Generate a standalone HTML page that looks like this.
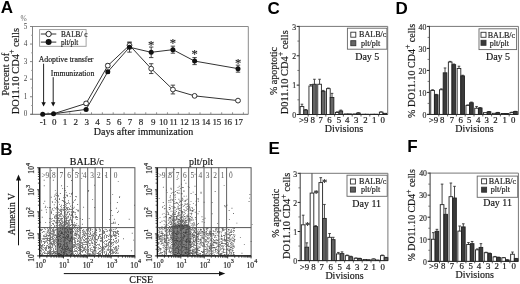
<!DOCTYPE html>
<html><head><meta charset="utf-8"><style>
html,body{margin:0;padding:0;background:#fff;width:520px;height:284px;overflow:hidden}
svg{display:block;filter:blur(0.3px)}
text{font-family:"Liberation Serif",serif;stroke:#222;stroke-width:0.22px;stroke-opacity:0.8} .L{font-family:"Liberation Sans",sans-serif;font-weight:bold;stroke:none}
</style></head><body>
<svg width="520" height="284" viewBox="0 0 520 284" font-family="Liberation Serif"><text class="L" x="0.8" y="13.2" font-family="Liberation Sans" font-weight="bold" font-size="17" fill="#000">A</text>
<line x1="32.5" y1="26.5" x2="248.3" y2="26.5" stroke="#8a8a8a" stroke-width="1" />
<line x1="248.3" y1="26.5" x2="248.3" y2="114.3" stroke="#8a8a8a" stroke-width="1" />
<line x1="32.5" y1="26" x2="32.5" y2="114.8" stroke="#808080" stroke-width="1" />
<line x1="30.5" y1="114.3" x2="248.3" y2="114.3" stroke="#6a6a6a" stroke-width="1" />
<line x1="30" y1="114.3" x2="32.5" y2="114.3" stroke="#777" stroke-width="0.9" />
<text x="27.3" y="116.4" font-size="7.2" text-anchor="end" fill="#444" font-family="Liberation Serif" style="stroke:none">0</text>
<line x1="31" y1="105.52" x2="32.5" y2="105.52" stroke="#999" stroke-width="0.8" />
<line x1="30" y1="96.74" x2="32.5" y2="96.74" stroke="#777" stroke-width="0.9" />
<text x="27.3" y="98.84" font-size="7.2" text-anchor="end" fill="#444" font-family="Liberation Serif" style="stroke:none">1</text>
<line x1="31" y1="87.96" x2="32.5" y2="87.96" stroke="#999" stroke-width="0.8" />
<line x1="30" y1="79.18" x2="32.5" y2="79.18" stroke="#777" stroke-width="0.9" />
<text x="27.3" y="81.28" font-size="7.2" text-anchor="end" fill="#444" font-family="Liberation Serif" style="stroke:none">2</text>
<line x1="31" y1="70.4" x2="32.5" y2="70.4" stroke="#999" stroke-width="0.8" />
<line x1="30" y1="61.62" x2="32.5" y2="61.62" stroke="#777" stroke-width="0.9" />
<text x="27.3" y="63.72" font-size="7.2" text-anchor="end" fill="#444" font-family="Liberation Serif" style="stroke:none">3</text>
<line x1="31" y1="52.84" x2="32.5" y2="52.84" stroke="#999" stroke-width="0.8" />
<line x1="30" y1="44.06" x2="32.5" y2="44.06" stroke="#777" stroke-width="0.9" />
<text x="27.3" y="46.16" font-size="7.2" text-anchor="end" fill="#444" font-family="Liberation Serif" style="stroke:none">4</text>
<line x1="31" y1="35.28" x2="32.5" y2="35.28" stroke="#999" stroke-width="0.8" />
<line x1="30" y1="26.5" x2="32.5" y2="26.5" stroke="#777" stroke-width="0.9" />
<text x="27.3" y="28.6" font-size="7.2" text-anchor="end" fill="#444" font-family="Liberation Serif" style="stroke:none">5</text>
<text x="23.6" y="21" font-size="7.5" text-anchor="middle" fill="#666" font-family="Liberation Serif" style="stroke:none">%</text>
<line x1="48.1" y1="114.3" x2="48.1" y2="112.3" stroke="#777" stroke-width="0.8" />
<text x="43.1" y="125" font-size="9" text-anchor="middle" fill="#222" font-family="Liberation Serif" letter-spacing="-0.4">-1</text>
<line x1="58.95" y1="114.3" x2="58.95" y2="112.3" stroke="#777" stroke-width="0.8" />
<text x="53.95" y="125" font-size="9" text-anchor="middle" fill="#222" font-family="Liberation Serif" letter-spacing="-0.4">0</text>
<line x1="69.8" y1="114.3" x2="69.8" y2="112.3" stroke="#777" stroke-width="0.8" />
<text x="64.8" y="125" font-size="9" text-anchor="middle" fill="#222" font-family="Liberation Serif" letter-spacing="-0.4">1</text>
<line x1="80.65" y1="114.3" x2="80.65" y2="112.3" stroke="#777" stroke-width="0.8" />
<text x="75.65" y="125" font-size="9" text-anchor="middle" fill="#222" font-family="Liberation Serif" letter-spacing="-0.4">2</text>
<line x1="91.5" y1="114.3" x2="91.5" y2="112.3" stroke="#777" stroke-width="0.8" />
<text x="86.5" y="125" font-size="9" text-anchor="middle" fill="#222" font-family="Liberation Serif" letter-spacing="-0.4">3</text>
<line x1="102.35" y1="114.3" x2="102.35" y2="112.3" stroke="#777" stroke-width="0.8" />
<text x="97.35" y="125" font-size="9" text-anchor="middle" fill="#222" font-family="Liberation Serif" letter-spacing="-0.4">4</text>
<line x1="113.2" y1="114.3" x2="113.2" y2="112.3" stroke="#777" stroke-width="0.8" />
<text x="108.2" y="125" font-size="9" text-anchor="middle" fill="#222" font-family="Liberation Serif" letter-spacing="-0.4">5</text>
<line x1="124.05" y1="114.3" x2="124.05" y2="112.3" stroke="#777" stroke-width="0.8" />
<text x="119.05" y="125" font-size="9" text-anchor="middle" fill="#222" font-family="Liberation Serif" letter-spacing="-0.4">6</text>
<line x1="134.9" y1="114.3" x2="134.9" y2="112.3" stroke="#777" stroke-width="0.8" />
<text x="129.9" y="125" font-size="9" text-anchor="middle" fill="#222" font-family="Liberation Serif" letter-spacing="-0.4">7</text>
<line x1="145.75" y1="114.3" x2="145.75" y2="112.3" stroke="#777" stroke-width="0.8" />
<text x="140.75" y="125" font-size="9" text-anchor="middle" fill="#222" font-family="Liberation Serif" letter-spacing="-0.4">8</text>
<line x1="156.6" y1="114.3" x2="156.6" y2="112.3" stroke="#777" stroke-width="0.8" />
<text x="153" y="125" font-size="9" text-anchor="middle" fill="#222" font-family="Liberation Serif" letter-spacing="-0.4">9</text>
<line x1="167.45" y1="114.3" x2="167.45" y2="112.3" stroke="#777" stroke-width="0.8" />
<text x="163.2" y="125" font-size="9" text-anchor="middle" fill="#222" font-family="Liberation Serif" letter-spacing="-0.4">10</text>
<line x1="178.3" y1="114.3" x2="178.3" y2="112.3" stroke="#777" stroke-width="0.8" />
<text x="173.4" y="125" font-size="9" text-anchor="middle" fill="#222" font-family="Liberation Serif" letter-spacing="-0.4">11</text>
<line x1="189.15" y1="114.3" x2="189.15" y2="112.3" stroke="#777" stroke-width="0.8" />
<text x="184.15" y="125" font-size="9" text-anchor="middle" fill="#222" font-family="Liberation Serif" letter-spacing="-0.4">12</text>
<line x1="200" y1="114.3" x2="200" y2="112.3" stroke="#777" stroke-width="0.8" />
<text x="195" y="125" font-size="9" text-anchor="middle" fill="#222" font-family="Liberation Serif" letter-spacing="-0.4">13</text>
<line x1="210.85" y1="114.3" x2="210.85" y2="112.3" stroke="#777" stroke-width="0.8" />
<text x="205.85" y="125" font-size="9" text-anchor="middle" fill="#222" font-family="Liberation Serif" letter-spacing="-0.4">14</text>
<line x1="221.7" y1="114.3" x2="221.7" y2="112.3" stroke="#777" stroke-width="0.8" />
<text x="216.7" y="125" font-size="9" text-anchor="middle" fill="#222" font-family="Liberation Serif" letter-spacing="-0.4">15</text>
<line x1="232.55" y1="114.3" x2="232.55" y2="112.3" stroke="#777" stroke-width="0.8" />
<text x="227.55" y="125" font-size="9" text-anchor="middle" fill="#222" font-family="Liberation Serif" letter-spacing="-0.4">16</text>
<line x1="243.4" y1="114.3" x2="243.4" y2="112.3" stroke="#777" stroke-width="0.8" />
<text x="238.4" y="125" font-size="9" text-anchor="middle" fill="#222" font-family="Liberation Serif" letter-spacing="-0.4">17</text>
<text x="143.5" y="135" font-size="10" text-anchor="middle" fill="#111" font-family="Liberation Serif">Days after immunization</text>
<text transform="translate(8.8,74.3) rotate(-90)" font-size="10.5" text-anchor="middle" font-family="Liberation Serif" fill="#111">Percent of</text>
<text transform="translate(18.7,71.2) rotate(-90)" font-size="10.4" text-anchor="middle" font-family="Liberation Serif" fill="#111">DO11.10 CD4<tspan font-size="7.8" dy="-4.3">+</tspan><tspan dy="4.3"> cells</tspan></text>
<text x="38.7" y="62.1" font-size="7.8" text-anchor="start" fill="#111" font-family="Liberation Serif">Adoptive transfer</text>
<text x="50.8" y="75.6" font-size="7.75" text-anchor="start" fill="#111" font-family="Liberation Serif">Immunization</text>
<line x1="43.6" y1="63.7" x2="43.6" y2="103" stroke="#222" stroke-width="1" />
<path d="M41.4 102.2 L45.8 102.2 L43.6 106.6 Z" fill="#111"/>
<line x1="53.2" y1="77.2" x2="53.2" y2="103" stroke="#222" stroke-width="1" />
<path d="M51 102.2 L55.4 102.2 L53.2 106.6 Z" fill="#111"/>
<polyline points="42.7,114.3 53.55,113.77 86.1,103.41 107.8,65.66 129.5,45.29 151.2,68.64 172.9,89.54 194.6,95.86 238,100.6" fill="none" stroke="#333" stroke-width="1"/>
<polyline points="42.7,114.3 53.55,113.77 86.1,109.38 107.8,71.8 129.5,47.22 151.2,52.31 172.9,49.68 194.6,61.09 238,68.64" fill="none" stroke="#333" stroke-width="1"/>
<line x1="86.1" y1="101.66" x2="86.1" y2="105.17" stroke="#333" stroke-width="0.9" />
<line x1="83.9" y1="101.66" x2="88.3" y2="101.66" stroke="#333" stroke-width="0.9" />
<line x1="83.9" y1="105.17" x2="88.3" y2="105.17" stroke="#333" stroke-width="0.9" />
<line x1="107.8" y1="63.9" x2="107.8" y2="67.41" stroke="#333" stroke-width="0.9" />
<line x1="105.6" y1="63.9" x2="110" y2="63.9" stroke="#333" stroke-width="0.9" />
<line x1="105.6" y1="67.41" x2="110" y2="67.41" stroke="#333" stroke-width="0.9" />
<line x1="129.5" y1="42.13" x2="129.5" y2="48.45" stroke="#333" stroke-width="0.9" />
<line x1="127.3" y1="42.13" x2="131.7" y2="42.13" stroke="#333" stroke-width="0.9" />
<line x1="127.3" y1="48.45" x2="131.7" y2="48.45" stroke="#333" stroke-width="0.9" />
<line x1="151.2" y1="63.73" x2="151.2" y2="73.56" stroke="#333" stroke-width="0.9" />
<line x1="149" y1="63.73" x2="153.4" y2="63.73" stroke="#333" stroke-width="0.9" />
<line x1="149" y1="73.56" x2="153.4" y2="73.56" stroke="#333" stroke-width="0.9" />
<line x1="172.9" y1="85.15" x2="172.9" y2="93.93" stroke="#333" stroke-width="0.9" />
<line x1="170.7" y1="85.15" x2="175.1" y2="85.15" stroke="#333" stroke-width="0.9" />
<line x1="170.7" y1="93.93" x2="175.1" y2="93.93" stroke="#333" stroke-width="0.9" />
<line x1="194.6" y1="94.98" x2="194.6" y2="96.74" stroke="#333" stroke-width="0.9" />
<line x1="192.4" y1="94.98" x2="196.8" y2="94.98" stroke="#333" stroke-width="0.9" />
<line x1="192.4" y1="96.74" x2="196.8" y2="96.74" stroke="#333" stroke-width="0.9" />
<line x1="238" y1="99.73" x2="238" y2="101.48" stroke="#333" stroke-width="0.9" />
<line x1="235.8" y1="99.73" x2="240.2" y2="99.73" stroke="#333" stroke-width="0.9" />
<line x1="235.8" y1="101.48" x2="240.2" y2="101.48" stroke="#333" stroke-width="0.9" />
<line x1="86.1" y1="108.51" x2="86.1" y2="110.26" stroke="#333" stroke-width="0.9" />
<line x1="83.9" y1="108.51" x2="88.3" y2="108.51" stroke="#333" stroke-width="0.9" />
<line x1="83.9" y1="110.26" x2="88.3" y2="110.26" stroke="#333" stroke-width="0.9" />
<line x1="107.8" y1="70.4" x2="107.8" y2="73.21" stroke="#333" stroke-width="0.9" />
<line x1="105.6" y1="70.4" x2="110" y2="70.4" stroke="#333" stroke-width="0.9" />
<line x1="105.6" y1="73.21" x2="110" y2="73.21" stroke="#333" stroke-width="0.9" />
<line x1="129.5" y1="42.3" x2="129.5" y2="52.14" stroke="#333" stroke-width="0.9" />
<line x1="127.3" y1="42.3" x2="131.7" y2="42.3" stroke="#333" stroke-width="0.9" />
<line x1="127.3" y1="52.14" x2="131.7" y2="52.14" stroke="#333" stroke-width="0.9" />
<line x1="151.2" y1="47.05" x2="151.2" y2="57.58" stroke="#333" stroke-width="0.9" />
<line x1="149" y1="47.05" x2="153.4" y2="47.05" stroke="#333" stroke-width="0.9" />
<line x1="149" y1="57.58" x2="153.4" y2="57.58" stroke="#333" stroke-width="0.9" />
<line x1="172.9" y1="46.17" x2="172.9" y2="53.19" stroke="#333" stroke-width="0.9" />
<line x1="170.7" y1="46.17" x2="175.1" y2="46.17" stroke="#333" stroke-width="0.9" />
<line x1="170.7" y1="53.19" x2="175.1" y2="53.19" stroke="#333" stroke-width="0.9" />
<line x1="194.6" y1="57.58" x2="194.6" y2="64.61" stroke="#333" stroke-width="0.9" />
<line x1="192.4" y1="57.58" x2="196.8" y2="57.58" stroke="#333" stroke-width="0.9" />
<line x1="192.4" y1="64.61" x2="196.8" y2="64.61" stroke="#333" stroke-width="0.9" />
<line x1="238" y1="65.13" x2="238" y2="72.16" stroke="#333" stroke-width="0.9" />
<line x1="235.8" y1="65.13" x2="240.2" y2="65.13" stroke="#333" stroke-width="0.9" />
<line x1="235.8" y1="72.16" x2="240.2" y2="72.16" stroke="#333" stroke-width="0.9" />
<circle cx="86.1" cy="103.41" r="2.4" fill="#fff" stroke="#222" stroke-width="0.9"/>
<circle cx="107.8" cy="65.66" r="2.4" fill="#fff" stroke="#222" stroke-width="0.9"/>
<circle cx="129.5" cy="45.29" r="2.4" fill="#fff" stroke="#222" stroke-width="0.9"/>
<circle cx="151.2" cy="68.64" r="2.4" fill="#fff" stroke="#222" stroke-width="0.9"/>
<circle cx="172.9" cy="89.54" r="2.4" fill="#fff" stroke="#222" stroke-width="0.9"/>
<circle cx="194.6" cy="95.86" r="2.4" fill="#fff" stroke="#222" stroke-width="0.9"/>
<circle cx="238" cy="100.6" r="2.4" fill="#fff" stroke="#222" stroke-width="0.9"/>
<circle cx="42.7" cy="114.3" r="2.5" fill="#111"/>
<circle cx="53.55" cy="113.77" r="2.5" fill="#111"/>
<circle cx="86.1" cy="109.38" r="2.5" fill="#111"/>
<circle cx="107.8" cy="71.8" r="2.5" fill="#111"/>
<circle cx="129.5" cy="47.22" r="2.5" fill="#111"/>
<circle cx="151.2" cy="52.31" r="2.5" fill="#111"/>
<circle cx="172.9" cy="49.68" r="2.5" fill="#111"/>
<circle cx="194.6" cy="61.09" r="2.5" fill="#111"/>
<circle cx="238" cy="68.64" r="2.5" fill="#111"/>
<text x="151.2" y="48.6" font-size="12.5" text-anchor="middle" fill="#222" font-family="Liberation Serif">*</text>
<text x="172.9" y="46.7" font-size="12.5" text-anchor="middle" fill="#222" font-family="Liberation Serif">*</text>
<text x="194.6" y="58" font-size="12.5" text-anchor="middle" fill="#222" font-family="Liberation Serif">*</text>
<text x="238" y="66.7" font-size="12.5" text-anchor="middle" fill="#222" font-family="Liberation Serif">*</text>
<rect x="39.6" y="29.6" width="46.5" height="16.7" fill="none" stroke="#999" stroke-width="0.9"/>
<line x1="40.8" y1="34" x2="56.3" y2="34" stroke="#333" stroke-width="1" />
<circle cx="48.6" cy="34" r="2.7" fill="#fff" stroke="#222" stroke-width="1"/>
<line x1="40.8" y1="42.1" x2="56.3" y2="42.1" stroke="#333" stroke-width="1" />
<circle cx="48.6" cy="42.1" r="3" fill="#111"/>
<text x="61" y="36.8" font-size="7.3" text-anchor="start" fill="#222" font-family="Liberation Serif">BALB/ c</text>
<text x="61" y="44.8" font-size="7.2" text-anchor="start" fill="#222" font-family="Liberation Serif">plt/plt</text>
<text class="L" x="0.3" y="155.2" font-family="Liberation Sans" font-weight="bold" font-size="17" fill="#000">B</text>
<rect x="56.5" y="227" width="16" height="28.5" fill="#808080"/>
<path d="M50.95 169.92h.9v.9h-.9zM72.79 169.76h.9v.9h-.9zM77.93 172.98h.9v.9h-.9zM81.86 172.75h.9v.9h-.9zM97 173.97h.9v.9h-.9zM104.93 175.26h.9v.9h-.9zM50.15 177.25h.9v.9h-.9zM81.24 177.95h.9v.9h-.9zM43.72 179.79h.9v.9h-.9zM52.91 179.76h.9v.9h-.9zM71.09 180.04h.9v.9h-.9zM117.82 181.16h.9v.9h-.9zM43.81 185.25h.9v.9h-.9zM61.16 185.25h.9v.9h-.9zM94.11 184.77h.9v.9h-.9zM66.86 185.95h.9v.9h-.9zM62.18 187.9h.9v.9h-.9zM64.2 188.02h.9v.9h-.9zM54.91 190.22h.9v.9h-.9zM64.22 189.96h.9v.9h-.9zM64.93 189.96h.9v.9h-.9zM88.16 190.05h.9v.9h-.9zM87.88 191.21h.9v.9h-.9zM65.77 192.2h.9v.9h-.9zM72.1 191.9h.9v.9h-.9zM55.72 192.8h.9v.9h-.9zM59.89 193.08h.9v.9h-.9zM69.2 193.17h.9v.9h-.9zM71.21 193.06h.9v.9h-.9zM71.85 192.77h.9v.9h-.9zM54.71 194.3h.9v.9h-.9zM57.13 194.29h.9v.9h-.9zM64.25 194.09h.9v.9h-.9zM71.16 194.2h.9v.9h-.9zM112.2 194.21h.9v.9h-.9zM55.81 195.11h.9v.9h-.9zM58.1 194.92h.9v.9h-.9zM63.81 195.23h.9v.9h-.9zM66.22 194.85h.9v.9h-.9zM67.02 194.85h.9v.9h-.9zM53.91 195.79h.9v.9h-.9zM57.81 196.19h.9v.9h-.9zM66.9 195.83h.9v.9h-.9zM69.8 195.92h.9v.9h-.9zM75.05 195.9h.9v.9h-.9zM75.98 196.29h.9v.9h-.9zM119.22 195.97h.9v.9h-.9zM50.8 196.86h.9v.9h-.9zM63.19 197.23h.9v.9h-.9zM64.81 197.02h.9v.9h-.9zM118.99 197.09h.9v.9h-.9zM55.14 197.74h.9v.9h-.9zM59.04 197.95h.9v.9h-.9zM54.73 199.01h.9v.9h-.9zM59.11 199.09h.9v.9h-.9zM75.06 199.26h.9v.9h-.9zM92.15 199.21h.9v.9h-.9zM56.11 199.92h.9v.9h-.9zM61.82 200.04h.9v.9h-.9zM62.81 200.13h.9v.9h-.9zM68.08 200.22h.9v.9h-.9zM73.97 199.92h.9v.9h-.9zM44.29 200.86h.9v.9h-.9zM51.88 201.22h.9v.9h-.9zM57.02 200.92h.9v.9h-.9zM63.25 201.03h.9v.9h-.9zM63.89 201.02h.9v.9h-.9zM51.99 202.22h.9v.9h-.9zM54.78 201.86h.9v.9h-.9zM58.25 201.72h.9v.9h-.9zM63.9 201.97h.9v.9h-.9zM65.15 201.81h.9v.9h-.9zM68.04 201.76h.9v.9h-.9zM73.01 201.76h.9v.9h-.9zM116.94 202.01h.9v.9h-.9zM43.26 202.95h.9v.9h-.9zM64.08 203.21h.9v.9h-.9zM66.13 202.91h.9v.9h-.9zM67.28 203.1h.9v.9h-.9zM69.2 203.26h.9v.9h-.9zM109.99 202.71h.9v.9h-.9zM53.81 204.27h.9v.9h-.9zM59.03 204.22h.9v.9h-.9zM65.07 203.97h.9v.9h-.9zM77.2 204.11h.9v.9h-.9zM61.08 204.86h.9v.9h-.9zM63.2 205.04h.9v.9h-.9zM65.85 204.74h.9v.9h-.9zM71.88 205.09h.9v.9h-.9zM134.08 204.78h.9v.9h-.9zM45.2 205.77h.9v.9h-.9zM57.17 205.72h.9v.9h-.9zM60.08 206.13h.9v.9h-.9zM65.22 206.3h.9v.9h-.9zM69.99 205.78h.9v.9h-.9zM44.83 207.05h.9v.9h-.9zM47.2 207.17h.9v.9h-.9zM49.23 207.02h.9v.9h-.9zM49.89 207.07h.9v.9h-.9zM53.85 207.24h.9v.9h-.9zM56.05 206.78h.9v.9h-.9zM56.97 207.05h.9v.9h-.9zM61.13 206.73h.9v.9h-.9zM63.1 207.13h.9v.9h-.9zM64.09 207.12h.9v.9h-.9zM66.25 207.06h.9v.9h-.9zM66.84 207.29h.9v.9h-.9zM67.94 207.17h.9v.9h-.9zM71.76 207.29h.9v.9h-.9zM73.73 206.84h.9v.9h-.9zM83.15 206.76h.9v.9h-.9zM94.21 207.03h.9v.9h-.9zM52.11 208.21h.9v.9h-.9zM55.27 207.97h.9v.9h-.9zM56.88 207.91h.9v.9h-.9zM57.76 207.97h.9v.9h-.9zM65.85 207.95h.9v.9h-.9zM66.84 208.23h.9v.9h-.9zM69.16 208.16h.9v.9h-.9zM73.2 207.89h.9v.9h-.9zM115.92 207.79h.9v.9h-.9zM45.81 209.24h.9v.9h-.9zM51.76 209.29h.9v.9h-.9zM55.74 208.71h.9v.9h-.9zM58.28 208.92h.9v.9h-.9zM60.17 208.85h.9v.9h-.9zM61.01 208.77h.9v.9h-.9zM62.18 208.87h.9v.9h-.9zM63.16 208.83h.9v.9h-.9zM63.83 208.93h.9v.9h-.9zM65.08 208.98h.9v.9h-.9zM67.1 209.2h.9v.9h-.9zM67.72 208.96h.9v.9h-.9zM68.98 209.13h.9v.9h-.9zM69.77 208.99h.9v.9h-.9zM70.84 208.96h.9v.9h-.9zM71.74 208.92h.9v.9h-.9zM75.83 209.15h.9v.9h-.9zM41.27 209.84h.9v.9h-.9zM53.28 209.89h.9v.9h-.9zM56.92 209.8h.9v.9h-.9zM59.06 209.85h.9v.9h-.9zM60.04 210.13h.9v.9h-.9zM60.84 209.77h.9v.9h-.9zM62.78 210.01h.9v.9h-.9zM65.84 209.8h.9v.9h-.9zM77.25 209.76h.9v.9h-.9zM77.87 209.87h.9v.9h-.9zM110.99 210.11h.9v.9h-.9zM51.11 210.8h.9v.9h-.9zM60.16 210.88h.9v.9h-.9zM61.19 211.06h.9v.9h-.9zM64.71 211.02h.9v.9h-.9zM66.74 210.7h.9v.9h-.9zM68.12 210.7h.9v.9h-.9zM68.86 211.13h.9v.9h-.9zM70.77 211.26h.9v.9h-.9zM72.9 211.01h.9v.9h-.9zM77.75 210.8h.9v.9h-.9zM118.13 210.83h.9v.9h-.9zM46.01 211.79h.9v.9h-.9zM51 212.01h.9v.9h-.9zM55.74 211.93h.9v.9h-.9zM58.1 211.83h.9v.9h-.9zM58.99 212.13h.9v.9h-.9zM60.97 212.26h.9v.9h-.9zM63.97 212.08h.9v.9h-.9zM64.72 212.29h.9v.9h-.9zM66.98 212.07h.9v.9h-.9zM67.74 212.15h.9v.9h-.9zM70.94 211.76h.9v.9h-.9zM72.87 212.16h.9v.9h-.9zM73.76 211.74h.9v.9h-.9zM75.02 212.2h.9v.9h-.9zM117.16 212.06h.9v.9h-.9zM51.02 212.9h.9v.9h-.9zM57.26 213.15h.9v.9h-.9zM60.22 213.03h.9v.9h-.9zM60.9 213.17h.9v.9h-.9zM63.9 212.85h.9v.9h-.9zM64.9 212.72h.9v.9h-.9zM66.74 212.74h.9v.9h-.9zM68.98 212.94h.9v.9h-.9zM72.08 213.24h.9v.9h-.9zM52.87 213.95h.9v.9h-.9zM55.7 213.9h.9v.9h-.9zM58.85 214.01h.9v.9h-.9zM60.06 214.24h.9v.9h-.9zM61.05 214.13h.9v.9h-.9zM65.2 214.26h.9v.9h-.9zM66.27 213.97h.9v.9h-.9zM66.74 214.18h.9v.9h-.9zM68.98 214.08h.9v.9h-.9zM71.16 213.85h.9v.9h-.9zM71.8 213.95h.9v.9h-.9zM74.83 213.75h.9v.9h-.9zM54.9 215.19h.9v.9h-.9zM56.11 214.71h.9v.9h-.9zM56.74 215.18h.9v.9h-.9zM57.84 214.73h.9v.9h-.9zM59.14 215.13h.9v.9h-.9zM62.25 214.75h.9v.9h-.9zM63.82 215.15h.9v.9h-.9zM65.76 215.22h.9v.9h-.9zM69.73 214.77h.9v.9h-.9zM71.12 215.08h.9v.9h-.9zM71.8 214.81h.9v.9h-.9zM110.18 215.17h.9v.9h-.9zM112.18 214.95h.9v.9h-.9zM54.17 215.76h.9v.9h-.9zM54.77 216.22h.9v.9h-.9zM56.14 215.85h.9v.9h-.9zM59 216.13h.9v.9h-.9zM60.09 215.87h.9v.9h-.9zM61.25 216.27h.9v.9h-.9zM63.04 216.19h.9v.9h-.9zM65.22 215.94h.9v.9h-.9zM66.77 216.15h.9v.9h-.9zM68.11 215.73h.9v.9h-.9zM72.08 215.93h.9v.9h-.9zM73.19 215.72h.9v.9h-.9zM75.21 216.24h.9v.9h-.9zM75.98 215.98h.9v.9h-.9zM41.82 216.77h.9v.9h-.9zM54.06 216.88h.9v.9h-.9zM56.28 216.74h.9v.9h-.9zM57.03 216.82h.9v.9h-.9zM57.77 217.2h.9v.9h-.9zM63.13 216.7h.9v.9h-.9zM63.96 217.28h.9v.9h-.9zM65.04 216.71h.9v.9h-.9zM66.24 217.05h.9v.9h-.9zM67.82 216.81h.9v.9h-.9zM70.26 216.86h.9v.9h-.9zM73.28 216.94h.9v.9h-.9zM75.2 217.29h.9v.9h-.9zM76.15 216.86h.9v.9h-.9zM76.92 217.1h.9v.9h-.9zM49 217.9h.9v.9h-.9zM50.15 218.13h.9v.9h-.9zM52.1 217.96h.9v.9h-.9zM54.24 217.7h.9v.9h-.9zM54.94 217.82h.9v.9h-.9zM56.11 218.3h.9v.9h-.9zM56.86 218.1h.9v.9h-.9zM57.94 218.11h.9v.9h-.9zM58.79 217.74h.9v.9h-.9zM60.29 218.25h.9v.9h-.9zM61 217.99h.9v.9h-.9zM62.1 218h.9v.9h-.9zM64.26 218.19h.9v.9h-.9zM64.78 217.99h.9v.9h-.9zM66.11 218.12h.9v.9h-.9zM67.29 217.73h.9v.9h-.9zM69.89 217.73h.9v.9h-.9zM79.75 218.14h.9v.9h-.9zM88.73 217.91h.9v.9h-.9zM50.92 218.72h.9v.9h-.9zM56.9 218.77h.9v.9h-.9zM59.92 218.86h.9v.9h-.9zM61.13 219.24h.9v.9h-.9zM63.95 218.89h.9v.9h-.9zM65.79 218.87h.9v.9h-.9zM69.21 219.23h.9v.9h-.9zM69.82 219.16h.9v.9h-.9zM70.77 219.24h.9v.9h-.9zM75.93 218.93h.9v.9h-.9zM76.92 219.16h.9v.9h-.9zM82.1 219.07h.9v.9h-.9zM109.18 219.19h.9v.9h-.9zM113.93 218.84h.9v.9h-.9zM128.76 218.75h.9v.9h-.9zM52.75 220.27h.9v.9h-.9zM53.77 220.09h.9v.9h-.9zM55.9 220.21h.9v.9h-.9zM56.95 220.27h.9v.9h-.9zM57.94 219.8h.9v.9h-.9zM59.1 219.97h.9v.9h-.9zM59.84 220.17h.9v.9h-.9zM61.2 219.92h.9v.9h-.9zM61.72 219.83h.9v.9h-.9zM64.11 220h.9v.9h-.9zM64.82 219.8h.9v.9h-.9zM66.12 219.86h.9v.9h-.9zM66.78 220.07h.9v.9h-.9zM68.01 219.89h.9v.9h-.9zM68.78 219.99h.9v.9h-.9zM70.89 220.11h.9v.9h-.9zM51.27 220.92h.9v.9h-.9zM54.15 221.15h.9v.9h-.9zM55.83 220.91h.9v.9h-.9zM59.01 220.79h.9v.9h-.9zM61 221.17h.9v.9h-.9zM62.13 220.91h.9v.9h-.9zM63.87 221.08h.9v.9h-.9zM64.93 221.05h.9v.9h-.9zM65.96 220.7h.9v.9h-.9zM68.2 221.03h.9v.9h-.9zM71.17 220.88h.9v.9h-.9zM39.9 221.76h.9v.9h-.9zM45.15 221.95h.9v.9h-.9zM49.27 222.01h.9v.9h-.9zM54.94 222.23h.9v.9h-.9zM56.1 222.04h.9v.9h-.9zM57.04 221.85h.9v.9h-.9zM58.22 221.75h.9v.9h-.9zM59.23 222.29h.9v.9h-.9zM60.08 222.08h.9v.9h-.9zM61.78 221.88h.9v.9h-.9zM63.14 221.82h.9v.9h-.9zM64.09 222.09h.9v.9h-.9zM64.96 221.89h.9v.9h-.9zM65.9 221.78h.9v.9h-.9zM66.87 222.17h.9v.9h-.9zM68.03 222.18h.9v.9h-.9zM69.14 221.74h.9v.9h-.9zM71.13 221.92h.9v.9h-.9zM71.94 222h.9v.9h-.9zM74.01 221.88h.9v.9h-.9zM112.93 221.78h.9v.9h-.9zM114.79 221.83h.9v.9h-.9zM52.18 223h.9v.9h-.9zM52.77 223.01h.9v.9h-.9zM55.95 223.24h.9v.9h-.9zM57.29 223.24h.9v.9h-.9zM60.19 223.07h.9v.9h-.9zM61.3 223.09h.9v.9h-.9zM62.03 222.75h.9v.9h-.9zM63.86 223.07h.9v.9h-.9zM64.98 223.13h.9v.9h-.9zM66.1 222.76h.9v.9h-.9zM67.09 223.11h.9v.9h-.9zM67.81 223.28h.9v.9h-.9zM68.95 222.92h.9v.9h-.9zM76.27 223.28h.9v.9h-.9zM110.96 222.93h.9v.9h-.9zM112.22 222.93h.9v.9h-.9zM113.28 222.84h.9v.9h-.9zM114.76 223.13h.9v.9h-.9zM52.9 224.12h.9v.9h-.9zM58.98 224.16h.9v.9h-.9zM59.77 224.07h.9v.9h-.9zM60.85 224.11h.9v.9h-.9zM62.78 224h.9v.9h-.9zM64.27 224.3h.9v.9h-.9zM65.18 224.08h.9v.9h-.9zM66.28 223.8h.9v.9h-.9zM66.97 223.71h.9v.9h-.9zM67.95 224.27h.9v.9h-.9zM69.21 224.17h.9v.9h-.9zM70.88 223.99h.9v.9h-.9zM72.09 224h.9v.9h-.9zM73.06 224.3h.9v.9h-.9zM73.9 223.71h.9v.9h-.9zM74.73 223.95h.9v.9h-.9zM81.93 223.86h.9v.9h-.9zM117.98 224.03h.9v.9h-.9zM51.01 224.93h.9v.9h-.9zM54.04 225.16h.9v.9h-.9zM55.86 225h.9v.9h-.9zM58.2 224.94h.9v.9h-.9zM59.26 224.74h.9v.9h-.9zM59.79 224.78h.9v.9h-.9zM61.12 225.05h.9v.9h-.9zM62.18 225h.9v.9h-.9zM63.19 225.19h.9v.9h-.9zM64.26 225.19h.9v.9h-.9zM64.7 225.22h.9v.9h-.9zM67.16 225.16h.9v.9h-.9zM68.2 225.29h.9v.9h-.9zM69.2 225.25h.9v.9h-.9zM70.11 225.11h.9v.9h-.9zM72.85 225.03h.9v.9h-.9zM74.22 225.23h.9v.9h-.9zM75.12 225.1h.9v.9h-.9zM76.17 225.16h.9v.9h-.9zM77.87 225.16h.9v.9h-.9zM54.25 226.08h.9v.9h-.9zM56.29 225.72h.9v.9h-.9zM59.2 225.83h.9v.9h-.9zM59.98 225.95h.9v.9h-.9zM61.18 226.14h.9v.9h-.9zM62.29 225.83h.9v.9h-.9zM62.95 226.05h.9v.9h-.9zM65.92 225.76h.9v.9h-.9zM67.01 226.05h.9v.9h-.9zM68.29 225.95h.9v.9h-.9zM68.95 225.8h.9v.9h-.9zM73.89 226h.9v.9h-.9zM78.8 225.91h.9v.9h-.9zM49.23 226.72h.9v.9h-.9zM52.82 227.17h.9v.9h-.9zM55.72 227.16h.9v.9h-.9zM56.98 226.7h.9v.9h-.9zM58.1 227.16h.9v.9h-.9zM58.97 227.14h.9v.9h-.9zM59.82 227.02h.9v.9h-.9zM61.14 226.82h.9v.9h-.9zM61.91 226.76h.9v.9h-.9zM63.14 227.05h.9v.9h-.9zM64.14 226.77h.9v.9h-.9zM64.79 226.76h.9v.9h-.9zM66.01 226.86h.9v.9h-.9zM69.15 227.12h.9v.9h-.9zM69.85 227.27h.9v.9h-.9zM71.9 226.89h.9v.9h-.9zM72.96 227.24h.9v.9h-.9zM74.2 226.89h.9v.9h-.9zM75.24 226.86h.9v.9h-.9zM75.77 226.92h.9v.9h-.9zM76.81 226.85h.9v.9h-.9zM44.28 227.76h.9v.9h-.9zM47.11 227.95h.9v.9h-.9zM49.26 227.93h.9v.9h-.9zM51.19 227.88h.9v.9h-.9zM52.99 227.75h.9v.9h-.9zM60.12 228.14h.9v.9h-.9zM62.25 227.96h.9v.9h-.9zM64.72 228.25h.9v.9h-.9zM65.72 227.78h.9v.9h-.9zM68.79 228.24h.9v.9h-.9zM71.95 228.27h.9v.9h-.9zM72.95 227.73h.9v.9h-.9zM75.27 228.2h.9v.9h-.9zM77.12 228h.9v.9h-.9zM79.01 228.18h.9v.9h-.9zM80.23 227.95h.9v.9h-.9zM80.84 227.98h.9v.9h-.9zM87.71 227.9h.9v.9h-.9zM88.77 227.95h.9v.9h-.9zM90.25 227.99h.9v.9h-.9zM95.14 227.82h.9v.9h-.9zM98.91 228.19h.9v.9h-.9zM101.83 227.76h.9v.9h-.9zM115.96 227.95h.9v.9h-.9zM39.98 228.89h.9v.9h-.9zM41.24 229.2h.9v.9h-.9zM41.85 229.12h.9v.9h-.9zM44.84 229.18h.9v.9h-.9zM48.06 229.29h.9v.9h-.9zM49.79 228.74h.9v.9h-.9zM52.19 229.1h.9v.9h-.9zM53.23 229.26h.9v.9h-.9zM55.05 228.95h.9v.9h-.9zM56.26 229.14h.9v.9h-.9zM56.84 228.91h.9v.9h-.9zM62.13 228.9h.9v.9h-.9zM66.95 229.07h.9v.9h-.9zM69.77 229.04h.9v.9h-.9zM70.88 229.07h.9v.9h-.9zM74.05 228.87h.9v.9h-.9zM75.86 228.96h.9v.9h-.9zM77.82 228.78h.9v.9h-.9zM78.9 228.94h.9v.9h-.9zM83.16 229.24h.9v.9h-.9zM86.29 229.02h.9v.9h-.9zM87.86 228.78h.9v.9h-.9zM90.12 228.98h.9v.9h-.9zM91.81 228.9h.9v.9h-.9zM95.13 228.96h.9v.9h-.9zM95.86 228.83h.9v.9h-.9zM98.85 228.87h.9v.9h-.9zM99.91 229.17h.9v.9h-.9zM104.73 228.8h.9v.9h-.9zM106.02 229.19h.9v.9h-.9zM109.29 229.15h.9v.9h-.9zM111.29 228.85h.9v.9h-.9zM113.09 228.91h.9v.9h-.9zM114.76 228.82h.9v.9h-.9zM40.22 229.77h.9v.9h-.9zM40.85 230.01h.9v.9h-.9zM47.2 229.71h.9v.9h-.9zM47.79 230.06h.9v.9h-.9zM49.88 230.21h.9v.9h-.9zM52.11 230.18h.9v.9h-.9zM52.79 230.1h.9v.9h-.9zM53.78 229.8h.9v.9h-.9zM54.78 229.93h.9v.9h-.9zM59.9 230.26h.9v.9h-.9zM66.85 229.76h.9v.9h-.9zM72.12 230.18h.9v.9h-.9zM74.79 230.16h.9v.9h-.9zM76.91 229.79h.9v.9h-.9zM79.19 229.9h.9v.9h-.9zM80.01 230.15h.9v.9h-.9zM82.12 229.94h.9v.9h-.9zM85.86 230.23h.9v.9h-.9zM87.75 229.82h.9v.9h-.9zM90.19 230.02h.9v.9h-.9zM95.25 229.76h.9v.9h-.9zM96.1 230.08h.9v.9h-.9zM99.71 229.84h.9v.9h-.9zM102.02 230.16h.9v.9h-.9zM103.02 230.24h.9v.9h-.9zM107.28 230.17h.9v.9h-.9zM109.14 229.99h.9v.9h-.9zM111.23 230.11h.9v.9h-.9zM117.24 230.13h.9v.9h-.9zM42.89 231.06h.9v.9h-.9zM44.29 231.27h.9v.9h-.9zM46.77 230.91h.9v.9h-.9zM47.95 231.29h.9v.9h-.9zM50.83 230.71h.9v.9h-.9zM51.73 231.02h.9v.9h-.9zM53.1 231.04h.9v.9h-.9zM53.88 231.14h.9v.9h-.9zM58.72 230.98h.9v.9h-.9zM61.22 231.23h.9v.9h-.9zM64.86 231.14h.9v.9h-.9zM66.7 230.91h.9v.9h-.9zM68.06 230.77h.9v.9h-.9zM70.25 230.9h.9v.9h-.9zM70.81 231.28h.9v.9h-.9zM72.2 230.74h.9v.9h-.9zM73.14 231.29h.9v.9h-.9zM74.92 231.3h.9v.9h-.9zM76.27 230.85h.9v.9h-.9zM77.27 230.86h.9v.9h-.9zM77.92 231.05h.9v.9h-.9zM82.19 230.71h.9v.9h-.9zM83.27 230.85h.9v.9h-.9zM84.05 230.84h.9v.9h-.9zM87.25 230.74h.9v.9h-.9zM88.79 230.75h.9v.9h-.9zM92.18 231.28h.9v.9h-.9zM95.01 231.29h.9v.9h-.9zM99.04 231.21h.9v.9h-.9zM100.22 230.71h.9v.9h-.9zM103.25 230.96h.9v.9h-.9zM103.95 231.05h.9v.9h-.9zM105.76 231.13h.9v.9h-.9zM106.85 231.18h.9v.9h-.9zM109.7 231.15h.9v.9h-.9zM111.71 230.96h.9v.9h-.9zM113.05 231.29h.9v.9h-.9zM113.75 231.12h.9v.9h-.9zM114.83 230.96h.9v.9h-.9zM116.89 230.99h.9v.9h-.9zM117.94 231.12h.9v.9h-.9zM41.81 231.98h.9v.9h-.9zM46.83 232.08h.9v.9h-.9zM49.11 232.3h.9v.9h-.9zM50.26 231.96h.9v.9h-.9zM52.91 232.29h.9v.9h-.9zM53.88 231.99h.9v.9h-.9zM58.74 231.72h.9v.9h-.9zM61.02 232.08h.9v.9h-.9zM62.21 231.95h.9v.9h-.9zM64.07 232.03h.9v.9h-.9zM65.17 231.7h.9v.9h-.9zM65.89 232.23h.9v.9h-.9zM67.88 232.07h.9v.9h-.9zM70.17 231.93h.9v.9h-.9zM71.96 232.29h.9v.9h-.9zM76.72 232.2h.9v.9h-.9zM79.86 232.25h.9v.9h-.9zM81.9 231.91h.9v.9h-.9zM83.29 232.24h.9v.9h-.9zM84.95 231.77h.9v.9h-.9zM89.71 231.76h.9v.9h-.9zM94.21 231.77h.9v.9h-.9zM94.7 232.29h.9v.9h-.9zM96.16 232.18h.9v.9h-.9zM102.15 231.84h.9v.9h-.9zM102.9 232.29h.9v.9h-.9zM103.96 231.78h.9v.9h-.9zM109.95 232.15h.9v.9h-.9zM113.21 232.14h.9v.9h-.9zM115.04 231.75h.9v.9h-.9zM115.89 231.77h.9v.9h-.9zM117.13 232.14h.9v.9h-.9zM40.02 232.99h.9v.9h-.9zM45.7 233.29h.9v.9h-.9zM47.77 232.83h.9v.9h-.9zM49.71 233h.9v.9h-.9zM50.86 232.93h.9v.9h-.9zM51.7 232.86h.9v.9h-.9zM52.89 232.95h.9v.9h-.9zM53.89 232.71h.9v.9h-.9zM57.84 233.24h.9v.9h-.9zM60.19 233.23h.9v.9h-.9zM61 233.04h.9v.9h-.9zM61.89 233.07h.9v.9h-.9zM65.74 232.71h.9v.9h-.9zM70.16 232.8h.9v.9h-.9zM70.82 233.22h.9v.9h-.9zM74.26 232.86h.9v.9h-.9zM75.1 232.84h.9v.9h-.9zM75.76 233.18h.9v.9h-.9zM76.78 232.87h.9v.9h-.9zM83.02 232.8h.9v.9h-.9zM83.79 232.75h.9v.9h-.9zM85.23 233.09h.9v.9h-.9zM85.83 233.05h.9v.9h-.9zM87.76 233.04h.9v.9h-.9zM90.16 232.84h.9v.9h-.9zM93.27 232.94h.9v.9h-.9zM94.02 233.2h.9v.9h-.9zM103.04 232.96h.9v.9h-.9zM104.17 232.83h.9v.9h-.9zM113.1 233h.9v.9h-.9zM114.91 232.72h.9v.9h-.9zM116.02 232.88h.9v.9h-.9zM116.99 232.74h.9v.9h-.9zM117.97 232.91h.9v.9h-.9zM131.78 232.82h.9v.9h-.9zM40.28 233.96h.9v.9h-.9zM45.72 234.27h.9v.9h-.9zM49.15 233.92h.9v.9h-.9zM51.25 233.92h.9v.9h-.9zM52.24 233.83h.9v.9h-.9zM52.99 234.29h.9v.9h-.9zM53.83 234.18h.9v.9h-.9zM54.95 234.17h.9v.9h-.9zM58.23 233.91h.9v.9h-.9zM62.79 234h.9v.9h-.9zM63.8 234.22h.9v.9h-.9zM66.99 233.98h.9v.9h-.9zM67.86 234.25h.9v.9h-.9zM73.73 234.22h.9v.9h-.9zM74.84 233.78h.9v.9h-.9zM76.05 233.98h.9v.9h-.9zM76.78 234.13h.9v.9h-.9zM77.89 234.2h.9v.9h-.9zM81.93 233.97h.9v.9h-.9zM83.15 234.24h.9v.9h-.9zM84 234.28h.9v.9h-.9zM85.76 233.97h.9v.9h-.9zM88.87 234.29h.9v.9h-.9zM90.07 233.76h.9v.9h-.9zM92.26 233.83h.9v.9h-.9zM93.73 233.75h.9v.9h-.9zM94.93 234.28h.9v.9h-.9zM96.13 233.72h.9v.9h-.9zM99.05 233.97h.9v.9h-.9zM100.2 234.11h.9v.9h-.9zM100.76 233.73h.9v.9h-.9zM102.08 234.28h.9v.9h-.9zM105.18 234.16h.9v.9h-.9zM108.83 233.78h.9v.9h-.9zM112.71 234.28h.9v.9h-.9zM113.86 234.22h.9v.9h-.9zM115.18 234.24h.9v.9h-.9zM118.06 234.07h.9v.9h-.9zM39.96 235.05h.9v.9h-.9zM43.05 234.89h.9v.9h-.9zM44.13 234.71h.9v.9h-.9zM46.06 235.19h.9v.9h-.9zM47.08 234.87h.9v.9h-.9zM48.01 235.02h.9v.9h-.9zM49.16 235h.9v.9h-.9zM49.85 235.2h.9v.9h-.9zM52.74 235.08h.9v.9h-.9zM54.21 235.11h.9v.9h-.9zM54.96 235.11h.9v.9h-.9zM55.92 235.17h.9v.9h-.9zM58.83 234.85h.9v.9h-.9zM60.08 235.04h.9v.9h-.9zM65.98 235.26h.9v.9h-.9zM67.91 234.82h.9v.9h-.9zM73.72 235.12h.9v.9h-.9zM75.09 235h.9v.9h-.9zM75.97 235.2h.9v.9h-.9zM77.77 235.24h.9v.9h-.9zM78.8 235.12h.9v.9h-.9zM83.98 235.19h.9v.9h-.9zM84.79 235.22h.9v.9h-.9zM86.74 235.03h.9v.9h-.9zM91.05 234.81h.9v.9h-.9zM91.79 234.98h.9v.9h-.9zM93.09 235.09h.9v.9h-.9zM96.22 235.03h.9v.9h-.9zM99.12 234.8h.9v.9h-.9zM104.1 235.13h.9v.9h-.9zM105.95 235.13h.9v.9h-.9zM106.79 234.99h.9v.9h-.9zM108.86 235.28h.9v.9h-.9zM110.16 234.88h.9v.9h-.9zM110.99 235.22h.9v.9h-.9zM113.12 235.07h.9v.9h-.9zM114.1 235.01h.9v.9h-.9zM115.12 234.78h.9v.9h-.9zM116.21 235.04h.9v.9h-.9zM40.2 236.03h.9v.9h-.9zM42.95 235.92h.9v.9h-.9zM44.23 236.11h.9v.9h-.9zM45.03 236.23h.9v.9h-.9zM45.91 236.11h.9v.9h-.9zM47.86 235.83h.9v.9h-.9zM50.26 236.24h.9v.9h-.9zM52.01 235.76h.9v.9h-.9zM52.74 236h.9v.9h-.9zM55.87 236.26h.9v.9h-.9zM57.21 236.21h.9v.9h-.9zM58.27 236.09h.9v.9h-.9zM58.96 236.07h.9v.9h-.9zM62.71 236.17h.9v.9h-.9zM65.75 236.24h.9v.9h-.9zM66.98 236.28h.9v.9h-.9zM68.08 235.74h.9v.9h-.9zM71.16 236.28h.9v.9h-.9zM76.19 236.18h.9v.9h-.9zM78.9 235.9h.9v.9h-.9zM82.3 235.74h.9v.9h-.9zM82.9 235.75h.9v.9h-.9zM84.93 236.21h.9v.9h-.9zM87.98 236.27h.9v.9h-.9zM89.02 235.99h.9v.9h-.9zM89.79 236h.9v.9h-.9zM91.74 236.26h.9v.9h-.9zM93.23 235.73h.9v.9h-.9zM94.86 235.95h.9v.9h-.9zM97.94 236.01h.9v.9h-.9zM99.27 235.81h.9v.9h-.9zM100.03 235.91h.9v.9h-.9zM102.11 235.92h.9v.9h-.9zM103.96 235.89h.9v.9h-.9zM106.1 235.95h.9v.9h-.9zM107.97 236.03h.9v.9h-.9zM110.75 235.77h.9v.9h-.9zM111.81 235.81h.9v.9h-.9zM114.24 235.84h.9v.9h-.9zM114.81 235.79h.9v.9h-.9zM118.19 236.11h.9v.9h-.9zM39.78 237.11h.9v.9h-.9zM46.78 237.29h.9v.9h-.9zM49.96 236.95h.9v.9h-.9zM51.03 236.86h.9v.9h-.9zM52.22 237.04h.9v.9h-.9zM54.05 236.87h.9v.9h-.9zM56.09 237.03h.9v.9h-.9zM56.75 236.99h.9v.9h-.9zM59.81 236.88h.9v.9h-.9zM62.08 236.72h.9v.9h-.9zM63.12 237h.9v.9h-.9zM63.98 237.26h.9v.9h-.9zM65.03 236.95h.9v.9h-.9zM67.23 237.05h.9v.9h-.9zM67.87 236.81h.9v.9h-.9zM71.06 237.03h.9v.9h-.9zM71.72 237.14h.9v.9h-.9zM73.04 236.71h.9v.9h-.9zM73.8 237.09h.9v.9h-.9zM77.71 237.27h.9v.9h-.9zM79.21 236.73h.9v.9h-.9zM80.83 236.94h.9v.9h-.9zM82.05 236.83h.9v.9h-.9zM84.11 237.07h.9v.9h-.9zM87.11 236.94h.9v.9h-.9zM92.24 237.28h.9v.9h-.9zM94.19 237.11h.9v.9h-.9zM98.18 237.09h.9v.9h-.9zM100.71 236.98h.9v.9h-.9zM102.21 236.75h.9v.9h-.9zM103.78 237.15h.9v.9h-.9zM106.06 237.03h.9v.9h-.9zM111.11 236.77h.9v.9h-.9zM115.76 236.76h.9v.9h-.9zM40.12 237.92h.9v.9h-.9zM41.71 238.28h.9v.9h-.9zM43.03 238.28h.9v.9h-.9zM43.74 237.82h.9v.9h-.9zM45.21 238.01h.9v.9h-.9zM45.86 238.01h.9v.9h-.9zM46.88 238.24h.9v.9h-.9zM47.84 238.06h.9v.9h-.9zM49.01 238.09h.9v.9h-.9zM50.03 237.89h.9v.9h-.9zM52.25 238.06h.9v.9h-.9zM52.81 238.12h.9v.9h-.9zM54.95 237.87h.9v.9h-.9zM61.07 237.93h.9v.9h-.9zM65.2 237.8h.9v.9h-.9zM66.21 238.29h.9v.9h-.9zM67.27 237.72h.9v.9h-.9zM68.72 238.16h.9v.9h-.9zM70.15 237.7h.9v.9h-.9zM70.91 237.75h.9v.9h-.9zM71.91 238.14h.9v.9h-.9zM73.28 238.21h.9v.9h-.9zM74.25 238.24h.9v.9h-.9zM75.02 237.8h.9v.9h-.9zM75.83 237.82h.9v.9h-.9zM78.16 238.04h.9v.9h-.9zM80.21 238h.9v.9h-.9zM82.12 237.94h.9v.9h-.9zM84.88 238.15h.9v.9h-.9zM86.08 238.03h.9v.9h-.9zM87.99 237.99h.9v.9h-.9zM90.01 237.86h.9v.9h-.9zM91.82 237.84h.9v.9h-.9zM94.23 238.14h.9v.9h-.9zM95.03 237.71h.9v.9h-.9zM98.01 238h.9v.9h-.9zM100.25 238.07h.9v.9h-.9zM101.19 238.23h.9v.9h-.9zM102.13 238.22h.9v.9h-.9zM104.2 237.85h.9v.9h-.9zM115 238h.9v.9h-.9zM115.86 238.21h.9v.9h-.9zM122.97 238.28h.9v.9h-.9zM39.97 239.27h.9v.9h-.9zM42.7 238.86h.9v.9h-.9zM44.19 238.85h.9v.9h-.9zM47.13 238.89h.9v.9h-.9zM49.2 239.17h.9v.9h-.9zM50.11 238.9h.9v.9h-.9zM50.9 239.14h.9v.9h-.9zM51.78 238.84h.9v.9h-.9zM52.71 238.73h.9v.9h-.9zM53.78 239.23h.9v.9h-.9zM55.15 239.18h.9v.9h-.9zM56.03 239.3h.9v.9h-.9zM58.29 238.86h.9v.9h-.9zM59.95 238.89h.9v.9h-.9zM64.29 239.13h.9v.9h-.9zM67.06 239.17h.9v.9h-.9zM69.99 238.86h.9v.9h-.9zM71.97 239.02h.9v.9h-.9zM73.23 238.87h.9v.9h-.9zM73.81 238.77h.9v.9h-.9zM76.92 239.24h.9v.9h-.9zM80.74 238.85h.9v.9h-.9zM82.85 238.98h.9v.9h-.9zM84.77 238.9h.9v.9h-.9zM85.77 238.76h.9v.9h-.9zM89.18 239.21h.9v.9h-.9zM91.19 238.75h.9v.9h-.9zM92.27 238.83h.9v.9h-.9zM94.76 239.09h.9v.9h-.9zM96.1 239.1h.9v.9h-.9zM96.99 238.83h.9v.9h-.9zM102.23 239.17h.9v.9h-.9zM108.01 238.83h.9v.9h-.9zM109.01 239.22h.9v.9h-.9zM111 239.05h.9v.9h-.9zM113.01 239.11h.9v.9h-.9zM117.86 238.89h.9v.9h-.9zM40.91 239.98h.9v.9h-.9zM45.92 239.7h.9v.9h-.9zM46.9 239.81h.9v.9h-.9zM47.78 240.09h.9v.9h-.9zM48.85 240.11h.9v.9h-.9zM49.71 240.2h.9v.9h-.9zM52.86 240.12h.9v.9h-.9zM54.28 240.09h.9v.9h-.9zM54.73 239.87h.9v.9h-.9zM58.06 239.75h.9v.9h-.9zM62.84 239.72h.9v.9h-.9zM64.81 239.8h.9v.9h-.9zM68.28 239.8h.9v.9h-.9zM68.93 240.18h.9v.9h-.9zM70.17 240.03h.9v.9h-.9zM71.73 239.76h.9v.9h-.9zM74.16 239.82h.9v.9h-.9zM74.83 240.21h.9v.9h-.9zM77.14 239.72h.9v.9h-.9zM77.85 240.16h.9v.9h-.9zM80.73 240.08h.9v.9h-.9zM83.2 240.24h.9v.9h-.9zM84.01 240.09h.9v.9h-.9zM88.72 240.03h.9v.9h-.9zM89.9 239.94h.9v.9h-.9zM90.89 240.15h.9v.9h-.9zM93.21 239.78h.9v.9h-.9zM96.8 240.28h.9v.9h-.9zM99.77 240.04h.9v.9h-.9zM101.23 240.1h.9v.9h-.9zM105.3 240.05h.9v.9h-.9zM106.75 240.12h.9v.9h-.9zM109.99 240.16h.9v.9h-.9zM113.16 239.71h.9v.9h-.9zM115.95 240.1h.9v.9h-.9zM118.01 240.18h.9v.9h-.9zM132.95 239.71h.9v.9h-.9zM40.88 241.02h.9v.9h-.9zM42.77 241.11h.9v.9h-.9zM43.76 240.99h.9v.9h-.9zM45.3 240.73h.9v.9h-.9zM45.74 241.03h.9v.9h-.9zM49.02 240.91h.9v.9h-.9zM51.85 240.96h.9v.9h-.9zM52.93 241.04h.9v.9h-.9zM53.95 241.29h.9v.9h-.9zM55 241.15h.9v.9h-.9zM58.13 240.82h.9v.9h-.9zM59.82 240.81h.9v.9h-.9zM61.14 240.71h.9v.9h-.9zM63.27 241.27h.9v.9h-.9zM69.17 241.09h.9v.9h-.9zM70.75 241.01h.9v.9h-.9zM74.04 241.28h.9v.9h-.9zM75.19 241.28h.9v.9h-.9zM76.95 240.98h.9v.9h-.9zM77.74 240.87h.9v.9h-.9zM79.24 240.92h.9v.9h-.9zM84.85 241.04h.9v.9h-.9zM86.2 240.73h.9v.9h-.9zM87.95 241.03h.9v.9h-.9zM91.27 241.27h.9v.9h-.9zM94.17 240.99h.9v.9h-.9zM99.98 240.74h.9v.9h-.9zM101.29 240.93h.9v.9h-.9zM101.96 240.74h.9v.9h-.9zM103.83 241.08h.9v.9h-.9zM106.13 241.05h.9v.9h-.9zM108.91 241.01h.9v.9h-.9zM110.3 240.9h.9v.9h-.9zM114 241.21h.9v.9h-.9zM114.83 240.71h.9v.9h-.9zM115.97 241.27h.9v.9h-.9zM118 240.76h.9v.9h-.9zM41.1 242.23h.9v.9h-.9zM43.99 241.83h.9v.9h-.9zM44.85 242.14h.9v.9h-.9zM46.87 241.74h.9v.9h-.9zM50.28 242.29h.9v.9h-.9zM50.85 241.81h.9v.9h-.9zM53.01 242.16h.9v.9h-.9zM53.89 242.1h.9v.9h-.9zM55.99 241.78h.9v.9h-.9zM65.76 242.25h.9v.9h-.9zM67.25 242.26h.9v.9h-.9zM71.83 241.75h.9v.9h-.9zM73.77 242.04h.9v.9h-.9zM74.86 242.23h.9v.9h-.9zM78.97 241.96h.9v.9h-.9zM80.17 242.23h.9v.9h-.9zM81.13 241.83h.9v.9h-.9zM82.11 242.17h.9v.9h-.9zM83.3 242.13h.9v.9h-.9zM84.16 242.21h.9v.9h-.9zM85.25 241.96h.9v.9h-.9zM85.93 242.02h.9v.9h-.9zM87.74 242.08h.9v.9h-.9zM91.21 241.71h.9v.9h-.9zM91.71 242.03h.9v.9h-.9zM94.02 241.7h.9v.9h-.9zM95.28 242.23h.9v.9h-.9zM96.09 242h.9v.9h-.9zM103.19 241.89h.9v.9h-.9zM108.01 242.17h.9v.9h-.9zM109.02 242.04h.9v.9h-.9zM111.06 242.14h.9v.9h-.9zM112.11 242.24h.9v.9h-.9zM113.02 241.99h.9v.9h-.9zM114.87 241.94h.9v.9h-.9zM117.29 242h.9v.9h-.9zM44.09 242.99h.9v.9h-.9zM47.21 242.84h.9v.9h-.9zM49.19 242.97h.9v.9h-.9zM50 242.92h.9v.9h-.9zM51.12 243.08h.9v.9h-.9zM51.86 243.26h.9v.9h-.9zM52.88 243.05h.9v.9h-.9zM54.27 243.29h.9v.9h-.9zM54.83 242.8h.9v.9h-.9zM57.1 243.23h.9v.9h-.9zM57.72 242.77h.9v.9h-.9zM58.78 242.96h.9v.9h-.9zM60.14 243.28h.9v.9h-.9zM64.07 243.23h.9v.9h-.9zM65.8 243.24h.9v.9h-.9zM69.07 242.71h.9v.9h-.9zM71.7 243.14h.9v.9h-.9zM74.9 243.19h.9v.9h-.9zM76.83 243.3h.9v.9h-.9zM77.97 242.89h.9v.9h-.9zM81.21 242.94h.9v.9h-.9zM82.18 243.28h.9v.9h-.9zM88.7 243.02h.9v.9h-.9zM89.7 243.3h.9v.9h-.9zM91.26 242.71h.9v.9h-.9zM92.17 243.1h.9v.9h-.9zM93.75 243.2h.9v.9h-.9zM104.17 242.93h.9v.9h-.9zM106.24 243.26h.9v.9h-.9zM107.91 242.96h.9v.9h-.9zM110.03 243.26h.9v.9h-.9zM111.23 243.04h.9v.9h-.9zM115.77 243.21h.9v.9h-.9zM40.11 243.92h.9v.9h-.9zM42.09 244.3h.9v.9h-.9zM42.7 244.24h.9v.9h-.9zM48.29 243.93h.9v.9h-.9zM50.95 243.92h.9v.9h-.9zM51.95 244.21h.9v.9h-.9zM53.29 244.17h.9v.9h-.9zM54.09 243.88h.9v.9h-.9zM57 243.83h.9v.9h-.9zM58.21 244.09h.9v.9h-.9zM60.7 243.91h.9v.9h-.9zM63.03 243.9h.9v.9h-.9zM64.14 243.92h.9v.9h-.9zM66.72 244.21h.9v.9h-.9zM73.28 244.07h.9v.9h-.9zM74.24 244.24h.9v.9h-.9zM74.71 244.07h.9v.9h-.9zM76.04 244.2h.9v.9h-.9zM77.21 243.89h.9v.9h-.9zM77.72 243.76h.9v.9h-.9zM79.02 244.26h.9v.9h-.9zM79.87 243.92h.9v.9h-.9zM82.1 243.79h.9v.9h-.9zM83.05 244.13h.9v.9h-.9zM83.73 244.1h.9v.9h-.9zM85.26 244.11h.9v.9h-.9zM85.95 243.73h.9v.9h-.9zM86.91 244.23h.9v.9h-.9zM93.94 244.2h.9v.9h-.9zM94.94 244.11h.9v.9h-.9zM96.96 243.94h.9v.9h-.9zM97.91 244.17h.9v.9h-.9zM98.99 243.87h.9v.9h-.9zM101.99 243.81h.9v.9h-.9zM104.84 243.88h.9v.9h-.9zM106.24 244.22h.9v.9h-.9zM107.97 243.82h.9v.9h-.9zM110.94 243.82h.9v.9h-.9zM112.99 243.73h.9v.9h-.9zM40.29 245.22h.9v.9h-.9zM41.02 245.05h.9v.9h-.9zM42.19 245.12h.9v.9h-.9zM44 245.03h.9v.9h-.9zM46.19 244.97h.9v.9h-.9zM47.21 245.03h.9v.9h-.9zM51.9 244.8h.9v.9h-.9zM53.72 244.78h.9v.9h-.9zM55.02 244.97h.9v.9h-.9zM57.02 244.85h.9v.9h-.9zM57.73 244.79h.9v.9h-.9zM59.98 244.8h.9v.9h-.9zM62.74 245.28h.9v.9h-.9zM64.09 245.15h.9v.9h-.9zM67.13 245.24h.9v.9h-.9zM72.85 244.72h.9v.9h-.9zM73.78 245.26h.9v.9h-.9zM74.91 245.28h.9v.9h-.9zM76.76 244.92h.9v.9h-.9zM78.27 244.95h.9v.9h-.9zM79.73 245.24h.9v.9h-.9zM81.17 245.06h.9v.9h-.9zM82.2 244.96h.9v.9h-.9zM87.11 245.14h.9v.9h-.9zM89.11 245.16h.9v.9h-.9zM89.76 244.74h.9v.9h-.9zM92.21 244.95h.9v.9h-.9zM95.96 245.06h.9v.9h-.9zM98.71 245.1h.9v.9h-.9zM106.27 245.1h.9v.9h-.9zM106.8 245.08h.9v.9h-.9zM108.26 244.87h.9v.9h-.9zM112.24 245.13h.9v.9h-.9zM117.83 245.09h.9v.9h-.9zM41.15 246.11h.9v.9h-.9zM42.25 246.3h.9v.9h-.9zM46.19 246.26h.9v.9h-.9zM47.92 246.12h.9v.9h-.9zM48.8 245.97h.9v.9h-.9zM49.98 245.76h.9v.9h-.9zM52.26 245.76h.9v.9h-.9zM55.08 246.03h.9v.9h-.9zM56.99 246.2h.9v.9h-.9zM58.9 246.23h.9v.9h-.9zM59.99 246.01h.9v.9h-.9zM61.76 246.21h.9v.9h-.9zM63.97 245.73h.9v.9h-.9zM65.2 246.16h.9v.9h-.9zM65.89 245.75h.9v.9h-.9zM67.01 246.15h.9v.9h-.9zM71.78 246.1h.9v.9h-.9zM73.24 245.73h.9v.9h-.9zM74.3 245.94h.9v.9h-.9zM75.06 245.77h.9v.9h-.9zM75.92 246.14h.9v.9h-.9zM78.98 246.25h.9v.9h-.9zM79.91 246.07h.9v.9h-.9zM82.11 245.98h.9v.9h-.9zM85.06 245.89h.9v.9h-.9zM87.79 246.16h.9v.9h-.9zM93.11 246.18h.9v.9h-.9zM94.24 245.89h.9v.9h-.9zM99.97 246.05h.9v.9h-.9zM102.24 245.83h.9v.9h-.9zM103.8 245.87h.9v.9h-.9zM105.04 246.07h.9v.9h-.9zM106.18 246.03h.9v.9h-.9zM107.9 245.71h.9v.9h-.9zM109.21 245.78h.9v.9h-.9zM111.1 246.22h.9v.9h-.9zM115.29 246.16h.9v.9h-.9zM115.9 246.01h.9v.9h-.9zM118.23 246.1h.9v.9h-.9zM40.06 246.73h.9v.9h-.9zM40.87 247.23h.9v.9h-.9zM42.94 246.95h.9v.9h-.9zM44.91 247h.9v.9h-.9zM45.96 247.15h.9v.9h-.9zM47.91 247.04h.9v.9h-.9zM48.93 247.04h.9v.9h-.9zM49.81 247.22h.9v.9h-.9zM51.24 246.76h.9v.9h-.9zM52.03 246.95h.9v.9h-.9zM54.74 246.82h.9v.9h-.9zM58.89 247.11h.9v.9h-.9zM61.91 247.11h.9v.9h-.9zM66.08 246.9h.9v.9h-.9zM67.81 246.86h.9v.9h-.9zM71.74 247.19h.9v.9h-.9zM73.13 246.99h.9v.9h-.9zM73.72 246.84h.9v.9h-.9zM76.23 247.18h.9v.9h-.9zM77.29 246.7h.9v.9h-.9zM78.02 246.73h.9v.9h-.9zM80.05 246.86h.9v.9h-.9zM80.98 246.87h.9v.9h-.9zM82.1 247.08h.9v.9h-.9zM83.28 246.76h.9v.9h-.9zM83.87 246.92h.9v.9h-.9zM85.24 246.76h.9v.9h-.9zM87.91 246.97h.9v.9h-.9zM90.74 246.91h.9v.9h-.9zM92.93 247.08h.9v.9h-.9zM94.09 247.11h.9v.9h-.9zM94.95 247.21h.9v.9h-.9zM96.02 246.91h.9v.9h-.9zM97.91 247.25h.9v.9h-.9zM100.98 246.92h.9v.9h-.9zM103.11 246.81h.9v.9h-.9zM105.25 246.92h.9v.9h-.9zM108.03 247.26h.9v.9h-.9zM113.2 247.08h.9v.9h-.9zM115.16 247.02h.9v.9h-.9zM116.3 247.16h.9v.9h-.9zM41.06 248.24h.9v.9h-.9zM41.77 247.71h.9v.9h-.9zM43.96 247.72h.9v.9h-.9zM44.7 248.24h.9v.9h-.9zM45.89 247.98h.9v.9h-.9zM48.09 248.08h.9v.9h-.9zM49.88 247.76h.9v.9h-.9zM50.83 247.72h.9v.9h-.9zM53.15 248.19h.9v.9h-.9zM55.05 248.21h.9v.9h-.9zM61 247.98h.9v.9h-.9zM62.1 248.2h.9v.9h-.9zM63.94 248.16h.9v.9h-.9zM65 248.11h.9v.9h-.9zM66.71 248.12h.9v.9h-.9zM68.06 248.01h.9v.9h-.9zM70.28 248.15h.9v.9h-.9zM72.13 247.93h.9v.9h-.9zM75.27 247.96h.9v.9h-.9zM76.13 247.79h.9v.9h-.9zM78.23 247.79h.9v.9h-.9zM79.05 247.84h.9v.9h-.9zM79.82 248.13h.9v.9h-.9zM82.73 248.05h.9v.9h-.9zM84.13 248.03h.9v.9h-.9zM89.74 248.12h.9v.9h-.9zM94.25 247.93h.9v.9h-.9zM95.27 248.16h.9v.9h-.9zM99 247.99h.9v.9h-.9zM100.17 247.85h.9v.9h-.9zM101.87 248.2h.9v.9h-.9zM103.13 247.86h.9v.9h-.9zM103.98 247.85h.9v.9h-.9zM107.72 247.96h.9v.9h-.9zM113.94 247.74h.9v.9h-.9zM115.15 247.89h.9v.9h-.9zM116.02 248.24h.9v.9h-.9zM117.96 247.84h.9v.9h-.9zM41.79 248.92h.9v.9h-.9zM42.71 249.16h.9v.9h-.9zM45.12 248.74h.9v.9h-.9zM46.13 248.72h.9v.9h-.9zM50.91 248.96h.9v.9h-.9zM53.13 249.29h.9v.9h-.9zM55.15 249h.9v.9h-.9zM62.04 249.26h.9v.9h-.9zM63.16 248.85h.9v.9h-.9zM65.06 249.17h.9v.9h-.9zM66.2 249.01h.9v.9h-.9zM66.88 249.03h.9v.9h-.9zM68.74 248.84h.9v.9h-.9zM74.05 248.79h.9v.9h-.9zM77.1 248.78h.9v.9h-.9zM79.25 249.1h.9v.9h-.9zM80.14 249.07h.9v.9h-.9zM81.12 249.16h.9v.9h-.9zM83.28 249.25h.9v.9h-.9zM84.26 249.3h.9v.9h-.9zM84.81 248.85h.9v.9h-.9zM85.79 248.84h.9v.9h-.9zM88.07 248.94h.9v.9h-.9zM89.99 248.83h.9v.9h-.9zM91.22 248.92h.9v.9h-.9zM92.26 248.92h.9v.9h-.9zM93.95 249.23h.9v.9h-.9zM97.73 248.78h.9v.9h-.9zM101.13 248.83h.9v.9h-.9zM102.78 249.17h.9v.9h-.9zM104.18 249.16h.9v.9h-.9zM106.78 249.12h.9v.9h-.9zM108.04 248.92h.9v.9h-.9zM108.8 249.16h.9v.9h-.9zM111.22 248.79h.9v.9h-.9zM111.79 249.04h.9v.9h-.9zM114.25 249.12h.9v.9h-.9zM115.96 248.76h.9v.9h-.9zM117.22 248.87h.9v.9h-.9zM39.78 250.04h.9v.9h-.9zM40.76 250.13h.9v.9h-.9zM42.85 250.13h.9v.9h-.9zM45.05 249.83h.9v.9h-.9zM46.05 249.88h.9v.9h-.9zM48.77 249.95h.9v.9h-.9zM50.03 250.06h.9v.9h-.9zM53.16 249.77h.9v.9h-.9zM59.99 250.13h.9v.9h-.9zM64.71 249.96h.9v.9h-.9zM67.72 250.13h.9v.9h-.9zM69.21 250.04h.9v.9h-.9zM70.01 250.16h.9v.9h-.9zM71.27 249.73h.9v.9h-.9zM72.06 250.11h.9v.9h-.9zM74.73 250.02h.9v.9h-.9zM75.94 249.94h.9v.9h-.9zM78.12 250.04h.9v.9h-.9zM79.25 249.85h.9v.9h-.9zM79.82 250.12h.9v.9h-.9zM81.77 250.06h.9v.9h-.9zM83.03 250.09h.9v.9h-.9zM83.73 250.19h.9v.9h-.9zM85.83 249.96h.9v.9h-.9zM88.27 249.75h.9v.9h-.9zM90.06 250.28h.9v.9h-.9zM93.27 250.24h.9v.9h-.9zM94.16 250.25h.9v.9h-.9zM94.93 250.16h.9v.9h-.9zM99.86 250.22h.9v.9h-.9zM101.24 250.18h.9v.9h-.9zM102.7 249.77h.9v.9h-.9zM107.26 249.96h.9v.9h-.9zM108.25 250.19h.9v.9h-.9zM109.76 249.81h.9v.9h-.9zM110.82 250.04h.9v.9h-.9zM111.83 250.23h.9v.9h-.9zM112.7 249.71h.9v.9h-.9zM115.03 249.72h.9v.9h-.9zM116.07 250.02h.9v.9h-.9zM117.2 250.28h.9v.9h-.9zM130.93 250.23h.9v.9h-.9zM41.06 251.27h.9v.9h-.9zM44.09 251.14h.9v.9h-.9zM47.13 250.91h.9v.9h-.9zM47.76 251.03h.9v.9h-.9zM48.87 250.88h.9v.9h-.9zM49.95 251.28h.9v.9h-.9zM51.03 250.94h.9v.9h-.9zM52.19 251.01h.9v.9h-.9zM52.91 250.81h.9v.9h-.9zM53.75 250.87h.9v.9h-.9zM54.95 251.04h.9v.9h-.9zM56.15 250.97h.9v.9h-.9zM61.03 250.86h.9v.9h-.9zM62.83 250.72h.9v.9h-.9zM64.85 251.26h.9v.9h-.9zM65.95 250.96h.9v.9h-.9zM69.75 250.83h.9v.9h-.9zM70.86 251.07h.9v.9h-.9zM72.86 251.23h.9v.9h-.9zM73.94 250.74h.9v.9h-.9zM74.83 251.07h.9v.9h-.9zM76 251.19h.9v.9h-.9zM76.87 250.95h.9v.9h-.9zM80.9 251.08h.9v.9h-.9zM82.26 251.02h.9v.9h-.9zM85 251.1h.9v.9h-.9zM88 251.28h.9v.9h-.9zM90.81 250.95h.9v.9h-.9zM91.96 250.85h.9v.9h-.9zM93.04 250.76h.9v.9h-.9zM95.85 250.72h.9v.9h-.9zM99.05 251.06h.9v.9h-.9zM99.73 251h.9v.9h-.9zM103.78 251.09h.9v.9h-.9zM105.75 250.87h.9v.9h-.9zM109.23 250.93h.9v.9h-.9zM109.82 251.23h.9v.9h-.9zM111.87 250.94h.9v.9h-.9zM112.72 251.25h.9v.9h-.9zM114.72 251.04h.9v.9h-.9zM43 251.89h.9v.9h-.9zM44.27 252.28h.9v.9h-.9zM47.1 252.24h.9v.9h-.9zM48.25 252.18h.9v.9h-.9zM48.92 252.11h.9v.9h-.9zM49.85 251.82h.9v.9h-.9zM51.24 252.3h.9v.9h-.9zM53.15 252.11h.9v.9h-.9zM54.01 251.78h.9v.9h-.9zM54.91 251.91h.9v.9h-.9zM56.84 252.22h.9v.9h-.9zM60.99 252.2h.9v.9h-.9zM62.99 252.05h.9v.9h-.9zM63.85 252.14h.9v.9h-.9zM68.75 252.15h.9v.9h-.9zM77.27 251.97h.9v.9h-.9zM80.05 251.75h.9v.9h-.9zM81.93 251.86h.9v.9h-.9zM85.14 251.81h.9v.9h-.9zM92.05 252.04h.9v.9h-.9zM92.88 252.18h.9v.9h-.9zM98.12 252.09h.9v.9h-.9zM100.87 251.73h.9v.9h-.9zM103.73 252h.9v.9h-.9zM106.15 252.16h.9v.9h-.9zM109.1 252.05h.9v.9h-.9zM112.24 252.07h.9v.9h-.9zM113.09 251.79h.9v.9h-.9zM114.23 251.98h.9v.9h-.9zM115.98 251.84h.9v.9h-.9zM39.79 252.98h.9v.9h-.9zM41.99 252.8h.9v.9h-.9zM44.1 253.17h.9v.9h-.9zM44.93 252.75h.9v.9h-.9zM46.07 253.18h.9v.9h-.9zM47.29 253.25h.9v.9h-.9zM48.02 253.1h.9v.9h-.9zM48.92 253.13h.9v.9h-.9zM49.96 253.04h.9v.9h-.9zM50.98 252.88h.9v.9h-.9zM52.01 253.12h.9v.9h-.9zM53 253.1h.9v.9h-.9zM54.29 252.83h.9v.9h-.9zM55.04 253.12h.9v.9h-.9zM55.94 252.91h.9v.9h-.9zM57.18 253.22h.9v.9h-.9zM58.04 252.98h.9v.9h-.9zM59.14 253.02h.9v.9h-.9zM62.77 253.19h.9v.9h-.9zM64.11 252.81h.9v.9h-.9zM65.75 253.22h.9v.9h-.9zM71.12 252.93h.9v.9h-.9zM71.89 252.84h.9v.9h-.9zM72.86 252.81h.9v.9h-.9zM75.04 253.19h.9v.9h-.9zM77.27 253.26h.9v.9h-.9zM79.2 253.09h.9v.9h-.9zM79.93 253.12h.9v.9h-.9zM86.24 252.7h.9v.9h-.9zM88 252.96h.9v.9h-.9zM89.08 253.17h.9v.9h-.9zM89.85 253.16h.9v.9h-.9zM91.88 253.27h.9v.9h-.9zM92.87 252.97h.9v.9h-.9zM96.1 252.72h.9v.9h-.9zM96.92 253.08h.9v.9h-.9zM97.73 253.21h.9v.9h-.9zM98.73 252.75h.9v.9h-.9zM99.87 253.05h.9v.9h-.9zM102.01 252.9h.9v.9h-.9zM104.07 252.7h.9v.9h-.9zM106.03 252.81h.9v.9h-.9zM108.08 253.17h.9v.9h-.9zM111.03 252.91h.9v.9h-.9zM112 253.28h.9v.9h-.9zM113.15 252.89h.9v.9h-.9zM115.13 253h.9v.9h-.9zM115.97 252.7h.9v.9h-.9zM117.24 252.75h.9v.9h-.9zM118.1 252.72h.9v.9h-.9zM41.04 253.86h.9v.9h-.9zM42.27 254.07h.9v.9h-.9zM46.93 253.83h.9v.9h-.9zM49.25 253.84h.9v.9h-.9zM50.25 254.13h.9v.9h-.9zM50.92 254.14h.9v.9h-.9zM52.13 253.84h.9v.9h-.9zM54.25 254.22h.9v.9h-.9zM54.8 254.25h.9v.9h-.9zM57.18 254.05h.9v.9h-.9zM58.11 253.95h.9v.9h-.9zM59.21 254.13h.9v.9h-.9zM59.96 254.11h.9v.9h-.9zM60.85 254.02h.9v.9h-.9zM62.85 253.99h.9v.9h-.9zM66.09 253.78h.9v.9h-.9zM66.78 254h.9v.9h-.9zM70.24 254.11h.9v.9h-.9zM71.24 253.86h.9v.9h-.9zM73.24 254.01h.9v.9h-.9zM73.81 253.99h.9v.9h-.9zM76.29 254.02h.9v.9h-.9zM78.14 254.06h.9v.9h-.9zM79.98 254.19h.9v.9h-.9zM80.92 254.21h.9v.9h-.9zM82.71 254.16h.9v.9h-.9zM83.84 253.93h.9v.9h-.9zM85.2 254.18h.9v.9h-.9zM87.95 254.3h.9v.9h-.9zM88.91 253.79h.9v.9h-.9zM89.87 254.07h.9v.9h-.9zM91.22 253.96h.9v.9h-.9zM91.76 254.01h.9v.9h-.9zM93 253.76h.9v.9h-.9zM94 253.75h.9v.9h-.9zM98.08 253.75h.9v.9h-.9zM98.71 254.02h.9v.9h-.9zM99.87 253.77h.9v.9h-.9zM102.1 254.18h.9v.9h-.9zM105.19 254.11h.9v.9h-.9zM106.12 253.78h.9v.9h-.9zM107.99 254.09h.9v.9h-.9zM109.73 253.97h.9v.9h-.9zM41.24 255.12h.9v.9h-.9zM47.71 255.13h.9v.9h-.9zM49.83 254.96h.9v.9h-.9zM52.82 254.82h.9v.9h-.9zM55.23 254.95h.9v.9h-.9zM55.95 254.78h.9v.9h-.9zM57.95 254.93h.9v.9h-.9zM58.83 255.29h.9v.9h-.9zM71.24 255.15h.9v.9h-.9zM72.21 254.87h.9v.9h-.9zM73.05 255.28h.9v.9h-.9zM74.21 255.09h.9v.9h-.9zM76.1 255.23h.9v.9h-.9zM82.01 255.29h.9v.9h-.9zM83.88 254.84h.9v.9h-.9zM86.16 254.82h.9v.9h-.9zM87.28 254.78h.9v.9h-.9zM89.15 254.74h.9v.9h-.9zM91.27 254.9h.9v.9h-.9zM93.26 255.08h.9v.9h-.9zM96.15 254.93h.9v.9h-.9zM97.23 255.1h.9v.9h-.9zM97.74 255.09h.9v.9h-.9zM98.84 254.73h.9v.9h-.9zM100.15 254.86h.9v.9h-.9zM102.18 255.14h.9v.9h-.9zM105.2 255.25h.9v.9h-.9zM106.75 254.85h.9v.9h-.9zM108.87 255.02h.9v.9h-.9zM110.17 255.17h.9v.9h-.9zM110.72 255.24h.9v.9h-.9zM114.27 255.08h.9v.9h-.9zM115.29 255.12h.9v.9h-.9zM116.23 255.06h.9v.9h-.9zM117.83 255.18h.9v.9h-.9z" fill="#222" opacity="0.72"/>
<rect x="39.7" y="167.7" width="95.2" height="88.2" fill="none" stroke="#555" stroke-width="1"/>
<line x1="39.7" y1="167.7" x2="39.7" y2="256.5" stroke="#111" stroke-width="1.3" />
<line x1="39.1" y1="255.9" x2="134.9" y2="255.9" stroke="#111" stroke-width="1.3" />
<line x1="50.1" y1="167.7" x2="50.1" y2="255.9" stroke="#505050" stroke-width="0.9" />
<line x1="57.4" y1="167.7" x2="57.4" y2="255.9" stroke="#505050" stroke-width="0.9" />
<line x1="64.6" y1="167.7" x2="64.6" y2="255.9" stroke="#505050" stroke-width="0.9" />
<line x1="72.4" y1="167.7" x2="72.4" y2="255.9" stroke="#505050" stroke-width="0.9" />
<line x1="80.1" y1="167.7" x2="80.1" y2="255.9" stroke="#505050" stroke-width="0.9" />
<line x1="87.7" y1="167.7" x2="87.7" y2="255.9" stroke="#505050" stroke-width="0.9" />
<line x1="95.1" y1="167.7" x2="95.1" y2="255.9" stroke="#505050" stroke-width="0.9" />
<line x1="102.5" y1="167.7" x2="102.5" y2="255.9" stroke="#505050" stroke-width="0.9" />
<line x1="110.6" y1="167.7" x2="110.6" y2="255.9" stroke="#505050" stroke-width="0.9" />
<line x1="39.7" y1="227.6" x2="134.9" y2="227.6" stroke="#555" stroke-width="1" />
<text x="45.4" y="177.5" font-size="7.4" text-anchor="middle" fill="#555" font-family="Liberation Serif" style="stroke:none">&gt;9</text>
<text x="53.9" y="177.5" font-size="7.4" text-anchor="middle" fill="#555" font-family="Liberation Serif" style="stroke:none">8</text>
<text x="61.3" y="177.5" font-size="7.4" text-anchor="middle" fill="#555" font-family="Liberation Serif" style="stroke:none">7</text>
<text x="69.1" y="177.5" font-size="7.4" text-anchor="middle" fill="#555" font-family="Liberation Serif" style="stroke:none">6</text>
<text x="76.5" y="177.5" font-size="7.4" text-anchor="middle" fill="#555" font-family="Liberation Serif" style="stroke:none">5</text>
<text x="84.6" y="177.5" font-size="7.4" text-anchor="middle" fill="#555" font-family="Liberation Serif" style="stroke:none">4</text>
<text x="92" y="177.5" font-size="7.4" text-anchor="middle" fill="#555" font-family="Liberation Serif" style="stroke:none">3</text>
<text x="98.8" y="177.5" font-size="7.4" text-anchor="middle" fill="#555" font-family="Liberation Serif" style="stroke:none">2</text>
<text x="106.6" y="177.5" font-size="7.4" text-anchor="middle" fill="#555" font-family="Liberation Serif" style="stroke:none">1</text>
<text x="115.5" y="177.5" font-size="7.4" text-anchor="middle" fill="#555" font-family="Liberation Serif" style="stroke:none">0</text>
<text x="86.7" y="164.5" font-size="10" text-anchor="middle" fill="#111" font-family="Liberation Serif">BALB/c</text>
<line x1="39.7" y1="255.9" x2="39.7" y2="258.4" stroke="#222" stroke-width="0.9" />
<text x="40.5" y="268" font-size="7.6" text-anchor="middle" font-family="Liberation Serif" fill="#1a1a1a">10<tspan font-size="6.2" dy="-5.4">0</tspan></text>
<line x1="46.86" y1="255.9" x2="46.86" y2="257.7" stroke="#222" stroke-width="0.8" />
<line x1="51.06" y1="255.9" x2="51.06" y2="257.7" stroke="#222" stroke-width="0.8" />
<line x1="54.03" y1="255.9" x2="54.03" y2="257.7" stroke="#222" stroke-width="0.8" />
<line x1="56.34" y1="255.9" x2="56.34" y2="257.7" stroke="#222" stroke-width="0.8" />
<line x1="58.22" y1="255.9" x2="58.22" y2="257.7" stroke="#222" stroke-width="0.8" />
<line x1="59.81" y1="255.9" x2="59.81" y2="257.7" stroke="#222" stroke-width="0.8" />
<line x1="61.19" y1="255.9" x2="61.19" y2="257.7" stroke="#222" stroke-width="0.8" />
<line x1="62.41" y1="255.9" x2="62.41" y2="257.7" stroke="#222" stroke-width="0.8" />
<line x1="63.5" y1="255.9" x2="63.5" y2="258.4" stroke="#222" stroke-width="0.9" />
<text x="64.3" y="268" font-size="7.6" text-anchor="middle" font-family="Liberation Serif" fill="#1a1a1a">10<tspan font-size="6.2" dy="-5.4">1</tspan></text>
<line x1="70.66" y1="255.9" x2="70.66" y2="257.7" stroke="#222" stroke-width="0.8" />
<line x1="74.86" y1="255.9" x2="74.86" y2="257.7" stroke="#222" stroke-width="0.8" />
<line x1="77.83" y1="255.9" x2="77.83" y2="257.7" stroke="#222" stroke-width="0.8" />
<line x1="80.14" y1="255.9" x2="80.14" y2="257.7" stroke="#222" stroke-width="0.8" />
<line x1="82.02" y1="255.9" x2="82.02" y2="257.7" stroke="#222" stroke-width="0.8" />
<line x1="83.61" y1="255.9" x2="83.61" y2="257.7" stroke="#222" stroke-width="0.8" />
<line x1="84.99" y1="255.9" x2="84.99" y2="257.7" stroke="#222" stroke-width="0.8" />
<line x1="86.21" y1="255.9" x2="86.21" y2="257.7" stroke="#222" stroke-width="0.8" />
<line x1="87.3" y1="255.9" x2="87.3" y2="258.4" stroke="#222" stroke-width="0.9" />
<text x="88.1" y="268" font-size="7.6" text-anchor="middle" font-family="Liberation Serif" fill="#1a1a1a">10<tspan font-size="6.2" dy="-5.4">2</tspan></text>
<line x1="94.46" y1="255.9" x2="94.46" y2="257.7" stroke="#222" stroke-width="0.8" />
<line x1="98.66" y1="255.9" x2="98.66" y2="257.7" stroke="#222" stroke-width="0.8" />
<line x1="101.63" y1="255.9" x2="101.63" y2="257.7" stroke="#222" stroke-width="0.8" />
<line x1="103.94" y1="255.9" x2="103.94" y2="257.7" stroke="#222" stroke-width="0.8" />
<line x1="105.82" y1="255.9" x2="105.82" y2="257.7" stroke="#222" stroke-width="0.8" />
<line x1="107.41" y1="255.9" x2="107.41" y2="257.7" stroke="#222" stroke-width="0.8" />
<line x1="108.79" y1="255.9" x2="108.79" y2="257.7" stroke="#222" stroke-width="0.8" />
<line x1="110.01" y1="255.9" x2="110.01" y2="257.7" stroke="#222" stroke-width="0.8" />
<line x1="111.1" y1="255.9" x2="111.1" y2="258.4" stroke="#222" stroke-width="0.9" />
<text x="111.9" y="268" font-size="7.6" text-anchor="middle" font-family="Liberation Serif" fill="#1a1a1a">10<tspan font-size="6.2" dy="-5.4">3</tspan></text>
<line x1="118.26" y1="255.9" x2="118.26" y2="257.7" stroke="#222" stroke-width="0.8" />
<line x1="122.46" y1="255.9" x2="122.46" y2="257.7" stroke="#222" stroke-width="0.8" />
<line x1="125.43" y1="255.9" x2="125.43" y2="257.7" stroke="#222" stroke-width="0.8" />
<line x1="127.74" y1="255.9" x2="127.74" y2="257.7" stroke="#222" stroke-width="0.8" />
<line x1="129.62" y1="255.9" x2="129.62" y2="257.7" stroke="#222" stroke-width="0.8" />
<line x1="131.21" y1="255.9" x2="131.21" y2="257.7" stroke="#222" stroke-width="0.8" />
<line x1="132.59" y1="255.9" x2="132.59" y2="257.7" stroke="#222" stroke-width="0.8" />
<line x1="133.81" y1="255.9" x2="133.81" y2="257.7" stroke="#222" stroke-width="0.8" />
<line x1="134.9" y1="255.9" x2="134.9" y2="258.4" stroke="#222" stroke-width="0.9" />
<text x="135.7" y="268" font-size="7.6" text-anchor="middle" font-family="Liberation Serif" fill="#1a1a1a">10<tspan font-size="6.2" dy="-5.4">4</tspan></text>
<line x1="37.2" y1="255.9" x2="39.7" y2="255.9" stroke="#222" stroke-width="0.9" />
<text transform="translate(34.3,256.5) rotate(-90)" font-size="7.6" text-anchor="middle" font-family="Liberation Serif" fill="#1a1a1a">10<tspan font-size="6.2" dy="-3.9">0</tspan></text>
<line x1="37.9" y1="249.26" x2="39.7" y2="249.26" stroke="#222" stroke-width="0.8" />
<line x1="37.9" y1="245.38" x2="39.7" y2="245.38" stroke="#222" stroke-width="0.8" />
<line x1="37.9" y1="242.62" x2="39.7" y2="242.62" stroke="#222" stroke-width="0.8" />
<line x1="37.9" y1="240.49" x2="39.7" y2="240.49" stroke="#222" stroke-width="0.8" />
<line x1="37.9" y1="238.74" x2="39.7" y2="238.74" stroke="#222" stroke-width="0.8" />
<line x1="37.9" y1="237.27" x2="39.7" y2="237.27" stroke="#222" stroke-width="0.8" />
<line x1="37.9" y1="235.99" x2="39.7" y2="235.99" stroke="#222" stroke-width="0.8" />
<line x1="37.9" y1="234.86" x2="39.7" y2="234.86" stroke="#222" stroke-width="0.8" />
<line x1="37.2" y1="233.85" x2="39.7" y2="233.85" stroke="#222" stroke-width="0.9" />
<text transform="translate(34.3,234.45) rotate(-90)" font-size="7.6" text-anchor="middle" font-family="Liberation Serif" fill="#1a1a1a">10<tspan font-size="6.2" dy="-3.9">1</tspan></text>
<line x1="37.9" y1="227.21" x2="39.7" y2="227.21" stroke="#222" stroke-width="0.8" />
<line x1="37.9" y1="223.33" x2="39.7" y2="223.33" stroke="#222" stroke-width="0.8" />
<line x1="37.9" y1="220.57" x2="39.7" y2="220.57" stroke="#222" stroke-width="0.8" />
<line x1="37.9" y1="218.44" x2="39.7" y2="218.44" stroke="#222" stroke-width="0.8" />
<line x1="37.9" y1="216.69" x2="39.7" y2="216.69" stroke="#222" stroke-width="0.8" />
<line x1="37.9" y1="215.22" x2="39.7" y2="215.22" stroke="#222" stroke-width="0.8" />
<line x1="37.9" y1="213.94" x2="39.7" y2="213.94" stroke="#222" stroke-width="0.8" />
<line x1="37.9" y1="212.81" x2="39.7" y2="212.81" stroke="#222" stroke-width="0.8" />
<line x1="37.2" y1="211.8" x2="39.7" y2="211.8" stroke="#222" stroke-width="0.9" />
<text transform="translate(34.3,212.4) rotate(-90)" font-size="7.6" text-anchor="middle" font-family="Liberation Serif" fill="#1a1a1a">10<tspan font-size="6.2" dy="-3.9">2</tspan></text>
<line x1="37.9" y1="205.16" x2="39.7" y2="205.16" stroke="#222" stroke-width="0.8" />
<line x1="37.9" y1="201.28" x2="39.7" y2="201.28" stroke="#222" stroke-width="0.8" />
<line x1="37.9" y1="198.52" x2="39.7" y2="198.52" stroke="#222" stroke-width="0.8" />
<line x1="37.9" y1="196.39" x2="39.7" y2="196.39" stroke="#222" stroke-width="0.8" />
<line x1="37.9" y1="194.64" x2="39.7" y2="194.64" stroke="#222" stroke-width="0.8" />
<line x1="37.9" y1="193.17" x2="39.7" y2="193.17" stroke="#222" stroke-width="0.8" />
<line x1="37.9" y1="191.89" x2="39.7" y2="191.89" stroke="#222" stroke-width="0.8" />
<line x1="37.9" y1="190.76" x2="39.7" y2="190.76" stroke="#222" stroke-width="0.8" />
<line x1="37.2" y1="189.75" x2="39.7" y2="189.75" stroke="#222" stroke-width="0.9" />
<text transform="translate(34.3,190.35) rotate(-90)" font-size="7.6" text-anchor="middle" font-family="Liberation Serif" fill="#1a1a1a">10<tspan font-size="6.2" dy="-3.9">3</tspan></text>
<line x1="37.9" y1="183.11" x2="39.7" y2="183.11" stroke="#222" stroke-width="0.8" />
<line x1="37.9" y1="179.23" x2="39.7" y2="179.23" stroke="#222" stroke-width="0.8" />
<line x1="37.9" y1="176.47" x2="39.7" y2="176.47" stroke="#222" stroke-width="0.8" />
<line x1="37.9" y1="174.34" x2="39.7" y2="174.34" stroke="#222" stroke-width="0.8" />
<line x1="37.9" y1="172.59" x2="39.7" y2="172.59" stroke="#222" stroke-width="0.8" />
<line x1="37.9" y1="171.12" x2="39.7" y2="171.12" stroke="#222" stroke-width="0.8" />
<line x1="37.9" y1="169.84" x2="39.7" y2="169.84" stroke="#222" stroke-width="0.8" />
<line x1="37.9" y1="168.71" x2="39.7" y2="168.71" stroke="#222" stroke-width="0.8" />
<line x1="37.2" y1="167.7" x2="39.7" y2="167.7" stroke="#222" stroke-width="0.9" />
<text transform="translate(34.3,168.3) rotate(-90)" font-size="7.6" text-anchor="middle" font-family="Liberation Serif" fill="#1a1a1a">10<tspan font-size="6.2" dy="-3.9">4</tspan></text>
<path d="M172.2 255.5 V226.5 Q181.2 222 190.7 226.5 V255.5 Z" fill="#808080"/>
<path d="M173.61 169.06h.9v.9h-.9zM230.48 171.24h.9v.9h-.9zM171.8 171.73h.9v.9h-.9zM169.47 172.78h.9v.9h-.9zM194.61 173.74h.9v.9h-.9zM167.85 177.18h.9v.9h-.9zM177.73 177.93h.9v.9h-.9zM176.62 179.01h.9v.9h-.9zM183.89 179.82h.9v.9h-.9zM185.47 182.82h.9v.9h-.9zM180.95 183.78h.9v.9h-.9zM223.71 185.19h.9v.9h-.9zM178.78 185.82h.9v.9h-.9zM187.82 185.97h.9v.9h-.9zM194.53 185.85h.9v.9h-.9zM162.92 186.78h.9v.9h-.9zM177.58 187.21h.9v.9h-.9zM181.84 187.03h.9v.9h-.9zM182.93 187.18h.9v.9h-.9zM188.82 187.13h.9v.9h-.9zM170.45 187.84h.9v.9h-.9zM179.88 187.93h.9v.9h-.9zM170.8 188.77h.9v.9h-.9zM165.98 189.87h.9v.9h-.9zM176.62 190.21h.9v.9h-.9zM178.55 189.84h.9v.9h-.9zM183.49 190.19h.9v.9h-.9zM174.89 191.12h.9v.9h-.9zM183.5 191.03h.9v.9h-.9zM214.73 191.07h.9v.9h-.9zM166.68 191.91h.9v.9h-.9zM172.43 192.13h.9v.9h-.9zM173.53 191.96h.9v.9h-.9zM176.82 192.12h.9v.9h-.9zM192.71 191.71h.9v.9h-.9zM200.58 191.84h.9v.9h-.9zM170.84 192.86h.9v.9h-.9zM177.64 192.75h.9v.9h-.9zM178.88 192.7h.9v.9h-.9zM180.86 193.29h.9v.9h-.9zM181.62 193.29h.9v.9h-.9zM190.62 193.12h.9v.9h-.9zM200.59 192.79h.9v.9h-.9zM173 193.89h.9v.9h-.9zM174.81 194.25h.9v.9h-.9zM194.89 194.18h.9v.9h-.9zM195.54 194.14h.9v.9h-.9zM249.47 194.02h.9v.9h-.9zM169.93 195.29h.9v.9h-.9zM174.4 194.9h.9v.9h-.9zM183.67 195.73h.9v.9h-.9zM185.89 195.71h.9v.9h-.9zM169.61 196.77h.9v.9h-.9zM174.82 196.81h.9v.9h-.9zM158.76 198.15h.9v.9h-.9zM181.84 197.87h.9v.9h-.9zM197.63 198.03h.9v.9h-.9zM248.96 197.72h.9v.9h-.9zM170.56 198.87h.9v.9h-.9zM172.49 199.28h.9v.9h-.9zM174.92 199.16h.9v.9h-.9zM178.41 198.75h.9v.9h-.9zM182.44 198.76h.9v.9h-.9zM186.75 198.81h.9v.9h-.9zM197.74 198.89h.9v.9h-.9zM168.41 200.03h.9v.9h-.9zM169.77 199.78h.9v.9h-.9zM171.81 199.83h.9v.9h-.9zM179.57 199.92h.9v.9h-.9zM181.94 200.17h.9v.9h-.9zM184.81 200.21h.9v.9h-.9zM185.65 199.82h.9v.9h-.9zM173.51 200.88h.9v.9h-.9zM179.62 200.96h.9v.9h-.9zM180.58 201.04h.9v.9h-.9zM183.74 200.79h.9v.9h-.9zM184.98 201.14h.9v.9h-.9zM190.56 200.92h.9v.9h-.9zM195.64 200.77h.9v.9h-.9zM197.91 200.84h.9v.9h-.9zM248.61 201.06h.9v.9h-.9zM162.79 202.12h.9v.9h-.9zM168.48 201.73h.9v.9h-.9zM170.42 201.76h.9v.9h-.9zM175.65 202.26h.9v.9h-.9zM176.49 201.99h.9v.9h-.9zM178.9 202.17h.9v.9h-.9zM203.66 201.78h.9v.9h-.9zM211.66 202.12h.9v.9h-.9zM173.59 203.12h.9v.9h-.9zM174.69 203.16h.9v.9h-.9zM176.81 203.11h.9v.9h-.9zM184.62 203.19h.9v.9h-.9zM186.89 203.29h.9v.9h-.9zM192.92 202.9h.9v.9h-.9zM177.99 203.74h.9v.9h-.9zM180.58 204.27h.9v.9h-.9zM181.75 203.95h.9v.9h-.9zM185.42 204.09h.9v.9h-.9zM186.71 203.87h.9v.9h-.9zM189.5 203.9h.9v.9h-.9zM195.8 203.91h.9v.9h-.9zM163.93 205.19h.9v.9h-.9zM169.47 204.76h.9v.9h-.9zM178.97 204.95h.9v.9h-.9zM180.72 205.15h.9v.9h-.9zM183.95 204.73h.9v.9h-.9zM187.87 205.16h.9v.9h-.9zM195.49 204.79h.9v.9h-.9zM223.99 205.27h.9v.9h-.9zM225.83 205.07h.9v.9h-.9zM226.67 204.71h.9v.9h-.9zM162.42 206.2h.9v.9h-.9zM171.48 206.09h.9v.9h-.9zM173.66 206.21h.9v.9h-.9zM177.64 205.79h.9v.9h-.9zM182.83 205.86h.9v.9h-.9zM186.85 206.03h.9v.9h-.9zM188.72 205.76h.9v.9h-.9zM224.85 206.24h.9v.9h-.9zM162 207.14h.9v.9h-.9zM168.79 207.05h.9v.9h-.9zM169.43 207.02h.9v.9h-.9zM173.93 207.23h.9v.9h-.9zM174.83 207.14h.9v.9h-.9zM177.57 206.77h.9v.9h-.9zM180.8 207.01h.9v.9h-.9zM185.62 206.8h.9v.9h-.9zM188.75 206.93h.9v.9h-.9zM189.44 206.72h.9v.9h-.9zM191.57 207.01h.9v.9h-.9zM163.91 208.27h.9v.9h-.9zM164.74 208.17h.9v.9h-.9zM170 208.29h.9v.9h-.9zM172.66 207.77h.9v.9h-.9zM177.53 207.96h.9v.9h-.9zM178.69 208.04h.9v.9h-.9zM179.76 207.95h.9v.9h-.9zM186.5 207.89h.9v.9h-.9zM187.86 208.25h.9v.9h-.9zM189.48 208.16h.9v.9h-.9zM192 208.15h.9v.9h-.9zM231.51 207.85h.9v.9h-.9zM168.88 209.05h.9v.9h-.9zM175.86 208.76h.9v.9h-.9zM177.74 208.85h.9v.9h-.9zM183.54 208.99h.9v.9h-.9zM186.71 208.89h.9v.9h-.9zM187.88 208.97h.9v.9h-.9zM189.6 208.77h.9v.9h-.9zM193.66 208.93h.9v.9h-.9zM174.65 210.25h.9v.9h-.9zM178.83 209.76h.9v.9h-.9zM179.41 209.96h.9v.9h-.9zM180.65 210.1h.9v.9h-.9zM184.6 209.95h.9v.9h-.9zM185.91 210.18h.9v.9h-.9zM188.57 210.16h.9v.9h-.9zM190 209.79h.9v.9h-.9zM190.86 210.25h.9v.9h-.9zM191.96 210.01h.9v.9h-.9zM192.73 209.84h.9v.9h-.9zM228.68 210.02h.9v.9h-.9zM166.68 210.87h.9v.9h-.9zM170.58 210.87h.9v.9h-.9zM172.52 210.83h.9v.9h-.9zM175.98 211.1h.9v.9h-.9zM180.78 210.92h.9v.9h-.9zM181.56 211.09h.9v.9h-.9zM182.46 211.21h.9v.9h-.9zM184.52 210.7h.9v.9h-.9zM187.75 210.96h.9v.9h-.9zM191.99 211.17h.9v.9h-.9zM192.41 211.19h.9v.9h-.9zM198.69 210.93h.9v.9h-.9zM167.59 212.06h.9v.9h-.9zM172.95 212.1h.9v.9h-.9zM174.65 211.88h.9v.9h-.9zM177.98 211.82h.9v.9h-.9zM178.74 211.96h.9v.9h-.9zM180.94 212.13h.9v.9h-.9zM181.49 212.12h.9v.9h-.9zM182.58 211.75h.9v.9h-.9zM184 212.21h.9v.9h-.9zM194.79 211.73h.9v.9h-.9zM163.62 212.89h.9v.9h-.9zM167.97 212.77h.9v.9h-.9zM172.52 213.18h.9v.9h-.9zM174.56 212.75h.9v.9h-.9zM177.74 213h.9v.9h-.9zM178.72 212.7h.9v.9h-.9zM181.66 213.06h.9v.9h-.9zM184.85 212.92h.9v.9h-.9zM189.7 212.91h.9v.9h-.9zM190.87 212.82h.9v.9h-.9zM191.48 213.17h.9v.9h-.9zM197.57 213.27h.9v.9h-.9zM211.68 213.24h.9v.9h-.9zM232.98 213h.9v.9h-.9zM161.91 213.71h.9v.9h-.9zM165.58 214.15h.9v.9h-.9zM167.68 213.99h.9v.9h-.9zM168.48 213.89h.9v.9h-.9zM171.94 213.71h.9v.9h-.9zM172.49 213.74h.9v.9h-.9zM173.82 214.06h.9v.9h-.9zM174.84 214.12h.9v.9h-.9zM177.87 214.27h.9v.9h-.9zM179.48 214.22h.9v.9h-.9zM180.84 214.26h.9v.9h-.9zM181.41 214.26h.9v.9h-.9zM183.67 214.21h.9v.9h-.9zM187.62 213.79h.9v.9h-.9zM190.92 214.25h.9v.9h-.9zM169.9 214.96h.9v.9h-.9zM170.9 215.18h.9v.9h-.9zM172.56 215.21h.9v.9h-.9zM176.88 215.21h.9v.9h-.9zM177.43 215.22h.9v.9h-.9zM178.72 215.26h.9v.9h-.9zM179.7 214.74h.9v.9h-.9zM182.88 214.79h.9v.9h-.9zM186.58 215.1h.9v.9h-.9zM164.84 215.94h.9v.9h-.9zM165.6 215.92h.9v.9h-.9zM170.86 216.06h.9v.9h-.9zM171.9 216.23h.9v.9h-.9zM173.95 216.29h.9v.9h-.9zM174.43 216.01h.9v.9h-.9zM175.68 216.06h.9v.9h-.9zM176.44 216h.9v.9h-.9zM177.71 216.19h.9v.9h-.9zM180.67 216.05h.9v.9h-.9zM181.96 216.16h.9v.9h-.9zM183.7 216.01h.9v.9h-.9zM184.55 216.09h.9v.9h-.9zM186.6 216.01h.9v.9h-.9zM187.56 215.8h.9v.9h-.9zM188.43 215.87h.9v.9h-.9zM189.93 216.09h.9v.9h-.9zM201.53 216.27h.9v.9h-.9zM159.58 216.93h.9v.9h-.9zM163.59 216.81h.9v.9h-.9zM165.74 217h.9v.9h-.9zM168.97 216.99h.9v.9h-.9zM169.73 217.01h.9v.9h-.9zM170.42 217h.9v.9h-.9zM172.79 216.86h.9v.9h-.9zM175.95 216.95h.9v.9h-.9zM176.41 216.93h.9v.9h-.9zM179.67 217.06h.9v.9h-.9zM180.71 217.21h.9v.9h-.9zM181.45 217h.9v.9h-.9zM182.63 216.95h.9v.9h-.9zM186.59 216.86h.9v.9h-.9zM190.88 217.29h.9v.9h-.9zM191.57 216.71h.9v.9h-.9zM194.92 217.1h.9v.9h-.9zM157.47 218.13h.9v.9h-.9zM168.58 217.71h.9v.9h-.9zM169.73 217.97h.9v.9h-.9zM170.49 217.82h.9v.9h-.9zM172.65 218.04h.9v.9h-.9zM173.7 217.74h.9v.9h-.9zM175.83 218.24h.9v.9h-.9zM176.44 217.83h.9v.9h-.9zM177.52 217.94h.9v.9h-.9zM179.83 218h.9v.9h-.9zM182.8 218.27h.9v.9h-.9zM184.64 217.75h.9v.9h-.9zM185.45 217.74h.9v.9h-.9zM187.62 218.13h.9v.9h-.9zM188.95 217.84h.9v.9h-.9zM189.53 218.27h.9v.9h-.9zM191.96 217.72h.9v.9h-.9zM204.61 217.74h.9v.9h-.9zM168.53 218.73h.9v.9h-.9zM170.64 219.16h.9v.9h-.9zM171.83 218.71h.9v.9h-.9zM172.42 219.19h.9v.9h-.9zM173.89 219.15h.9v.9h-.9zM174.58 219.18h.9v.9h-.9zM175.65 218.78h.9v.9h-.9zM176.61 219h.9v.9h-.9zM177.92 219.11h.9v.9h-.9zM178.72 219.07h.9v.9h-.9zM179.43 219.03h.9v.9h-.9zM180.92 218.84h.9v.9h-.9zM181.55 219.09h.9v.9h-.9zM183.63 219.11h.9v.9h-.9zM186.83 218.97h.9v.9h-.9zM188.9 219.25h.9v.9h-.9zM190.61 218.92h.9v.9h-.9zM192.65 218.92h.9v.9h-.9zM195.54 218.75h.9v.9h-.9zM202.52 219.08h.9v.9h-.9zM228.94 218.88h.9v.9h-.9zM163.53 220.19h.9v.9h-.9zM167.83 220.16h.9v.9h-.9zM169.81 220.26h.9v.9h-.9zM171.97 220.03h.9v.9h-.9zM172.75 219.81h.9v.9h-.9zM173.7 220.17h.9v.9h-.9zM174.61 220.28h.9v.9h-.9zM175.51 219.91h.9v.9h-.9zM177.64 220.19h.9v.9h-.9zM178.88 219.75h.9v.9h-.9zM179.96 220.06h.9v.9h-.9zM180.53 220.18h.9v.9h-.9zM181.96 219.96h.9v.9h-.9zM182.84 220.14h.9v.9h-.9zM183.41 219.92h.9v.9h-.9zM184.95 219.76h.9v.9h-.9zM185.61 220.08h.9v.9h-.9zM186.59 219.99h.9v.9h-.9zM188.59 219.85h.9v.9h-.9zM189.61 219.87h.9v.9h-.9zM190.81 219.84h.9v.9h-.9zM192.58 220.14h.9v.9h-.9zM161.52 220.82h.9v.9h-.9zM164.55 220.8h.9v.9h-.9zM169.56 221h.9v.9h-.9zM170.88 220.82h.9v.9h-.9zM172.64 221.28h.9v.9h-.9zM173.86 221.28h.9v.9h-.9zM176.86 221.2h.9v.9h-.9zM177.67 221.25h.9v.9h-.9zM178.58 221.16h.9v.9h-.9zM179.64 221.04h.9v.9h-.9zM180.41 221.04h.9v.9h-.9zM181.8 220.8h.9v.9h-.9zM182.43 221.03h.9v.9h-.9zM183.52 221h.9v.9h-.9zM184.81 220.78h.9v.9h-.9zM185.65 220.82h.9v.9h-.9zM189.41 221.12h.9v.9h-.9zM201.69 221.24h.9v.9h-.9zM159.75 222.12h.9v.9h-.9zM165.67 221.77h.9v.9h-.9zM169.43 222.08h.9v.9h-.9zM170.86 222.07h.9v.9h-.9zM172.86 221.87h.9v.9h-.9zM174.73 221.93h.9v.9h-.9zM176.73 222.07h.9v.9h-.9zM177.99 221.82h.9v.9h-.9zM179.66 222.14h.9v.9h-.9zM180.61 221.88h.9v.9h-.9zM181.69 221.94h.9v.9h-.9zM182.41 222.26h.9v.9h-.9zM183.95 222.08h.9v.9h-.9zM184.51 221.92h.9v.9h-.9zM185.46 222.16h.9v.9h-.9zM186.49 222.01h.9v.9h-.9zM189.53 221.72h.9v.9h-.9zM193.43 222.02h.9v.9h-.9zM203.9 222.16h.9v.9h-.9zM167.99 222.8h.9v.9h-.9zM168.41 222.94h.9v.9h-.9zM170.97 223.16h.9v.9h-.9zM171.87 222.83h.9v.9h-.9zM173.88 222.91h.9v.9h-.9zM174.44 223h.9v.9h-.9zM175.49 222.95h.9v.9h-.9zM177.98 222.9h.9v.9h-.9zM178.89 223.05h.9v.9h-.9zM179.98 222.97h.9v.9h-.9zM180.69 222.89h.9v.9h-.9zM182.97 223.15h.9v.9h-.9zM183.93 222.72h.9v.9h-.9zM184.98 223.16h.9v.9h-.9zM190.5 222.93h.9v.9h-.9zM191.94 222.96h.9v.9h-.9zM193.67 223.06h.9v.9h-.9zM197.93 223.02h.9v.9h-.9zM216.98 223.21h.9v.9h-.9zM236.42 222.72h.9v.9h-.9zM163.76 223.88h.9v.9h-.9zM165.83 223.94h.9v.9h-.9zM166.55 224.18h.9v.9h-.9zM169.93 224.08h.9v.9h-.9zM170.42 224.13h.9v.9h-.9zM171.53 224.02h.9v.9h-.9zM172.97 224.21h.9v.9h-.9zM174 223.81h.9v.9h-.9zM174.97 224.24h.9v.9h-.9zM175.47 224h.9v.9h-.9zM176.72 223.87h.9v.9h-.9zM177.58 223.85h.9v.9h-.9zM179.52 224.29h.9v.9h-.9zM180.42 223.94h.9v.9h-.9zM181.79 224.22h.9v.9h-.9zM183.88 223.83h.9v.9h-.9zM184.89 223.77h.9v.9h-.9zM185.96 223.95h.9v.9h-.9zM186.86 223.92h.9v.9h-.9zM187.82 223.71h.9v.9h-.9zM191.72 223.96h.9v.9h-.9zM193.57 224.02h.9v.9h-.9zM196.96 223.94h.9v.9h-.9zM251.71 223.93h.9v.9h-.9zM165.62 225.07h.9v.9h-.9zM167.62 225.21h.9v.9h-.9zM171.84 225.1h.9v.9h-.9zM173.4 225.01h.9v.9h-.9zM174.59 225.28h.9v.9h-.9zM175.79 225.21h.9v.9h-.9zM177.84 224.79h.9v.9h-.9zM178.48 225.17h.9v.9h-.9zM179.43 225.28h.9v.9h-.9zM180.91 225.25h.9v.9h-.9zM181.66 225.11h.9v.9h-.9zM182.51 224.7h.9v.9h-.9zM183.95 225.13h.9v.9h-.9zM184.9 224.9h.9v.9h-.9zM185.87 225.23h.9v.9h-.9zM186.72 225.07h.9v.9h-.9zM187.66 224.74h.9v.9h-.9zM190.82 225.14h.9v.9h-.9zM192.67 225.06h.9v.9h-.9zM194.46 224.82h.9v.9h-.9zM161.56 226.16h.9v.9h-.9zM164.65 225.98h.9v.9h-.9zM165.74 225.8h.9v.9h-.9zM168.96 226.15h.9v.9h-.9zM169.46 226.11h.9v.9h-.9zM171 225.98h.9v.9h-.9zM171.6 225.79h.9v.9h-.9zM172.53 226h.9v.9h-.9zM173.83 226.21h.9v.9h-.9zM174.57 225.73h.9v.9h-.9zM175.64 226.29h.9v.9h-.9zM176.77 226.21h.9v.9h-.9zM177.64 225.86h.9v.9h-.9zM178.98 225.94h.9v.9h-.9zM179.4 226.24h.9v.9h-.9zM180.9 225.88h.9v.9h-.9zM181.68 225.95h.9v.9h-.9zM182.51 225.72h.9v.9h-.9zM183.49 225.82h.9v.9h-.9zM185.74 225.74h.9v.9h-.9zM186.97 226.24h.9v.9h-.9zM188.79 225.85h.9v.9h-.9zM192.54 225.87h.9v.9h-.9zM163.74 227.25h.9v.9h-.9zM165.58 227.25h.9v.9h-.9zM167.57 227.04h.9v.9h-.9zM168.69 226.99h.9v.9h-.9zM170.51 226.98h.9v.9h-.9zM171.74 226.94h.9v.9h-.9zM173.72 226.87h.9v.9h-.9zM174.48 227.04h.9v.9h-.9zM175.77 227.11h.9v.9h-.9zM176.98 227.26h.9v.9h-.9zM177.5 227.18h.9v.9h-.9zM178.78 226.89h.9v.9h-.9zM180.69 226.78h.9v.9h-.9zM181.83 227.17h.9v.9h-.9zM183 226.79h.9v.9h-.9zM183.55 226.85h.9v.9h-.9zM184.41 227.18h.9v.9h-.9zM188.57 226.78h.9v.9h-.9zM158.94 227.93h.9v.9h-.9zM160.66 228.29h.9v.9h-.9zM161.68 227.85h.9v.9h-.9zM163.98 228.26h.9v.9h-.9zM164.86 228.24h.9v.9h-.9zM167.95 228.17h.9v.9h-.9zM169.83 228.27h.9v.9h-.9zM170.42 228.08h.9v.9h-.9zM171.94 228.21h.9v.9h-.9zM173.66 227.74h.9v.9h-.9zM175.47 227.82h.9v.9h-.9zM176.92 228.25h.9v.9h-.9zM180.52 227.75h.9v.9h-.9zM181.57 228.03h.9v.9h-.9zM182.74 228h.9v.9h-.9zM183.45 227.94h.9v.9h-.9zM187.5 228.16h.9v.9h-.9zM188.68 227.92h.9v.9h-.9zM189.43 227.88h.9v.9h-.9zM191.89 228.08h.9v.9h-.9zM193.58 227.91h.9v.9h-.9zM194.57 228h.9v.9h-.9zM195.58 228.17h.9v.9h-.9zM202.91 228h.9v.9h-.9zM205.76 227.97h.9v.9h-.9zM206.63 228.27h.9v.9h-.9zM207.48 228.11h.9v.9h-.9zM210.71 227.97h.9v.9h-.9zM215.43 227.91h.9v.9h-.9zM216.42 228.15h.9v.9h-.9zM218.51 227.83h.9v.9h-.9zM221.63 228.02h.9v.9h-.9zM222.6 228.12h.9v.9h-.9zM226.48 227.71h.9v.9h-.9zM232.67 227.77h.9v.9h-.9zM233.86 228.05h.9v.9h-.9zM159.62 228.91h.9v.9h-.9zM162.5 229.08h.9v.9h-.9zM167 228.88h.9v.9h-.9zM168.76 228.88h.9v.9h-.9zM169.43 228.9h.9v.9h-.9zM170.77 229.16h.9v.9h-.9zM171.59 228.85h.9v.9h-.9zM179.83 228.86h.9v.9h-.9zM181.71 228.94h.9v.9h-.9zM185.7 229.02h.9v.9h-.9zM186.65 228.71h.9v.9h-.9zM187.6 229.11h.9v.9h-.9zM190.53 229.26h.9v.9h-.9zM191.5 229.03h.9v.9h-.9zM192.92 229.21h.9v.9h-.9zM194.67 229.29h.9v.9h-.9zM195.69 229.16h.9v.9h-.9zM197.89 229.26h.9v.9h-.9zM199.94 228.79h.9v.9h-.9zM200.82 229.11h.9v.9h-.9zM203.42 229.09h.9v.9h-.9zM205.86 228.93h.9v.9h-.9zM210.81 229.17h.9v.9h-.9zM215 229.28h.9v.9h-.9zM215.79 229.15h.9v.9h-.9zM217.61 228.79h.9v.9h-.9zM221.99 229.09h.9v.9h-.9zM223.44 229h.9v.9h-.9zM224.78 228.84h.9v.9h-.9zM227.92 229.11h.9v.9h-.9zM228.62 229.11h.9v.9h-.9zM230.89 229.26h.9v.9h-.9zM158.44 229.76h.9v.9h-.9zM164.69 230.25h.9v.9h-.9zM165.83 229.74h.9v.9h-.9zM167.44 229.74h.9v.9h-.9zM168.98 229.79h.9v.9h-.9zM169.58 229.92h.9v.9h-.9zM170.64 230.29h.9v.9h-.9zM171.9 230.18h.9v.9h-.9zM176.85 230.19h.9v.9h-.9zM179.77 230.15h.9v.9h-.9zM180.72 230.19h.9v.9h-.9zM185.55 230.19h.9v.9h-.9zM191.45 229.71h.9v.9h-.9zM192.66 229.75h.9v.9h-.9zM193.92 230.15h.9v.9h-.9zM194.46 230.26h.9v.9h-.9zM199.73 229.7h.9v.9h-.9zM200.51 229.77h.9v.9h-.9zM203.87 230.08h.9v.9h-.9zM206.67 229.74h.9v.9h-.9zM209.61 229.74h.9v.9h-.9zM212.82 230.26h.9v.9h-.9zM215.62 229.86h.9v.9h-.9zM217.91 229.87h.9v.9h-.9zM221.87 230.21h.9v.9h-.9zM222.84 229.76h.9v.9h-.9zM223.57 229.79h.9v.9h-.9zM228.48 229.87h.9v.9h-.9zM230.61 230.22h.9v.9h-.9zM232.92 229.79h.9v.9h-.9zM233.77 230h.9v.9h-.9zM158.95 231.28h.9v.9h-.9zM160.53 230.89h.9v.9h-.9zM161.55 230.76h.9v.9h-.9zM164.9 231.22h.9v.9h-.9zM167.77 231.09h.9v.9h-.9zM168.99 230.86h.9v.9h-.9zM169.87 230.99h.9v.9h-.9zM170.99 231.22h.9v.9h-.9zM171.59 230.7h.9v.9h-.9zM172.99 231.15h.9v.9h-.9zM173.79 230.75h.9v.9h-.9zM176.7 231.28h.9v.9h-.9zM177.67 231.18h.9v.9h-.9zM185.54 230.99h.9v.9h-.9zM188.51 230.75h.9v.9h-.9zM190.41 230.96h.9v.9h-.9zM193.61 230.77h.9v.9h-.9zM194.52 231.18h.9v.9h-.9zM196.86 230.82h.9v.9h-.9zM198.56 231.18h.9v.9h-.9zM199.41 231.16h.9v.9h-.9zM200.99 231.2h.9v.9h-.9zM201.98 231.05h.9v.9h-.9zM202.57 231.24h.9v.9h-.9zM204.59 230.88h.9v.9h-.9zM205.96 231.05h.9v.9h-.9zM208.76 231.17h.9v.9h-.9zM209.96 230.99h.9v.9h-.9zM210.98 230.95h.9v.9h-.9zM213.56 230.99h.9v.9h-.9zM214.83 230.92h.9v.9h-.9zM216.87 231.03h.9v.9h-.9zM217.92 230.96h.9v.9h-.9zM219.46 231.12h.9v.9h-.9zM221.61 231.14h.9v.9h-.9zM227.52 230.9h.9v.9h-.9zM230.54 231.29h.9v.9h-.9zM231.63 230.94h.9v.9h-.9zM233.81 230.72h.9v.9h-.9zM158.61 232.16h.9v.9h-.9zM161.6 232h.9v.9h-.9zM166.86 232.17h.9v.9h-.9zM168.64 232.21h.9v.9h-.9zM169.5 231.72h.9v.9h-.9zM171.61 231.98h.9v.9h-.9zM172.67 232.14h.9v.9h-.9zM173.59 232.1h.9v.9h-.9zM176.61 232.26h.9v.9h-.9zM178.68 231.77h.9v.9h-.9zM182.91 231.82h.9v.9h-.9zM183.57 232.02h.9v.9h-.9zM184.99 231.94h.9v.9h-.9zM185.81 232.29h.9v.9h-.9zM186.5 231.77h.9v.9h-.9zM187.63 231.72h.9v.9h-.9zM190.78 231.99h.9v.9h-.9zM192.97 232.14h.9v.9h-.9zM193.74 232.09h.9v.9h-.9zM194.93 231.99h.9v.9h-.9zM195.62 232.13h.9v.9h-.9zM197.63 232.29h.9v.9h-.9zM198.64 232.27h.9v.9h-.9zM200.67 231.74h.9v.9h-.9zM202.44 232.28h.9v.9h-.9zM203.68 232.12h.9v.9h-.9zM204.64 232.14h.9v.9h-.9zM205.82 231.95h.9v.9h-.9zM208.94 231.97h.9v.9h-.9zM209.49 231.8h.9v.9h-.9zM210.53 231.93h.9v.9h-.9zM217.43 232.05h.9v.9h-.9zM218.99 231.71h.9v.9h-.9zM220.81 232.14h.9v.9h-.9zM224.89 232.29h.9v.9h-.9zM228.74 231.88h.9v.9h-.9zM229.96 231.85h.9v.9h-.9zM230.92 232.02h.9v.9h-.9zM232.94 231.95h.9v.9h-.9zM159.67 232.83h.9v.9h-.9zM160.98 233.11h.9v.9h-.9zM161.91 232.95h.9v.9h-.9zM162.87 232.88h.9v.9h-.9zM166.47 233.15h.9v.9h-.9zM168.96 233.03h.9v.9h-.9zM170.9 233.29h.9v.9h-.9zM171.52 232.98h.9v.9h-.9zM172.75 232.76h.9v.9h-.9zM173.46 232.77h.9v.9h-.9zM174.87 233.05h.9v.9h-.9zM175.76 233.29h.9v.9h-.9zM177.82 232.75h.9v.9h-.9zM179.78 233.25h.9v.9h-.9zM181.43 233.1h.9v.9h-.9zM184.6 232.86h.9v.9h-.9zM185.47 232.84h.9v.9h-.9zM189.6 233.24h.9v.9h-.9zM190.47 233.27h.9v.9h-.9zM191.97 232.88h.9v.9h-.9zM192.59 233.22h.9v.9h-.9zM194.72 232.96h.9v.9h-.9zM195.96 232.94h.9v.9h-.9zM196.75 232.93h.9v.9h-.9zM197.97 233.1h.9v.9h-.9zM198.95 232.81h.9v.9h-.9zM199.98 232.77h.9v.9h-.9zM201.46 233.27h.9v.9h-.9zM203.53 233.13h.9v.9h-.9zM205.42 232.91h.9v.9h-.9zM206.58 233.16h.9v.9h-.9zM207.53 233.03h.9v.9h-.9zM208.83 233.29h.9v.9h-.9zM209.51 233.05h.9v.9h-.9zM210.47 233h.9v.9h-.9zM211.81 233h.9v.9h-.9zM212.94 233.03h.9v.9h-.9zM215.53 232.87h.9v.9h-.9zM218.56 232.71h.9v.9h-.9zM224.62 232.7h.9v.9h-.9zM225.69 232.9h.9v.9h-.9zM227.63 233.26h.9v.9h-.9zM228.99 232.7h.9v.9h-.9zM158.41 233.99h.9v.9h-.9zM161.99 233.87h.9v.9h-.9zM163.88 234.04h.9v.9h-.9zM165.48 234.24h.9v.9h-.9zM166.77 234.27h.9v.9h-.9zM168.82 234.17h.9v.9h-.9zM169.47 233.88h.9v.9h-.9zM171.61 233.98h.9v.9h-.9zM172.79 234.26h.9v.9h-.9zM175.94 234.21h.9v.9h-.9zM176.41 233.95h.9v.9h-.9zM177.4 233.8h.9v.9h-.9zM182.99 234.26h.9v.9h-.9zM186.47 234.29h.9v.9h-.9zM187.65 233.89h.9v.9h-.9zM189.43 233.93h.9v.9h-.9zM190.75 234.26h.9v.9h-.9zM191.98 234.04h.9v.9h-.9zM192.74 233.71h.9v.9h-.9zM193.68 234.02h.9v.9h-.9zM196.99 234.07h.9v.9h-.9zM197.71 233.88h.9v.9h-.9zM198.77 234.2h.9v.9h-.9zM202.75 234.23h.9v.9h-.9zM203.98 233.74h.9v.9h-.9zM205.75 233.84h.9v.9h-.9zM206.51 234.25h.9v.9h-.9zM208.5 234.03h.9v.9h-.9zM209.95 234.21h.9v.9h-.9zM210.49 234.09h.9v.9h-.9zM211.47 233.8h.9v.9h-.9zM212.92 233.78h.9v.9h-.9zM213.57 233.72h.9v.9h-.9zM220.85 233.7h.9v.9h-.9zM224.88 234.17h.9v.9h-.9zM226.62 234.23h.9v.9h-.9zM227.8 234.15h.9v.9h-.9zM228.74 234.18h.9v.9h-.9zM230.6 233.98h.9v.9h-.9zM231.4 234.1h.9v.9h-.9zM233.48 233.94h.9v.9h-.9zM157.84 235.03h.9v.9h-.9zM159.63 234.89h.9v.9h-.9zM160.66 235.02h.9v.9h-.9zM161.83 234.97h.9v.9h-.9zM162.51 234.94h.9v.9h-.9zM163.66 235.09h.9v.9h-.9zM164.54 235.15h.9v.9h-.9zM165.9 235.23h.9v.9h-.9zM166.51 235.04h.9v.9h-.9zM167.71 234.99h.9v.9h-.9zM169.85 234.75h.9v.9h-.9zM170.65 234.92h.9v.9h-.9zM171.6 235.12h.9v.9h-.9zM173.65 234.88h.9v.9h-.9zM180.83 235.23h.9v.9h-.9zM183.7 234.79h.9v.9h-.9zM184.51 235.21h.9v.9h-.9zM190.63 234.88h.9v.9h-.9zM191.89 234.89h.9v.9h-.9zM192.92 235.06h.9v.9h-.9zM193.77 234.76h.9v.9h-.9zM194.55 235.17h.9v.9h-.9zM195.67 235.15h.9v.9h-.9zM197.82 234.79h.9v.9h-.9zM199.79 234.93h.9v.9h-.9zM200.48 234.94h.9v.9h-.9zM201.71 235.3h.9v.9h-.9zM204.51 234.72h.9v.9h-.9zM206.81 234.89h.9v.9h-.9zM207.78 235.25h.9v.9h-.9zM208.86 234.72h.9v.9h-.9zM209.92 234.72h.9v.9h-.9zM211.45 235.08h.9v.9h-.9zM213.48 235.02h.9v.9h-.9zM214.98 235.08h.9v.9h-.9zM216.62 234.7h.9v.9h-.9zM217.69 234.88h.9v.9h-.9zM220.96 235.08h.9v.9h-.9zM222.97 234.93h.9v.9h-.9zM223.82 234.99h.9v.9h-.9zM224.46 235.23h.9v.9h-.9zM228.95 234.74h.9v.9h-.9zM229.92 235.02h.9v.9h-.9zM232.97 234.72h.9v.9h-.9zM234.47 234.72h.9v.9h-.9zM157.64 235.84h.9v.9h-.9zM158.61 236.18h.9v.9h-.9zM159.5 236.06h.9v.9h-.9zM160.44 235.98h.9v.9h-.9zM161.55 236.24h.9v.9h-.9zM163.94 235.95h.9v.9h-.9zM166.59 236.24h.9v.9h-.9zM170.42 236.11h.9v.9h-.9zM171.6 235.85h.9v.9h-.9zM174.6 235.89h.9v.9h-.9zM175.86 235.71h.9v.9h-.9zM176.88 235.74h.9v.9h-.9zM183.42 235.99h.9v.9h-.9zM184.45 236.01h.9v.9h-.9zM186.71 235.78h.9v.9h-.9zM190.54 235.98h.9v.9h-.9zM191.95 236.13h.9v.9h-.9zM192.51 236.1h.9v.9h-.9zM193.81 235.7h.9v.9h-.9zM194.6 235.94h.9v.9h-.9zM195.87 236.02h.9v.9h-.9zM196.69 236.04h.9v.9h-.9zM197.75 236.04h.9v.9h-.9zM201.59 235.86h.9v.9h-.9zM204.87 235.71h.9v.9h-.9zM205.72 236.24h.9v.9h-.9zM209.96 235.8h.9v.9h-.9zM211.47 235.89h.9v.9h-.9zM214.61 236.28h.9v.9h-.9zM218.43 236.19h.9v.9h-.9zM220.89 236.12h.9v.9h-.9zM221.81 236.17h.9v.9h-.9zM224.44 235.74h.9v.9h-.9zM229.46 236.25h.9v.9h-.9zM233.96 236.04h.9v.9h-.9zM157.47 236.99h.9v.9h-.9zM158.67 236.78h.9v.9h-.9zM159.48 236.85h.9v.9h-.9zM161.7 237.19h.9v.9h-.9zM163.58 237.04h.9v.9h-.9zM167.42 237.04h.9v.9h-.9zM169.82 237.15h.9v.9h-.9zM170.52 236.99h.9v.9h-.9zM171.46 237.09h.9v.9h-.9zM172.77 237.3h.9v.9h-.9zM173.55 236.76h.9v.9h-.9zM177.59 237.03h.9v.9h-.9zM179.95 237.18h.9v.9h-.9zM181.73 236.78h.9v.9h-.9zM183.46 237.01h.9v.9h-.9zM190.72 236.74h.9v.9h-.9zM192.74 237.12h.9v.9h-.9zM193.45 237h.9v.9h-.9zM194.52 236.9h.9v.9h-.9zM196.5 237.07h.9v.9h-.9zM197.42 236.71h.9v.9h-.9zM200.84 237.16h.9v.9h-.9zM201.98 237.23h.9v.9h-.9zM202.54 237.14h.9v.9h-.9zM203.48 236.72h.9v.9h-.9zM206.84 237.1h.9v.9h-.9zM208.69 237.06h.9v.9h-.9zM213.99 237.14h.9v.9h-.9zM215.68 236.97h.9v.9h-.9zM224 237.21h.9v.9h-.9zM226.48 236.76h.9v.9h-.9zM227.78 237.22h.9v.9h-.9zM228.82 237.06h.9v.9h-.9zM231.84 236.87h.9v.9h-.9zM233.62 236.72h.9v.9h-.9zM239.93 237.2h.9v.9h-.9zM158.67 238.01h.9v.9h-.9zM159.73 238.07h.9v.9h-.9zM160.82 237.97h.9v.9h-.9zM162.45 238.25h.9v.9h-.9zM163.97 238.1h.9v.9h-.9zM164.7 238.18h.9v.9h-.9zM166.58 237.76h.9v.9h-.9zM167.57 237.87h.9v.9h-.9zM170.71 237.96h.9v.9h-.9zM171.6 237.81h.9v.9h-.9zM172.95 238h.9v.9h-.9zM174.51 238.25h.9v.9h-.9zM175.75 237.81h.9v.9h-.9zM176.69 238.22h.9v.9h-.9zM178.53 238.3h.9v.9h-.9zM181.59 237.72h.9v.9h-.9zM182.91 237.92h.9v.9h-.9zM186.66 237.77h.9v.9h-.9zM187.61 237.72h.9v.9h-.9zM189.61 238.08h.9v.9h-.9zM190.59 237.93h.9v.9h-.9zM191.58 237.92h.9v.9h-.9zM192.92 238.18h.9v.9h-.9zM194.97 237.74h.9v.9h-.9zM196.42 238.21h.9v.9h-.9zM197.76 237.73h.9v.9h-.9zM200.6 238.18h.9v.9h-.9zM202.58 238.02h.9v.9h-.9zM203.6 238.04h.9v.9h-.9zM206.92 238.29h.9v.9h-.9zM207.51 238.28h.9v.9h-.9zM208.55 238.3h.9v.9h-.9zM210.64 238.3h.9v.9h-.9zM211.87 237.85h.9v.9h-.9zM220.59 237.81h.9v.9h-.9zM221.49 238.1h.9v.9h-.9zM223.89 238.18h.9v.9h-.9zM226.42 237.77h.9v.9h-.9zM227.86 238.08h.9v.9h-.9zM228.9 238.13h.9v.9h-.9zM230.63 238.29h.9v.9h-.9zM232.66 238.04h.9v.9h-.9zM157.84 239.19h.9v.9h-.9zM158.87 238.89h.9v.9h-.9zM159.7 238.74h.9v.9h-.9zM160.96 239.21h.9v.9h-.9zM162.49 239.01h.9v.9h-.9zM163.86 239.18h.9v.9h-.9zM164.59 239.02h.9v.9h-.9zM165.82 238.72h.9v.9h-.9zM168.45 238.78h.9v.9h-.9zM169.68 238.79h.9v.9h-.9zM170.62 238.73h.9v.9h-.9zM171.89 239.06h.9v.9h-.9zM172.57 238.95h.9v.9h-.9zM175.76 239.08h.9v.9h-.9zM180.94 239.09h.9v.9h-.9zM182.45 238.77h.9v.9h-.9zM185.94 238.99h.9v.9h-.9zM186.64 239h.9v.9h-.9zM189.85 239.13h.9v.9h-.9zM191.47 239.29h.9v.9h-.9zM192.91 239.25h.9v.9h-.9zM194.71 239.04h.9v.9h-.9zM195.75 239.29h.9v.9h-.9zM196.76 238.97h.9v.9h-.9zM197.91 238.75h.9v.9h-.9zM198.77 239.29h.9v.9h-.9zM199.97 239.09h.9v.9h-.9zM200.59 238.78h.9v.9h-.9zM204.66 239.21h.9v.9h-.9zM205.6 239.07h.9v.9h-.9zM207.53 238.72h.9v.9h-.9zM210.48 238.98h.9v.9h-.9zM212.93 239.03h.9v.9h-.9zM215.76 238.93h.9v.9h-.9zM218.63 238.74h.9v.9h-.9zM220.67 239.14h.9v.9h-.9zM221.41 238.82h.9v.9h-.9zM222.55 239.2h.9v.9h-.9zM223.97 239.11h.9v.9h-.9zM224.65 239.05h.9v.9h-.9zM225.94 238.78h.9v.9h-.9zM229.48 239.04h.9v.9h-.9zM230.55 238.89h.9v.9h-.9zM233.79 238.8h.9v.9h-.9zM234.56 238.93h.9v.9h-.9zM160.6 239.82h.9v.9h-.9zM161.82 239.75h.9v.9h-.9zM163.87 239.83h.9v.9h-.9zM164.92 240.15h.9v.9h-.9zM165.8 239.93h.9v.9h-.9zM167.77 239.98h.9v.9h-.9zM168.78 239.95h.9v.9h-.9zM171.53 240.09h.9v.9h-.9zM173.66 240.25h.9v.9h-.9zM174.58 240.07h.9v.9h-.9zM175.61 240.25h.9v.9h-.9zM176.48 239.91h.9v.9h-.9zM177.42 240.01h.9v.9h-.9zM179.83 240.03h.9v.9h-.9zM181.78 240.3h.9v.9h-.9zM183.41 239.92h.9v.9h-.9zM185.77 240.11h.9v.9h-.9zM187.85 239.98h.9v.9h-.9zM189.73 240.07h.9v.9h-.9zM192.91 240.16h.9v.9h-.9zM194.96 239.97h.9v.9h-.9zM195.85 239.8h.9v.9h-.9zM196.43 240.11h.9v.9h-.9zM199.87 239.83h.9v.9h-.9zM200.73 239.87h.9v.9h-.9zM204.59 240.14h.9v.9h-.9zM205.83 240.04h.9v.9h-.9zM209.85 240.2h.9v.9h-.9zM210.97 239.76h.9v.9h-.9zM211.45 240.23h.9v.9h-.9zM213.6 240.12h.9v.9h-.9zM214.51 239.89h.9v.9h-.9zM215.7 239.85h.9v.9h-.9zM216.95 239.73h.9v.9h-.9zM217.52 240h.9v.9h-.9zM222.47 240.06h.9v.9h-.9zM223.86 240.12h.9v.9h-.9zM224.98 240.28h.9v.9h-.9zM225.49 239.98h.9v.9h-.9zM226.89 239.78h.9v.9h-.9zM227.64 240.19h.9v.9h-.9zM228.47 239.71h.9v.9h-.9zM229.63 239.94h.9v.9h-.9zM231.72 239.77h.9v.9h-.9zM232.65 240.11h.9v.9h-.9zM233.97 239.74h.9v.9h-.9zM159.77 240.87h.9v.9h-.9zM160.49 241.06h.9v.9h-.9zM161.53 241.14h.9v.9h-.9zM163.99 240.91h.9v.9h-.9zM164.81 241.25h.9v.9h-.9zM169.72 240.74h.9v.9h-.9zM171.78 240.74h.9v.9h-.9zM173.44 240.88h.9v.9h-.9zM176.65 240.71h.9v.9h-.9zM177.46 241.27h.9v.9h-.9zM178.79 241.09h.9v.9h-.9zM179.86 241.18h.9v.9h-.9zM181.44 241.09h.9v.9h-.9zM184.8 240.76h.9v.9h-.9zM185.64 241.12h.9v.9h-.9zM186.56 241.15h.9v.9h-.9zM187.62 240.75h.9v.9h-.9zM188.85 240.71h.9v.9h-.9zM189.57 241.09h.9v.9h-.9zM190.69 241.09h.9v.9h-.9zM192.7 241.07h.9v.9h-.9zM193.48 240.83h.9v.9h-.9zM194.4 240.83h.9v.9h-.9zM195.88 241.28h.9v.9h-.9zM197.46 241.04h.9v.9h-.9zM198.48 241h.9v.9h-.9zM200.67 240.9h.9v.9h-.9zM204.82 241.02h.9v.9h-.9zM206.46 241.16h.9v.9h-.9zM207.44 240.92h.9v.9h-.9zM208.83 240.71h.9v.9h-.9zM211.84 240.94h.9v.9h-.9zM213.49 240.9h.9v.9h-.9zM220.43 241.22h.9v.9h-.9zM221.5 240.88h.9v.9h-.9zM224.49 241.17h.9v.9h-.9zM228.89 241.17h.9v.9h-.9zM229.63 241.29h.9v.9h-.9zM232.85 240.86h.9v.9h-.9zM233.89 241.23h.9v.9h-.9zM250.66 241.06h.9v.9h-.9zM157.71 242.24h.9v.9h-.9zM158.56 242.2h.9v.9h-.9zM161.53 241.77h.9v.9h-.9zM163.8 241.78h.9v.9h-.9zM164.79 242.09h.9v.9h-.9zM165.75 242.24h.9v.9h-.9zM167.42 241.75h.9v.9h-.9zM168.42 242.11h.9v.9h-.9zM170.98 241.98h.9v.9h-.9zM172.8 242.26h.9v.9h-.9zM174.96 241.89h.9v.9h-.9zM175.7 241.87h.9v.9h-.9zM178.6 242.15h.9v.9h-.9zM180.85 242.22h.9v.9h-.9zM181.73 242.24h.9v.9h-.9zM185.91 241.99h.9v.9h-.9zM186.64 241.71h.9v.9h-.9zM188.93 241.8h.9v.9h-.9zM189.8 242.04h.9v.9h-.9zM190.58 241.93h.9v.9h-.9zM191.95 242.03h.9v.9h-.9zM193.6 241.78h.9v.9h-.9zM194.8 241.71h.9v.9h-.9zM195.8 241.87h.9v.9h-.9zM199.9 241.91h.9v.9h-.9zM200.67 241.81h.9v.9h-.9zM201.95 241.94h.9v.9h-.9zM202.84 241.91h.9v.9h-.9zM205.53 241.77h.9v.9h-.9zM207.95 241.74h.9v.9h-.9zM212.82 242.05h.9v.9h-.9zM213.73 242.1h.9v.9h-.9zM214.57 241.76h.9v.9h-.9zM215.5 241.73h.9v.9h-.9zM216.58 242.01h.9v.9h-.9zM218.95 242.21h.9v.9h-.9zM220.74 241.71h.9v.9h-.9zM221.77 241.91h.9v.9h-.9zM226.64 242.09h.9v.9h-.9zM227.51 241.76h.9v.9h-.9zM230.93 241.79h.9v.9h-.9zM231.6 242.17h.9v.9h-.9zM157.57 242.74h.9v.9h-.9zM158.61 242.95h.9v.9h-.9zM160.97 243.2h.9v.9h-.9zM161.67 243.13h.9v.9h-.9zM162.54 242.84h.9v.9h-.9zM166.42 242.76h.9v.9h-.9zM167.46 242.87h.9v.9h-.9zM169.58 242.95h.9v.9h-.9zM173.89 243.23h.9v.9h-.9zM175.81 243.19h.9v.9h-.9zM178.5 243.27h.9v.9h-.9zM181.47 243.05h.9v.9h-.9zM190.68 243.29h.9v.9h-.9zM191.67 242.71h.9v.9h-.9zM192.54 242.95h.9v.9h-.9zM193.65 242.92h.9v.9h-.9zM195.84 243.05h.9v.9h-.9zM196.87 243.23h.9v.9h-.9zM197.57 242.72h.9v.9h-.9zM199.58 243.24h.9v.9h-.9zM200.64 242.86h.9v.9h-.9zM202.69 243.22h.9v.9h-.9zM203.41 243.24h.9v.9h-.9zM207.46 242.82h.9v.9h-.9zM209.76 242.94h.9v.9h-.9zM212.47 243.03h.9v.9h-.9zM214.69 242.79h.9v.9h-.9zM215.85 243.25h.9v.9h-.9zM216.61 243.01h.9v.9h-.9zM220.85 243.11h.9v.9h-.9zM221.65 243.01h.9v.9h-.9zM222.49 242.95h.9v.9h-.9zM223.6 243.01h.9v.9h-.9zM224.71 243.24h.9v.9h-.9zM225.63 243.11h.9v.9h-.9zM227.9 243.24h.9v.9h-.9zM229.94 242.9h.9v.9h-.9zM230.57 243.17h.9v.9h-.9zM232.58 243.05h.9v.9h-.9zM157.65 244.05h.9v.9h-.9zM160.59 243.79h.9v.9h-.9zM163.56 243.77h.9v.9h-.9zM166.9 243.94h.9v.9h-.9zM167.76 244.26h.9v.9h-.9zM170.97 244.17h.9v.9h-.9zM171.76 243.89h.9v.9h-.9zM172.67 243.85h.9v.9h-.9zM173.96 243.83h.9v.9h-.9zM176.64 243.76h.9v.9h-.9zM178.4 243.83h.9v.9h-.9zM179.95 243.83h.9v.9h-.9zM182.63 244.01h.9v.9h-.9zM183.77 244.15h.9v.9h-.9zM185.75 243.79h.9v.9h-.9zM188.45 243.7h.9v.9h-.9zM189.63 244.03h.9v.9h-.9zM190.99 244.04h.9v.9h-.9zM192.55 244.02h.9v.9h-.9zM193.82 243.89h.9v.9h-.9zM195.9 243.82h.9v.9h-.9zM198.75 243.7h.9v.9h-.9zM200.87 244.15h.9v.9h-.9zM203.6 244.07h.9v.9h-.9zM205.87 244.19h.9v.9h-.9zM206.82 244.15h.9v.9h-.9zM209.9 243.73h.9v.9h-.9zM211.72 244.21h.9v.9h-.9zM212.7 244.15h.9v.9h-.9zM217.66 244.19h.9v.9h-.9zM218.87 243.91h.9v.9h-.9zM219.86 244.11h.9v.9h-.9zM225.45 244.09h.9v.9h-.9zM226.6 244.25h.9v.9h-.9zM227.65 244.28h.9v.9h-.9zM230.88 243.94h.9v.9h-.9zM232.63 243.95h.9v.9h-.9zM243.89 243.88h.9v.9h-.9zM162.5 244.88h.9v.9h-.9zM163.59 245.03h.9v.9h-.9zM165.68 245.12h.9v.9h-.9zM167.44 245.12h.9v.9h-.9zM170.44 244.92h.9v.9h-.9zM172.8 244.91h.9v.9h-.9zM174.76 244.87h.9v.9h-.9zM177.99 244.97h.9v.9h-.9zM180.75 245.27h.9v.9h-.9zM185.56 245.04h.9v.9h-.9zM189.9 245.26h.9v.9h-.9zM190.63 244.73h.9v.9h-.9zM192.92 244.76h.9v.9h-.9zM193.9 244.82h.9v.9h-.9zM194.92 245.17h.9v.9h-.9zM195.66 244.92h.9v.9h-.9zM196.45 245.24h.9v.9h-.9zM200.61 244.79h.9v.9h-.9zM201.86 245.17h.9v.9h-.9zM202.86 244.72h.9v.9h-.9zM203.94 244.76h.9v.9h-.9zM206.89 244.91h.9v.9h-.9zM209.77 244.95h.9v.9h-.9zM210.76 245.07h.9v.9h-.9zM211.69 244.85h.9v.9h-.9zM212.77 244.86h.9v.9h-.9zM213.42 245.13h.9v.9h-.9zM217.62 245.07h.9v.9h-.9zM219.67 245.25h.9v.9h-.9zM220.77 245.29h.9v.9h-.9zM221.97 244.9h.9v.9h-.9zM223.57 244.97h.9v.9h-.9zM226.83 244.97h.9v.9h-.9zM227.63 245.26h.9v.9h-.9zM230.47 244.73h.9v.9h-.9zM231.94 244.72h.9v.9h-.9zM233.4 245.27h.9v.9h-.9zM157.59 246.09h.9v.9h-.9zM163.82 245.81h.9v.9h-.9zM167.76 245.97h.9v.9h-.9zM169.7 245.95h.9v.9h-.9zM171.92 246.27h.9v.9h-.9zM173.58 245.79h.9v.9h-.9zM176.82 245.85h.9v.9h-.9zM178.93 245.95h.9v.9h-.9zM181.86 246.13h.9v.9h-.9zM182.49 245.78h.9v.9h-.9zM183.73 246.05h.9v.9h-.9zM190.63 245.76h.9v.9h-.9zM191.52 245.98h.9v.9h-.9zM192.46 246.01h.9v.9h-.9zM197.7 245.74h.9v.9h-.9zM199.41 246.22h.9v.9h-.9zM202.44 246.05h.9v.9h-.9zM203.72 246.12h.9v.9h-.9zM204.89 246.23h.9v.9h-.9zM206.69 246.15h.9v.9h-.9zM207.84 245.78h.9v.9h-.9zM209 245.93h.9v.9h-.9zM209.73 245.8h.9v.9h-.9zM210.93 246.28h.9v.9h-.9zM216.6 245.98h.9v.9h-.9zM217.84 246.07h.9v.9h-.9zM218.84 246.14h.9v.9h-.9zM221.43 246.19h.9v.9h-.9zM222.84 245.94h.9v.9h-.9zM225.49 245.97h.9v.9h-.9zM226.41 245.95h.9v.9h-.9zM227.96 246.2h.9v.9h-.9zM228.77 246.14h.9v.9h-.9zM229.42 245.83h.9v.9h-.9zM231.49 246.13h.9v.9h-.9zM232.72 245.76h.9v.9h-.9zM233.63 246.01h.9v.9h-.9zM157.85 246.78h.9v.9h-.9zM158.68 246.77h.9v.9h-.9zM162.71 246.99h.9v.9h-.9zM164.78 247.28h.9v.9h-.9zM165.45 247.12h.9v.9h-.9zM166.79 247.3h.9v.9h-.9zM168.45 247.26h.9v.9h-.9zM169.57 247.01h.9v.9h-.9zM170.75 246.83h.9v.9h-.9zM175.61 246.95h.9v.9h-.9zM176.71 246.79h.9v.9h-.9zM178.54 246.82h.9v.9h-.9zM181.74 247.04h.9v.9h-.9zM183.73 246.85h.9v.9h-.9zM184.96 247.17h.9v.9h-.9zM185.88 246.81h.9v.9h-.9zM186.56 247.27h.9v.9h-.9zM189.93 247.09h.9v.9h-.9zM190.95 246.94h.9v.9h-.9zM192.96 246.85h.9v.9h-.9zM194.41 246.94h.9v.9h-.9zM195.95 247.12h.9v.9h-.9zM196.64 247.3h.9v.9h-.9zM198.56 247.26h.9v.9h-.9zM199.64 246.98h.9v.9h-.9zM206.46 247.25h.9v.9h-.9zM208.73 246.96h.9v.9h-.9zM209.47 247.14h.9v.9h-.9zM210.44 246.93h.9v.9h-.9zM211.92 246.82h.9v.9h-.9zM212.98 246.99h.9v.9h-.9zM213.9 246.99h.9v.9h-.9zM214.7 247.07h.9v.9h-.9zM215.98 246.97h.9v.9h-.9zM219.81 246.91h.9v.9h-.9zM222.48 246.83h.9v.9h-.9zM230 247.3h.9v.9h-.9zM230.4 247.12h.9v.9h-.9zM231.43 247h.9v.9h-.9zM233.72 247.21h.9v.9h-.9zM158.77 248.3h.9v.9h-.9zM159.72 248.03h.9v.9h-.9zM160.51 248.17h.9v.9h-.9zM163.62 248.13h.9v.9h-.9zM168.61 248.27h.9v.9h-.9zM169.81 247.7h.9v.9h-.9zM170.7 248.22h.9v.9h-.9zM171.76 248.1h.9v.9h-.9zM175.53 248.05h.9v.9h-.9zM176.78 248.19h.9v.9h-.9zM177.79 247.82h.9v.9h-.9zM181.42 248.11h.9v.9h-.9zM185.64 248.3h.9v.9h-.9zM188.5 248.12h.9v.9h-.9zM194.6 247.99h.9v.9h-.9zM195.65 247.91h.9v.9h-.9zM196.89 247.74h.9v.9h-.9zM197.61 247.9h.9v.9h-.9zM206.54 248.08h.9v.9h-.9zM209 248.05h.9v.9h-.9zM209.56 248.08h.9v.9h-.9zM210.76 248.04h.9v.9h-.9zM212.41 247.87h.9v.9h-.9zM214.65 248.21h.9v.9h-.9zM220.46 247.95h.9v.9h-.9zM221.68 247.94h.9v.9h-.9zM222.74 247.92h.9v.9h-.9zM226.74 248.28h.9v.9h-.9zM228.56 247.8h.9v.9h-.9zM231.92 248.23h.9v.9h-.9zM232.75 247.92h.9v.9h-.9zM157.94 249.29h.9v.9h-.9zM159.79 248.77h.9v.9h-.9zM160.6 248.84h.9v.9h-.9zM164.91 248.91h.9v.9h-.9zM165.91 249h.9v.9h-.9zM166.81 248.74h.9v.9h-.9zM168.74 249.16h.9v.9h-.9zM171.53 249.16h.9v.9h-.9zM174.73 248.84h.9v.9h-.9zM177.98 249.09h.9v.9h-.9zM179.65 249.24h.9v.9h-.9zM184.56 248.78h.9v.9h-.9zM185.82 248.94h.9v.9h-.9zM186.58 248.86h.9v.9h-.9zM187.73 249.28h.9v.9h-.9zM191.72 248.79h.9v.9h-.9zM192.59 248.7h.9v.9h-.9zM193.44 248.99h.9v.9h-.9zM194.48 249.25h.9v.9h-.9zM195.6 249.08h.9v.9h-.9zM196.66 249.03h.9v.9h-.9zM197.48 248.79h.9v.9h-.9zM203.6 249h.9v.9h-.9zM204.97 248.98h.9v.9h-.9zM205.91 249.25h.9v.9h-.9zM206.93 249.24h.9v.9h-.9zM207.6 248.71h.9v.9h-.9zM209.94 249.1h.9v.9h-.9zM215 249.05h.9v.9h-.9zM215.9 249.16h.9v.9h-.9zM216.69 248.8h.9v.9h-.9zM220.48 249.03h.9v.9h-.9zM222.95 249.08h.9v.9h-.9zM223.82 248.82h.9v.9h-.9zM225.75 249.09h.9v.9h-.9zM226.98 249.29h.9v.9h-.9zM228.54 249.18h.9v.9h-.9zM229.63 249.01h.9v.9h-.9zM230.47 248.89h.9v.9h-.9zM231.6 248.72h.9v.9h-.9zM158.57 249.71h.9v.9h-.9zM159.79 250.15h.9v.9h-.9zM163.72 249.81h.9v.9h-.9zM165.95 250.18h.9v.9h-.9zM168.95 250.05h.9v.9h-.9zM171.43 250.24h.9v.9h-.9zM173.7 249.93h.9v.9h-.9zM175.42 250.3h.9v.9h-.9zM177.8 249.77h.9v.9h-.9zM179.54 250.07h.9v.9h-.9zM182.79 249.92h.9v.9h-.9zM188.78 250.28h.9v.9h-.9zM189.87 250.05h.9v.9h-.9zM190.87 250.14h.9v.9h-.9zM191.99 250.12h.9v.9h-.9zM193.49 249.87h.9v.9h-.9zM196.9 249.78h.9v.9h-.9zM197.87 250.12h.9v.9h-.9zM198.98 250.1h.9v.9h-.9zM203.63 250.21h.9v.9h-.9zM207.69 250.13h.9v.9h-.9zM208.78 249.73h.9v.9h-.9zM209.71 250.25h.9v.9h-.9zM211.52 249.99h.9v.9h-.9zM212.99 249.71h.9v.9h-.9zM214.73 250.06h.9v.9h-.9zM216.98 249.89h.9v.9h-.9zM219.56 249.77h.9v.9h-.9zM222.93 249.73h.9v.9h-.9zM227.8 249.96h.9v.9h-.9zM228.84 250.1h.9v.9h-.9zM229.51 250.24h.9v.9h-.9zM231.66 250.1h.9v.9h-.9zM232.67 250.13h.9v.9h-.9zM157.79 251.03h.9v.9h-.9zM163.5 250.92h.9v.9h-.9zM164.51 251.09h.9v.9h-.9zM168.63 251.08h.9v.9h-.9zM169.83 251.12h.9v.9h-.9zM170.96 251.19h.9v.9h-.9zM177.91 251.06h.9v.9h-.9zM181.72 251.21h.9v.9h-.9zM185.91 250.71h.9v.9h-.9zM187.68 250.93h.9v.9h-.9zM192 250.93h.9v.9h-.9zM192.75 250.79h.9v.9h-.9zM193.58 250.82h.9v.9h-.9zM194.76 250.74h.9v.9h-.9zM196.83 250.89h.9v.9h-.9zM200.93 251h.9v.9h-.9zM201.59 250.91h.9v.9h-.9zM202.91 250.84h.9v.9h-.9zM203.47 250.79h.9v.9h-.9zM204.64 250.88h.9v.9h-.9zM206.43 250.74h.9v.9h-.9zM207.6 250.85h.9v.9h-.9zM209.47 251h.9v.9h-.9zM211.5 251.18h.9v.9h-.9zM212.56 251.15h.9v.9h-.9zM215.45 251h.9v.9h-.9zM217.84 250.85h.9v.9h-.9zM218.59 251.03h.9v.9h-.9zM221.66 250.95h.9v.9h-.9zM222.94 250.88h.9v.9h-.9zM228.81 250.8h.9v.9h-.9zM231.75 250.85h.9v.9h-.9zM159.93 251.84h.9v.9h-.9zM160.91 252.27h.9v.9h-.9zM161.95 251.99h.9v.9h-.9zM163.94 251.76h.9v.9h-.9zM165.55 252.26h.9v.9h-.9zM168.73 251.78h.9v.9h-.9zM169.95 252.05h.9v.9h-.9zM171.71 251.93h.9v.9h-.9zM174.69 252.16h.9v.9h-.9zM175.58 252.12h.9v.9h-.9zM177.8 251.83h.9v.9h-.9zM178.45 251.79h.9v.9h-.9zM181.66 252.18h.9v.9h-.9zM184.63 252.07h.9v.9h-.9zM185.56 251.93h.9v.9h-.9zM186.95 252.13h.9v.9h-.9zM187.73 251.91h.9v.9h-.9zM190.59 252.1h.9v.9h-.9zM191.59 251.83h.9v.9h-.9zM192.64 251.83h.9v.9h-.9zM193.8 252.04h.9v.9h-.9zM194.95 251.73h.9v.9h-.9zM195.51 252.04h.9v.9h-.9zM196.45 251.73h.9v.9h-.9zM197.44 252.05h.9v.9h-.9zM201.98 252.02h.9v.9h-.9zM202.81 251.73h.9v.9h-.9zM203.67 252.19h.9v.9h-.9zM206.92 251.93h.9v.9h-.9zM208.59 251.76h.9v.9h-.9zM212.68 252.16h.9v.9h-.9zM214.59 252.22h.9v.9h-.9zM217.47 252.01h.9v.9h-.9zM222.77 252.11h.9v.9h-.9zM223.71 252.17h.9v.9h-.9zM224.6 251.92h.9v.9h-.9zM226.4 251.85h.9v.9h-.9zM229.48 251.73h.9v.9h-.9zM230.76 251.99h.9v.9h-.9zM232.94 252.12h.9v.9h-.9zM233.52 251.94h.9v.9h-.9zM158.71 253.05h.9v.9h-.9zM160.42 253h.9v.9h-.9zM164.53 252.92h.9v.9h-.9zM165.99 253.21h.9v.9h-.9zM170.62 253.17h.9v.9h-.9zM176.98 253.03h.9v.9h-.9zM177.54 252.94h.9v.9h-.9zM178.82 253.11h.9v.9h-.9zM184.81 252.84h.9v.9h-.9zM185.61 253.04h.9v.9h-.9zM187.82 253.25h.9v.9h-.9zM188.51 253.08h.9v.9h-.9zM189.5 253.3h.9v.9h-.9zM190.89 253.02h.9v.9h-.9zM191.73 252.89h.9v.9h-.9zM192.48 253.07h.9v.9h-.9zM193.51 253.15h.9v.9h-.9zM194.53 252.75h.9v.9h-.9zM195.7 252.91h.9v.9h-.9zM197.4 252.7h.9v.9h-.9zM198.89 253.18h.9v.9h-.9zM199.98 253.02h.9v.9h-.9zM204.49 252.91h.9v.9h-.9zM205.99 252.95h.9v.9h-.9zM206.53 252.84h.9v.9h-.9zM208.56 253.2h.9v.9h-.9zM209.92 252.93h.9v.9h-.9zM211.41 253.27h.9v.9h-.9zM212.47 252.93h.9v.9h-.9zM216.59 252.74h.9v.9h-.9zM217.97 252.96h.9v.9h-.9zM219.8 253.04h.9v.9h-.9zM220.88 253.05h.9v.9h-.9zM221.65 252.86h.9v.9h-.9zM226.43 252.83h.9v.9h-.9zM228.88 252.83h.9v.9h-.9zM230.8 252.99h.9v.9h-.9zM232.87 253.14h.9v.9h-.9zM241.51 252.83h.9v.9h-.9zM161.88 253.92h.9v.9h-.9zM163.94 253.81h.9v.9h-.9zM173.96 254.25h.9v.9h-.9zM174.45 253.97h.9v.9h-.9zM175.52 254.12h.9v.9h-.9zM179.93 254.09h.9v.9h-.9zM180.99 254.06h.9v.9h-.9zM181.44 254.05h.9v.9h-.9zM183.43 254.13h.9v.9h-.9zM186.72 253.95h.9v.9h-.9zM187.95 254.23h.9v.9h-.9zM191.98 253.74h.9v.9h-.9zM193.57 254.01h.9v.9h-.9zM195.84 254.11h.9v.9h-.9zM196.87 254.06h.9v.9h-.9zM197.5 253.76h.9v.9h-.9zM198.49 254.04h.9v.9h-.9zM199.86 254.22h.9v.9h-.9zM201.82 253.91h.9v.9h-.9zM202.49 254.18h.9v.9h-.9zM203.52 253.87h.9v.9h-.9zM204.7 254.21h.9v.9h-.9zM206.49 254.18h.9v.9h-.9zM208.81 254.06h.9v.9h-.9zM210.94 254.01h.9v.9h-.9zM211.53 253.87h.9v.9h-.9zM213.8 254.15h.9v.9h-.9zM218.97 253.93h.9v.9h-.9zM219.95 254.09h.9v.9h-.9zM220.59 253.88h.9v.9h-.9zM221.42 254.25h.9v.9h-.9zM223.69 254.2h.9v.9h-.9zM224.56 254h.9v.9h-.9zM226 253.92h.9v.9h-.9zM227.53 254.23h.9v.9h-.9zM228.4 254.15h.9v.9h-.9zM230.58 254h.9v.9h-.9zM232.81 254.19h.9v.9h-.9zM233.64 254h.9v.9h-.9zM158.86 254.73h.9v.9h-.9zM160.67 254.75h.9v.9h-.9zM163.77 254.83h.9v.9h-.9zM164.73 255.27h.9v.9h-.9zM165.47 254.96h.9v.9h-.9zM167.96 255.16h.9v.9h-.9zM168.57 254.94h.9v.9h-.9zM169.96 254.83h.9v.9h-.9zM172.97 255.22h.9v.9h-.9zM176.62 254.91h.9v.9h-.9zM180.63 255.21h.9v.9h-.9zM181.44 254.91h.9v.9h-.9zM182.72 255.27h.9v.9h-.9zM190.45 254.9h.9v.9h-.9zM191.99 254.81h.9v.9h-.9zM192.74 254.75h.9v.9h-.9zM193.56 255.14h.9v.9h-.9zM194.56 255.12h.9v.9h-.9zM195.63 255.18h.9v.9h-.9zM196.89 254.97h.9v.9h-.9zM198.52 254.81h.9v.9h-.9zM199.51 255.03h.9v.9h-.9zM201.69 255.25h.9v.9h-.9zM202.95 255.15h.9v.9h-.9zM203.59 255.22h.9v.9h-.9zM204.9 255.04h.9v.9h-.9zM205.53 254.78h.9v.9h-.9zM206.89 255h.9v.9h-.9zM207.89 254.7h.9v.9h-.9zM210.61 254.87h.9v.9h-.9zM211.71 255.29h.9v.9h-.9zM212.9 255.23h.9v.9h-.9zM217.65 255.14h.9v.9h-.9zM219.77 254.99h.9v.9h-.9zM220.7 255.01h.9v.9h-.9zM221.82 255.05h.9v.9h-.9zM223.42 255.02h.9v.9h-.9zM226.8 254.72h.9v.9h-.9zM227.46 254.81h.9v.9h-.9zM231.45 255.08h.9v.9h-.9zM232.52 254.74h.9v.9h-.9z" fill="#222" opacity="0.72"/>
<rect x="157.4" y="167.7" width="93.7" height="88.2" fill="none" stroke="#555" stroke-width="1"/>
<line x1="157.4" y1="167.7" x2="157.4" y2="256.5" stroke="#111" stroke-width="1.3" />
<line x1="156.8" y1="255.9" x2="251.1" y2="255.9" stroke="#111" stroke-width="1.3" />
<line x1="166.3" y1="167.7" x2="166.3" y2="255.9" stroke="#505050" stroke-width="0.9" />
<line x1="173.7" y1="167.7" x2="173.7" y2="255.9" stroke="#505050" stroke-width="0.9" />
<line x1="181.3" y1="167.7" x2="181.3" y2="255.9" stroke="#505050" stroke-width="0.9" />
<line x1="188.7" y1="167.7" x2="188.7" y2="255.9" stroke="#505050" stroke-width="0.9" />
<line x1="196.5" y1="167.7" x2="196.5" y2="255.9" stroke="#505050" stroke-width="0.9" />
<line x1="204" y1="167.7" x2="204" y2="255.9" stroke="#505050" stroke-width="0.9" />
<line x1="211.3" y1="167.7" x2="211.3" y2="255.9" stroke="#505050" stroke-width="0.9" />
<line x1="218.8" y1="167.7" x2="218.8" y2="255.9" stroke="#505050" stroke-width="0.9" />
<line x1="226.6" y1="167.7" x2="226.6" y2="255.9" stroke="#505050" stroke-width="0.9" />
<line x1="157.4" y1="227.6" x2="251.1" y2="227.6" stroke="#555" stroke-width="1" />
<text x="161.6" y="177.5" font-size="7.4" text-anchor="middle" fill="#555" font-family="Liberation Serif" style="stroke:none">&gt;9</text>
<text x="170.1" y="177.5" font-size="7.4" text-anchor="middle" fill="#555" font-family="Liberation Serif" style="stroke:none">8</text>
<text x="177.5" y="177.5" font-size="7.4" text-anchor="middle" fill="#555" font-family="Liberation Serif" style="stroke:none">7</text>
<text x="184.9" y="177.5" font-size="7.4" text-anchor="middle" fill="#555" font-family="Liberation Serif" style="stroke:none">6</text>
<text x="192.3" y="177.5" font-size="7.4" text-anchor="middle" fill="#555" font-family="Liberation Serif" style="stroke:none">5</text>
<text x="200.3" y="177.5" font-size="7.4" text-anchor="middle" fill="#555" font-family="Liberation Serif" style="stroke:none">4</text>
<text x="207.5" y="177.5" font-size="7.4" text-anchor="middle" fill="#555" font-family="Liberation Serif" style="stroke:none">3</text>
<text x="215.2" y="177.5" font-size="7.4" text-anchor="middle" fill="#555" font-family="Liberation Serif" style="stroke:none">2</text>
<text x="222.6" y="177.5" font-size="7.4" text-anchor="middle" fill="#555" font-family="Liberation Serif" style="stroke:none">1</text>
<text x="230.8" y="177.5" font-size="7.4" text-anchor="middle" fill="#555" font-family="Liberation Serif" style="stroke:none">0</text>
<text x="201" y="164.5" font-size="10" text-anchor="middle" fill="#111" font-family="Liberation Serif">plt/plt</text>
<line x1="157.4" y1="255.9" x2="157.4" y2="258.4" stroke="#222" stroke-width="0.9" />
<text x="158.2" y="268" font-size="7.6" text-anchor="middle" font-family="Liberation Serif" fill="#1a1a1a">10<tspan font-size="6.2" dy="-5.4">0</tspan></text>
<line x1="164.45" y1="255.9" x2="164.45" y2="257.7" stroke="#222" stroke-width="0.8" />
<line x1="168.58" y1="255.9" x2="168.58" y2="257.7" stroke="#222" stroke-width="0.8" />
<line x1="171.5" y1="255.9" x2="171.5" y2="257.7" stroke="#222" stroke-width="0.8" />
<line x1="173.77" y1="255.9" x2="173.77" y2="257.7" stroke="#222" stroke-width="0.8" />
<line x1="175.63" y1="255.9" x2="175.63" y2="257.7" stroke="#222" stroke-width="0.8" />
<line x1="177.2" y1="255.9" x2="177.2" y2="257.7" stroke="#222" stroke-width="0.8" />
<line x1="178.55" y1="255.9" x2="178.55" y2="257.7" stroke="#222" stroke-width="0.8" />
<line x1="179.75" y1="255.9" x2="179.75" y2="257.7" stroke="#222" stroke-width="0.8" />
<line x1="180.82" y1="255.9" x2="180.82" y2="258.4" stroke="#222" stroke-width="0.9" />
<text x="181.62" y="268" font-size="7.6" text-anchor="middle" font-family="Liberation Serif" fill="#1a1a1a">10<tspan font-size="6.2" dy="-5.4">1</tspan></text>
<line x1="187.88" y1="255.9" x2="187.88" y2="257.7" stroke="#222" stroke-width="0.8" />
<line x1="192" y1="255.9" x2="192" y2="257.7" stroke="#222" stroke-width="0.8" />
<line x1="194.93" y1="255.9" x2="194.93" y2="257.7" stroke="#222" stroke-width="0.8" />
<line x1="197.2" y1="255.9" x2="197.2" y2="257.7" stroke="#222" stroke-width="0.8" />
<line x1="199.05" y1="255.9" x2="199.05" y2="257.7" stroke="#222" stroke-width="0.8" />
<line x1="200.62" y1="255.9" x2="200.62" y2="257.7" stroke="#222" stroke-width="0.8" />
<line x1="201.98" y1="255.9" x2="201.98" y2="257.7" stroke="#222" stroke-width="0.8" />
<line x1="203.18" y1="255.9" x2="203.18" y2="257.7" stroke="#222" stroke-width="0.8" />
<line x1="204.25" y1="255.9" x2="204.25" y2="258.4" stroke="#222" stroke-width="0.9" />
<text x="205.05" y="268" font-size="7.6" text-anchor="middle" font-family="Liberation Serif" fill="#1a1a1a">10<tspan font-size="6.2" dy="-5.4">2</tspan></text>
<line x1="211.3" y1="255.9" x2="211.3" y2="257.7" stroke="#222" stroke-width="0.8" />
<line x1="215.43" y1="255.9" x2="215.43" y2="257.7" stroke="#222" stroke-width="0.8" />
<line x1="218.35" y1="255.9" x2="218.35" y2="257.7" stroke="#222" stroke-width="0.8" />
<line x1="220.62" y1="255.9" x2="220.62" y2="257.7" stroke="#222" stroke-width="0.8" />
<line x1="222.48" y1="255.9" x2="222.48" y2="257.7" stroke="#222" stroke-width="0.8" />
<line x1="224.05" y1="255.9" x2="224.05" y2="257.7" stroke="#222" stroke-width="0.8" />
<line x1="225.4" y1="255.9" x2="225.4" y2="257.7" stroke="#222" stroke-width="0.8" />
<line x1="226.6" y1="255.9" x2="226.6" y2="257.7" stroke="#222" stroke-width="0.8" />
<line x1="227.68" y1="255.9" x2="227.68" y2="258.4" stroke="#222" stroke-width="0.9" />
<text x="228.48" y="268" font-size="7.6" text-anchor="middle" font-family="Liberation Serif" fill="#1a1a1a">10<tspan font-size="6.2" dy="-5.4">3</tspan></text>
<line x1="234.73" y1="255.9" x2="234.73" y2="257.7" stroke="#222" stroke-width="0.8" />
<line x1="238.85" y1="255.9" x2="238.85" y2="257.7" stroke="#222" stroke-width="0.8" />
<line x1="241.78" y1="255.9" x2="241.78" y2="257.7" stroke="#222" stroke-width="0.8" />
<line x1="244.05" y1="255.9" x2="244.05" y2="257.7" stroke="#222" stroke-width="0.8" />
<line x1="245.9" y1="255.9" x2="245.9" y2="257.7" stroke="#222" stroke-width="0.8" />
<line x1="247.47" y1="255.9" x2="247.47" y2="257.7" stroke="#222" stroke-width="0.8" />
<line x1="248.83" y1="255.9" x2="248.83" y2="257.7" stroke="#222" stroke-width="0.8" />
<line x1="250.03" y1="255.9" x2="250.03" y2="257.7" stroke="#222" stroke-width="0.8" />
<line x1="251.1" y1="255.9" x2="251.1" y2="258.4" stroke="#222" stroke-width="0.9" />
<text x="251.9" y="268" font-size="7.6" text-anchor="middle" font-family="Liberation Serif" fill="#1a1a1a">10<tspan font-size="6.2" dy="-5.4">4</tspan></text>
<line x1="154.9" y1="255.9" x2="157.4" y2="255.9" stroke="#222" stroke-width="0.9" />
<text transform="translate(152,256.5) rotate(-90)" font-size="7.6" text-anchor="middle" font-family="Liberation Serif" fill="#1a1a1a">10<tspan font-size="6.2" dy="-3.9">0</tspan></text>
<line x1="155.6" y1="249.26" x2="157.4" y2="249.26" stroke="#222" stroke-width="0.8" />
<line x1="155.6" y1="245.38" x2="157.4" y2="245.38" stroke="#222" stroke-width="0.8" />
<line x1="155.6" y1="242.62" x2="157.4" y2="242.62" stroke="#222" stroke-width="0.8" />
<line x1="155.6" y1="240.49" x2="157.4" y2="240.49" stroke="#222" stroke-width="0.8" />
<line x1="155.6" y1="238.74" x2="157.4" y2="238.74" stroke="#222" stroke-width="0.8" />
<line x1="155.6" y1="237.27" x2="157.4" y2="237.27" stroke="#222" stroke-width="0.8" />
<line x1="155.6" y1="235.99" x2="157.4" y2="235.99" stroke="#222" stroke-width="0.8" />
<line x1="155.6" y1="234.86" x2="157.4" y2="234.86" stroke="#222" stroke-width="0.8" />
<line x1="154.9" y1="233.85" x2="157.4" y2="233.85" stroke="#222" stroke-width="0.9" />
<text transform="translate(152,234.45) rotate(-90)" font-size="7.6" text-anchor="middle" font-family="Liberation Serif" fill="#1a1a1a">10<tspan font-size="6.2" dy="-3.9">1</tspan></text>
<line x1="155.6" y1="227.21" x2="157.4" y2="227.21" stroke="#222" stroke-width="0.8" />
<line x1="155.6" y1="223.33" x2="157.4" y2="223.33" stroke="#222" stroke-width="0.8" />
<line x1="155.6" y1="220.57" x2="157.4" y2="220.57" stroke="#222" stroke-width="0.8" />
<line x1="155.6" y1="218.44" x2="157.4" y2="218.44" stroke="#222" stroke-width="0.8" />
<line x1="155.6" y1="216.69" x2="157.4" y2="216.69" stroke="#222" stroke-width="0.8" />
<line x1="155.6" y1="215.22" x2="157.4" y2="215.22" stroke="#222" stroke-width="0.8" />
<line x1="155.6" y1="213.94" x2="157.4" y2="213.94" stroke="#222" stroke-width="0.8" />
<line x1="155.6" y1="212.81" x2="157.4" y2="212.81" stroke="#222" stroke-width="0.8" />
<line x1="154.9" y1="211.8" x2="157.4" y2="211.8" stroke="#222" stroke-width="0.9" />
<text transform="translate(152,212.4) rotate(-90)" font-size="7.6" text-anchor="middle" font-family="Liberation Serif" fill="#1a1a1a">10<tspan font-size="6.2" dy="-3.9">2</tspan></text>
<line x1="155.6" y1="205.16" x2="157.4" y2="205.16" stroke="#222" stroke-width="0.8" />
<line x1="155.6" y1="201.28" x2="157.4" y2="201.28" stroke="#222" stroke-width="0.8" />
<line x1="155.6" y1="198.52" x2="157.4" y2="198.52" stroke="#222" stroke-width="0.8" />
<line x1="155.6" y1="196.39" x2="157.4" y2="196.39" stroke="#222" stroke-width="0.8" />
<line x1="155.6" y1="194.64" x2="157.4" y2="194.64" stroke="#222" stroke-width="0.8" />
<line x1="155.6" y1="193.17" x2="157.4" y2="193.17" stroke="#222" stroke-width="0.8" />
<line x1="155.6" y1="191.89" x2="157.4" y2="191.89" stroke="#222" stroke-width="0.8" />
<line x1="155.6" y1="190.76" x2="157.4" y2="190.76" stroke="#222" stroke-width="0.8" />
<line x1="154.9" y1="189.75" x2="157.4" y2="189.75" stroke="#222" stroke-width="0.9" />
<text transform="translate(152,190.35) rotate(-90)" font-size="7.6" text-anchor="middle" font-family="Liberation Serif" fill="#1a1a1a">10<tspan font-size="6.2" dy="-3.9">3</tspan></text>
<line x1="155.6" y1="183.11" x2="157.4" y2="183.11" stroke="#222" stroke-width="0.8" />
<line x1="155.6" y1="179.23" x2="157.4" y2="179.23" stroke="#222" stroke-width="0.8" />
<line x1="155.6" y1="176.47" x2="157.4" y2="176.47" stroke="#222" stroke-width="0.8" />
<line x1="155.6" y1="174.34" x2="157.4" y2="174.34" stroke="#222" stroke-width="0.8" />
<line x1="155.6" y1="172.59" x2="157.4" y2="172.59" stroke="#222" stroke-width="0.8" />
<line x1="155.6" y1="171.12" x2="157.4" y2="171.12" stroke="#222" stroke-width="0.8" />
<line x1="155.6" y1="169.84" x2="157.4" y2="169.84" stroke="#222" stroke-width="0.8" />
<line x1="155.6" y1="168.71" x2="157.4" y2="168.71" stroke="#222" stroke-width="0.8" />
<line x1="154.9" y1="167.7" x2="157.4" y2="167.7" stroke="#222" stroke-width="0.9" />
<text transform="translate(152,168.3) rotate(-90)" font-size="7.6" text-anchor="middle" font-family="Liberation Serif" fill="#1a1a1a">10<tspan font-size="6.2" dy="-3.9">4</tspan></text>
<text transform="translate(15.2,214.2) rotate(-90)" font-size="9.6" text-anchor="middle" font-family="Liberation Serif" fill="#111">Annexin V</text>
<line x1="18.5" y1="245.3" x2="18.5" y2="179" stroke="#111" stroke-width="1" />
<path d="M16 180.5 L21 180.5 L18.5 174.5 Z" fill="#111"/>
<line x1="63.8" y1="273.6" x2="220" y2="273.6" stroke="#111" stroke-width="1" />
<path d="M219 271.3 L219 275.9 L225.3 273.6 Z" fill="#111"/>
<text x="141.2" y="283" font-size="10" text-anchor="middle" fill="#111" font-family="Liberation Serif">CFSE</text>
<text class="L" x="267.6" y="14" font-family="Liberation Sans" font-weight="bold" font-size="17" fill="#000">C</text>
<line x1="299.2" y1="26.4" x2="387.7" y2="26.4" stroke="#777" stroke-width="1" />
<line x1="387.7" y1="26.4" x2="387.7" y2="114.5" stroke="#777" stroke-width="1" />
<line x1="299.2" y1="25.9" x2="299.2" y2="115" stroke="#3a3a3a" stroke-width="1" />
<line x1="297.2" y1="114.5" x2="387.7" y2="114.5" stroke="#2a2a2a" stroke-width="1" />
<line x1="296.7" y1="114.5" x2="299.2" y2="114.5" stroke="#222" stroke-width="1" />
<text x="296.1" y="117.8" font-size="7.8" text-anchor="end" fill="#3a3a3a" font-family="Liberation Serif">0</text>
<line x1="296.7" y1="85.13" x2="299.2" y2="85.13" stroke="#222" stroke-width="1" />
<text x="296.1" y="88.43" font-size="7.8" text-anchor="end" fill="#3a3a3a" font-family="Liberation Serif">1</text>
<line x1="296.7" y1="55.77" x2="299.2" y2="55.77" stroke="#222" stroke-width="1" />
<text x="296.1" y="59.07" font-size="7.8" text-anchor="end" fill="#3a3a3a" font-family="Liberation Serif">2</text>
<line x1="296.7" y1="26.4" x2="299.2" y2="26.4" stroke="#222" stroke-width="1" />
<text x="296.1" y="29.7" font-size="7.8" text-anchor="end" fill="#3a3a3a" font-family="Liberation Serif">3</text>
<line x1="297.4" y1="99.82" x2="299.2" y2="99.82" stroke="#555" stroke-width="0.8" />
<line x1="297.4" y1="70.45" x2="299.2" y2="70.45" stroke="#555" stroke-width="0.8" />
<line x1="297.4" y1="41.08" x2="299.2" y2="41.08" stroke="#555" stroke-width="0.8" />
<line x1="301.98" y1="106.57" x2="301.98" y2="104.22" stroke="#333" stroke-width="0.9" />
<line x1="300.68" y1="104.22" x2="303.28" y2="104.22" stroke="#333" stroke-width="0.9" />
<line x1="305.62" y1="110.09" x2="305.62" y2="109.51" stroke="#333" stroke-width="0.9" />
<line x1="304.32" y1="109.51" x2="306.93" y2="109.51" stroke="#333" stroke-width="0.9" />
<rect x="300.15" y="106.57" width="3.65" height="7.93" fill="#fff" stroke="#222" stroke-width="0.9"/>
<rect x="303.8" y="110.09" width="3.65" height="4.4" fill="#666" stroke="#222" stroke-width="0.9"/>
<line x1="308.2" y1="114.5" x2="308.2" y2="116.5" stroke="#333" stroke-width="0.8" />
<text x="303.8" y="122.7" font-size="8.8" text-anchor="middle" fill="#111" font-family="Liberation Serif">&gt;9</text>
<line x1="310.78" y1="86.01" x2="310.78" y2="84.55" stroke="#333" stroke-width="0.9" />
<line x1="309.48" y1="84.55" x2="312.08" y2="84.55" stroke="#333" stroke-width="0.9" />
<line x1="314.43" y1="84.25" x2="314.43" y2="79.26" stroke="#333" stroke-width="0.9" />
<line x1="313.12" y1="79.26" x2="315.73" y2="79.26" stroke="#333" stroke-width="0.9" />
<rect x="308.95" y="86.01" width="3.65" height="28.49" fill="#fff" stroke="#222" stroke-width="0.9"/>
<rect x="312.6" y="84.25" width="3.65" height="30.25" fill="#666" stroke="#222" stroke-width="0.9"/>
<line x1="317" y1="114.5" x2="317" y2="116.5" stroke="#333" stroke-width="0.8" />
<text x="312.7" y="122.7" font-size="8.8" text-anchor="middle" fill="#111" font-family="Liberation Serif">8</text>
<line x1="319.58" y1="84.25" x2="319.58" y2="79.26" stroke="#333" stroke-width="0.9" />
<line x1="318.28" y1="79.26" x2="320.88" y2="79.26" stroke="#333" stroke-width="0.9" />
<line x1="323.23" y1="91.3" x2="323.23" y2="90.42" stroke="#333" stroke-width="0.9" />
<line x1="321.93" y1="90.42" x2="324.53" y2="90.42" stroke="#333" stroke-width="0.9" />
<rect x="317.75" y="84.25" width="3.65" height="30.25" fill="#fff" stroke="#222" stroke-width="0.9"/>
<rect x="321.4" y="91.3" width="3.65" height="23.2" fill="#666" stroke="#222" stroke-width="0.9"/>
<line x1="325.8" y1="114.5" x2="325.8" y2="116.5" stroke="#333" stroke-width="0.8" />
<text x="320.8" y="122.7" font-size="8.8" text-anchor="middle" fill="#111" font-family="Liberation Serif">7</text>
<line x1="328.38" y1="88.66" x2="328.38" y2="88.07" stroke="#333" stroke-width="0.9" />
<line x1="327.07" y1="88.07" x2="329.68" y2="88.07" stroke="#333" stroke-width="0.9" />
<line x1="332.02" y1="97.47" x2="332.02" y2="93.36" stroke="#333" stroke-width="0.9" />
<line x1="330.72" y1="93.36" x2="333.32" y2="93.36" stroke="#333" stroke-width="0.9" />
<rect x="326.55" y="88.66" width="3.65" height="25.84" fill="#fff" stroke="#222" stroke-width="0.9"/>
<rect x="330.2" y="97.47" width="3.65" height="17.03" fill="#666" stroke="#222" stroke-width="0.9"/>
<line x1="334.6" y1="114.5" x2="334.6" y2="116.5" stroke="#333" stroke-width="0.8" />
<text x="329.4" y="122.7" font-size="8.8" text-anchor="middle" fill="#111" font-family="Liberation Serif">6</text>
<line x1="337.18" y1="112.44" x2="337.18" y2="111.86" stroke="#333" stroke-width="0.9" />
<line x1="335.88" y1="111.86" x2="338.48" y2="111.86" stroke="#333" stroke-width="0.9" />
<line x1="340.82" y1="110.98" x2="340.82" y2="110.09" stroke="#333" stroke-width="0.9" />
<line x1="339.52" y1="110.09" x2="342.12" y2="110.09" stroke="#333" stroke-width="0.9" />
<rect x="335.35" y="112.44" width="3.65" height="2.06" fill="#fff" stroke="#222" stroke-width="0.9"/>
<rect x="339" y="110.98" width="3.65" height="3.52" fill="#666" stroke="#222" stroke-width="0.9"/>
<line x1="343.4" y1="114.5" x2="343.4" y2="116.5" stroke="#333" stroke-width="0.8" />
<text x="339" y="122.7" font-size="8.8" text-anchor="middle" fill="#111" font-family="Liberation Serif">5</text>
<rect x="344.15" y="113.91" width="3.65" height="0.59" fill="#fff" stroke="#222" stroke-width="0.9"/>
<rect x="347.8" y="113.91" width="3.65" height="0.59" fill="#666" stroke="#222" stroke-width="0.9"/>
<line x1="352.2" y1="114.5" x2="352.2" y2="116.5" stroke="#333" stroke-width="0.8" />
<text x="347.3" y="122.7" font-size="8.8" text-anchor="middle" fill="#111" font-family="Liberation Serif">4</text>
<line x1="358.43" y1="113.03" x2="358.43" y2="112.74" stroke="#333" stroke-width="0.9" />
<line x1="357.12" y1="112.74" x2="359.73" y2="112.74" stroke="#333" stroke-width="0.9" />
<rect x="352.95" y="113.91" width="3.65" height="0.59" fill="#fff" stroke="#222" stroke-width="0.9"/>
<rect x="356.6" y="113.03" width="3.65" height="1.47" fill="#666" stroke="#222" stroke-width="0.9"/>
<line x1="361" y1="114.5" x2="361" y2="116.5" stroke="#333" stroke-width="0.8" />
<text x="356.3" y="122.7" font-size="8.8" text-anchor="middle" fill="#111" font-family="Liberation Serif">3</text>
<rect x="361.75" y="114.21" width="3.65" height="0.29" fill="#fff" stroke="#222" stroke-width="0.9"/>
<rect x="365.4" y="114.21" width="3.65" height="0.29" fill="#666" stroke="#222" stroke-width="0.9"/>
<line x1="369.8" y1="114.5" x2="369.8" y2="116.5" stroke="#333" stroke-width="0.8" />
<text x="365.4" y="122.7" font-size="8.8" text-anchor="middle" fill="#111" font-family="Liberation Serif">2</text>
<rect x="370.55" y="114.21" width="3.65" height="0.29" fill="#fff" stroke="#222" stroke-width="0.9"/>
<rect x="374.2" y="114.21" width="3.65" height="0.29" fill="#666" stroke="#222" stroke-width="0.9"/>
<line x1="378.6" y1="114.5" x2="378.6" y2="116.5" stroke="#333" stroke-width="0.8" />
<text x="374.2" y="122.7" font-size="8.8" text-anchor="middle" fill="#111" font-family="Liberation Serif">1</text>
<line x1="381.18" y1="112.15" x2="381.18" y2="111.86" stroke="#333" stroke-width="0.9" />
<line x1="379.88" y1="111.86" x2="382.48" y2="111.86" stroke="#333" stroke-width="0.9" />
<rect x="379.35" y="112.15" width="3.65" height="2.35" fill="#fff" stroke="#222" stroke-width="0.9"/>
<rect x="383" y="113.33" width="3.65" height="1.17" fill="#666" stroke="#222" stroke-width="0.9"/>
<text x="382.7" y="122.7" font-size="8.8" text-anchor="middle" fill="#111" font-family="Liberation Serif">0</text>
<text x="343.95" y="132.3" font-size="10" text-anchor="middle" fill="#111" font-family="Liberation Serif">Divisions</text>
<rect x="347.4" y="28.2" width="39.5" height="21" fill="#fff" stroke="#666" stroke-width="0.9"/>
<rect x="350.8" y="32.2" width="5" height="5" fill="#fff" stroke="#333" stroke-width="0.9"/>
<rect x="350.8" y="40.7" width="5" height="5" fill="#666" stroke="#333" stroke-width="0.9"/>
<text x="359" y="37.4" font-size="8.1" text-anchor="start" fill="#222" font-family="Liberation Serif">BALB/c</text>
<text x="361" y="45.9" font-size="8.1" text-anchor="start" fill="#222" font-family="Liberation Serif">plt/plt</text>
<text x="367.3" y="60.2" font-size="10" text-anchor="middle" fill="#111" font-family="Liberation Serif">Day 5</text>
<text transform="translate(277.2,71) rotate(-90)" font-size="10" text-anchor="middle" font-family="Liberation Serif" fill="#111">% apoptotic</text>
<text transform="translate(287.5,72.3) rotate(-90)" font-size="10.4" text-anchor="middle" font-family="Liberation Serif" fill="#111">D011.10 CD4<tspan font-size="7.8" dy="-4.3">+</tspan><tspan dy="4.3"> cells</tspan></text>
<text class="L" x="395.4" y="14.4" font-family="Liberation Sans" font-weight="bold" font-size="17" fill="#000">D</text>
<line x1="429.4" y1="26.4" x2="518.4" y2="26.4" stroke="#777" stroke-width="1" />
<line x1="518.4" y1="26.4" x2="518.4" y2="114.4" stroke="#777" stroke-width="1" />
<line x1="429.4" y1="25.9" x2="429.4" y2="114.9" stroke="#3a3a3a" stroke-width="1" />
<line x1="427.4" y1="114.4" x2="518.4" y2="114.4" stroke="#2a2a2a" stroke-width="1" />
<line x1="426.9" y1="114.4" x2="429.4" y2="114.4" stroke="#222" stroke-width="1" />
<text x="426.3" y="117.7" font-size="7.8" text-anchor="end" fill="#3a3a3a" font-family="Liberation Serif">0</text>
<line x1="426.9" y1="92.4" x2="429.4" y2="92.4" stroke="#222" stroke-width="1" />
<text x="426.3" y="95.7" font-size="7.8" text-anchor="end" fill="#3a3a3a" font-family="Liberation Serif">10</text>
<line x1="426.9" y1="70.4" x2="429.4" y2="70.4" stroke="#222" stroke-width="1" />
<text x="426.3" y="73.7" font-size="7.8" text-anchor="end" fill="#3a3a3a" font-family="Liberation Serif">20</text>
<line x1="426.9" y1="48.4" x2="429.4" y2="48.4" stroke="#222" stroke-width="1" />
<text x="426.3" y="51.7" font-size="7.8" text-anchor="end" fill="#3a3a3a" font-family="Liberation Serif">30</text>
<line x1="426.9" y1="26.4" x2="429.4" y2="26.4" stroke="#222" stroke-width="1" />
<text x="426.3" y="29.7" font-size="7.8" text-anchor="end" fill="#3a3a3a" font-family="Liberation Serif">40</text>
<line x1="427.6" y1="103.4" x2="429.4" y2="103.4" stroke="#555" stroke-width="0.8" />
<line x1="427.6" y1="81.4" x2="429.4" y2="81.4" stroke="#555" stroke-width="0.8" />
<line x1="427.6" y1="59.4" x2="429.4" y2="59.4" stroke="#555" stroke-width="0.8" />
<line x1="427.6" y1="37.4" x2="429.4" y2="37.4" stroke="#555" stroke-width="0.8" />
<line x1="432.57" y1="90.42" x2="432.57" y2="89.76" stroke="#333" stroke-width="0.9" />
<line x1="431.27" y1="89.76" x2="433.88" y2="89.76" stroke="#333" stroke-width="0.9" />
<line x1="436.22" y1="94.82" x2="436.22" y2="94.38" stroke="#333" stroke-width="0.9" />
<line x1="434.92" y1="94.38" x2="437.52" y2="94.38" stroke="#333" stroke-width="0.9" />
<rect x="430.75" y="90.42" width="3.65" height="23.98" fill="#fff" stroke="#222" stroke-width="0.9"/>
<rect x="434.4" y="94.82" width="3.65" height="19.58" fill="#3a3a3a" stroke="#222" stroke-width="0.9"/>
<line x1="438.8" y1="114.4" x2="438.8" y2="116.4" stroke="#333" stroke-width="0.8" />
<text x="433.5" y="123.3" font-size="8.8" text-anchor="middle" fill="#111" font-family="Liberation Serif">&gt;9</text>
<line x1="441.38" y1="89.76" x2="441.38" y2="88.88" stroke="#333" stroke-width="0.9" />
<line x1="440.07" y1="88.88" x2="442.68" y2="88.88" stroke="#333" stroke-width="0.9" />
<line x1="445.02" y1="72.82" x2="445.02" y2="67.98" stroke="#333" stroke-width="0.9" />
<line x1="443.72" y1="67.98" x2="446.32" y2="67.98" stroke="#333" stroke-width="0.9" />
<rect x="439.55" y="89.76" width="3.65" height="24.64" fill="#fff" stroke="#222" stroke-width="0.9"/>
<rect x="443.2" y="72.82" width="3.65" height="41.58" fill="#3a3a3a" stroke="#222" stroke-width="0.9"/>
<line x1="447.6" y1="114.4" x2="447.6" y2="116.4" stroke="#333" stroke-width="0.8" />
<text x="442.2" y="123.3" font-size="8.8" text-anchor="middle" fill="#111" font-family="Liberation Serif">8</text>
<line x1="450.18" y1="62.04" x2="450.18" y2="61.38" stroke="#333" stroke-width="0.9" />
<line x1="448.88" y1="61.38" x2="451.48" y2="61.38" stroke="#333" stroke-width="0.9" />
<line x1="453.82" y1="64.68" x2="453.82" y2="64.02" stroke="#333" stroke-width="0.9" />
<line x1="452.52" y1="64.02" x2="455.12" y2="64.02" stroke="#333" stroke-width="0.9" />
<rect x="448.35" y="62.04" width="3.65" height="52.36" fill="#fff" stroke="#222" stroke-width="0.9"/>
<rect x="452" y="64.68" width="3.65" height="49.72" fill="#3a3a3a" stroke="#222" stroke-width="0.9"/>
<line x1="456.4" y1="114.4" x2="456.4" y2="116.4" stroke="#333" stroke-width="0.8" />
<text x="451.9" y="123.3" font-size="8.8" text-anchor="middle" fill="#111" font-family="Liberation Serif">7</text>
<line x1="458.97" y1="68.42" x2="458.97" y2="66.22" stroke="#333" stroke-width="0.9" />
<line x1="457.67" y1="66.22" x2="460.27" y2="66.22" stroke="#333" stroke-width="0.9" />
<line x1="462.62" y1="75.9" x2="462.62" y2="75.24" stroke="#333" stroke-width="0.9" />
<line x1="461.32" y1="75.24" x2="463.92" y2="75.24" stroke="#333" stroke-width="0.9" />
<rect x="457.15" y="68.42" width="3.65" height="45.98" fill="#fff" stroke="#222" stroke-width="0.9"/>
<rect x="460.8" y="75.9" width="3.65" height="38.5" fill="#3a3a3a" stroke="#222" stroke-width="0.9"/>
<line x1="465.2" y1="114.4" x2="465.2" y2="116.4" stroke="#333" stroke-width="0.8" />
<text x="460.6" y="123.3" font-size="8.8" text-anchor="middle" fill="#111" font-family="Liberation Serif">6</text>
<line x1="467.77" y1="105.38" x2="467.77" y2="104.94" stroke="#333" stroke-width="0.9" />
<line x1="466.47" y1="104.94" x2="469.07" y2="104.94" stroke="#333" stroke-width="0.9" />
<line x1="471.42" y1="102.74" x2="471.42" y2="102.08" stroke="#333" stroke-width="0.9" />
<line x1="470.12" y1="102.08" x2="472.72" y2="102.08" stroke="#333" stroke-width="0.9" />
<rect x="465.95" y="105.38" width="3.65" height="9.02" fill="#fff" stroke="#222" stroke-width="0.9"/>
<rect x="469.6" y="102.74" width="3.65" height="11.66" fill="#3a3a3a" stroke="#222" stroke-width="0.9"/>
<line x1="474" y1="114.4" x2="474" y2="116.4" stroke="#333" stroke-width="0.8" />
<text x="469.1" y="123.3" font-size="8.8" text-anchor="middle" fill="#111" font-family="Liberation Serif">5</text>
<line x1="476.57" y1="108.24" x2="476.57" y2="106.48" stroke="#333" stroke-width="0.9" />
<line x1="475.27" y1="106.48" x2="477.88" y2="106.48" stroke="#333" stroke-width="0.9" />
<line x1="480.22" y1="108.02" x2="480.22" y2="107.58" stroke="#333" stroke-width="0.9" />
<line x1="478.92" y1="107.58" x2="481.52" y2="107.58" stroke="#333" stroke-width="0.9" />
<rect x="474.75" y="108.24" width="3.65" height="6.16" fill="#fff" stroke="#222" stroke-width="0.9"/>
<rect x="478.4" y="108.02" width="3.65" height="6.38" fill="#3a3a3a" stroke="#222" stroke-width="0.9"/>
<line x1="482.8" y1="114.4" x2="482.8" y2="116.4" stroke="#333" stroke-width="0.8" />
<text x="478.3" y="123.3" font-size="8.8" text-anchor="middle" fill="#111" font-family="Liberation Serif">4</text>
<line x1="489.02" y1="111.76" x2="489.02" y2="111.54" stroke="#333" stroke-width="0.9" />
<line x1="487.72" y1="111.54" x2="490.32" y2="111.54" stroke="#333" stroke-width="0.9" />
<rect x="483.55" y="112.64" width="3.65" height="1.76" fill="#fff" stroke="#222" stroke-width="0.9"/>
<rect x="487.2" y="111.76" width="3.65" height="2.64" fill="#3a3a3a" stroke="#222" stroke-width="0.9"/>
<line x1="491.6" y1="114.4" x2="491.6" y2="116.4" stroke="#333" stroke-width="0.8" />
<text x="486.8" y="123.3" font-size="8.8" text-anchor="middle" fill="#111" font-family="Liberation Serif">3</text>
<line x1="497.82" y1="112.64" x2="497.82" y2="112.42" stroke="#333" stroke-width="0.9" />
<line x1="496.52" y1="112.42" x2="499.12" y2="112.42" stroke="#333" stroke-width="0.9" />
<rect x="492.35" y="113.3" width="3.65" height="1.1" fill="#fff" stroke="#222" stroke-width="0.9"/>
<rect x="496" y="112.64" width="3.65" height="1.76" fill="#3a3a3a" stroke="#222" stroke-width="0.9"/>
<line x1="500.4" y1="114.4" x2="500.4" y2="116.4" stroke="#333" stroke-width="0.8" />
<text x="495.5" y="123.3" font-size="8.8" text-anchor="middle" fill="#111" font-family="Liberation Serif">2</text>
<rect x="501.15" y="113.52" width="3.65" height="0.88" fill="#fff" stroke="#222" stroke-width="0.9"/>
<rect x="504.8" y="113.52" width="3.65" height="0.88" fill="#3a3a3a" stroke="#222" stroke-width="0.9"/>
<line x1="509.2" y1="114.4" x2="509.2" y2="116.4" stroke="#333" stroke-width="0.8" />
<text x="504.7" y="123.3" font-size="8.8" text-anchor="middle" fill="#111" font-family="Liberation Serif">1</text>
<line x1="511.78" y1="112.64" x2="511.78" y2="112.2" stroke="#333" stroke-width="0.9" />
<line x1="510.48" y1="112.2" x2="513.08" y2="112.2" stroke="#333" stroke-width="0.9" />
<line x1="515.43" y1="111.54" x2="515.43" y2="111.32" stroke="#333" stroke-width="0.9" />
<line x1="514.13" y1="111.32" x2="516.73" y2="111.32" stroke="#333" stroke-width="0.9" />
<rect x="509.95" y="112.64" width="3.65" height="1.76" fill="#fff" stroke="#222" stroke-width="0.9"/>
<rect x="513.6" y="111.54" width="3.65" height="2.86" fill="#3a3a3a" stroke="#222" stroke-width="0.9"/>
<text x="513.2" y="123.3" font-size="8.8" text-anchor="middle" fill="#111" font-family="Liberation Serif">0</text>
<text x="474.4" y="131.8" font-size="10" text-anchor="middle" fill="#111" font-family="Liberation Serif">Divisions</text>
<rect x="479" y="28.8" width="37.6" height="20.8" fill="#fff" stroke="#666" stroke-width="0.9"/>
<rect x="481" y="32.3" width="5" height="5" fill="#fff" stroke="#333" stroke-width="0.9"/>
<rect x="481" y="40.3" width="5" height="5" fill="#3a3a3a" stroke="#333" stroke-width="0.9"/>
<text x="487.7" y="37.5" font-size="8.1" text-anchor="start" fill="#222" font-family="Liberation Serif">BALB/c</text>
<text x="489.7" y="45.5" font-size="8.1" text-anchor="start" fill="#222" font-family="Liberation Serif">plt/plt</text>
<text x="498" y="59.7" font-size="10" text-anchor="middle" fill="#111" font-family="Liberation Serif">Day 5</text>
<text transform="translate(414.6,70.9) rotate(-90)" font-size="10" text-anchor="middle" font-family="Liberation Serif" fill="#111">% DO11.10 CD4<tspan font-size="7.8" dy="-4.3">+</tspan><tspan dy="4.3"> cells</tspan></text>
<text class="L" x="268.5" y="154.4" font-family="Liberation Sans" font-weight="bold" font-size="17" fill="#000">E</text>
<line x1="300.2" y1="173.3" x2="387.9" y2="173.3" stroke="#777" stroke-width="1" />
<line x1="387.9" y1="173.3" x2="387.9" y2="260.6" stroke="#777" stroke-width="1" />
<line x1="300.2" y1="172.8" x2="300.2" y2="261.1" stroke="#3a3a3a" stroke-width="1" />
<line x1="298.2" y1="260.6" x2="387.9" y2="260.6" stroke="#2a2a2a" stroke-width="1" />
<line x1="297.7" y1="260.6" x2="300.2" y2="260.6" stroke="#222" stroke-width="1" />
<text x="297.1" y="263.9" font-size="7.8" text-anchor="end" fill="#3a3a3a" font-family="Liberation Serif">0</text>
<line x1="297.7" y1="231.5" x2="300.2" y2="231.5" stroke="#222" stroke-width="1" />
<text x="297.1" y="234.8" font-size="7.8" text-anchor="end" fill="#3a3a3a" font-family="Liberation Serif">1</text>
<line x1="297.7" y1="202.4" x2="300.2" y2="202.4" stroke="#222" stroke-width="1" />
<text x="297.1" y="205.7" font-size="7.8" text-anchor="end" fill="#3a3a3a" font-family="Liberation Serif">2</text>
<line x1="297.7" y1="173.3" x2="300.2" y2="173.3" stroke="#222" stroke-width="1" />
<text x="297.1" y="176.6" font-size="7.8" text-anchor="end" fill="#3a3a3a" font-family="Liberation Serif">3</text>
<line x1="298.4" y1="246.05" x2="300.2" y2="246.05" stroke="#555" stroke-width="0.8" />
<line x1="298.4" y1="216.95" x2="300.2" y2="216.95" stroke="#555" stroke-width="0.8" />
<line x1="298.4" y1="187.85" x2="300.2" y2="187.85" stroke="#555" stroke-width="0.8" />
<line x1="303.18" y1="224.81" x2="303.18" y2="215.2" stroke="#333" stroke-width="0.9" />
<line x1="301.88" y1="215.2" x2="304.48" y2="215.2" stroke="#333" stroke-width="0.9" />
<line x1="306.82" y1="247.21" x2="306.82" y2="242.85" stroke="#333" stroke-width="0.9" />
<line x1="305.52" y1="242.85" x2="308.12" y2="242.85" stroke="#333" stroke-width="0.9" />
<rect x="301.35" y="224.81" width="3.65" height="35.79" fill="#fff" stroke="#222" stroke-width="0.9"/>
<rect x="305" y="247.21" width="3.65" height="13.39" fill="#606060" stroke="#222" stroke-width="0.9"/>
<line x1="309.4" y1="260.6" x2="309.4" y2="262.6" stroke="#333" stroke-width="0.8" />
<text x="304.4" y="269.6" font-size="8.8" text-anchor="middle" fill="#111" font-family="Liberation Serif">&gt;9</text>
<line x1="311.98" y1="193.09" x2="311.98" y2="173.3" stroke="#333" stroke-width="0.9" />
<line x1="315.62" y1="226.55" x2="315.62" y2="225.68" stroke="#333" stroke-width="0.9" />
<line x1="314.32" y1="225.68" x2="316.93" y2="225.68" stroke="#333" stroke-width="0.9" />
<rect x="310.15" y="193.09" width="3.65" height="67.51" fill="#fff" stroke="#222" stroke-width="0.9"/>
<rect x="313.8" y="226.55" width="3.65" height="34.05" fill="#606060" stroke="#222" stroke-width="0.9"/>
<line x1="318.2" y1="260.6" x2="318.2" y2="262.6" stroke="#333" stroke-width="0.8" />
<text x="313.5" y="269.6" font-size="8.8" text-anchor="middle" fill="#111" font-family="Liberation Serif">8</text>
<line x1="320.78" y1="182.61" x2="320.78" y2="177.67" stroke="#333" stroke-width="0.9" />
<line x1="319.48" y1="177.67" x2="322.08" y2="177.67" stroke="#333" stroke-width="0.9" />
<line x1="324.43" y1="218.41" x2="324.43" y2="204.44" stroke="#333" stroke-width="0.9" />
<line x1="323.12" y1="204.44" x2="325.73" y2="204.44" stroke="#333" stroke-width="0.9" />
<rect x="318.95" y="182.61" width="3.65" height="77.99" fill="#fff" stroke="#222" stroke-width="0.9"/>
<rect x="322.6" y="218.41" width="3.65" height="42.2" fill="#606060" stroke="#222" stroke-width="0.9"/>
<line x1="327" y1="260.6" x2="327" y2="262.6" stroke="#333" stroke-width="0.8" />
<text x="321.7" y="269.6" font-size="8.8" text-anchor="middle" fill="#111" font-family="Liberation Serif">7</text>
<line x1="329.57" y1="237.32" x2="329.57" y2="233.54" stroke="#333" stroke-width="0.9" />
<line x1="328.27" y1="233.54" x2="330.88" y2="233.54" stroke="#333" stroke-width="0.9" />
<line x1="333.22" y1="239.65" x2="333.22" y2="237.32" stroke="#333" stroke-width="0.9" />
<line x1="331.92" y1="237.32" x2="334.52" y2="237.32" stroke="#333" stroke-width="0.9" />
<rect x="327.75" y="237.32" width="3.65" height="23.28" fill="#fff" stroke="#222" stroke-width="0.9"/>
<rect x="331.4" y="239.65" width="3.65" height="20.95" fill="#606060" stroke="#222" stroke-width="0.9"/>
<line x1="335.8" y1="260.6" x2="335.8" y2="262.6" stroke="#333" stroke-width="0.8" />
<text x="330.8" y="269.6" font-size="8.8" text-anchor="middle" fill="#111" font-family="Liberation Serif">6</text>
<line x1="338.38" y1="253.91" x2="338.38" y2="252.45" stroke="#333" stroke-width="0.9" />
<line x1="337.07" y1="252.45" x2="339.68" y2="252.45" stroke="#333" stroke-width="0.9" />
<line x1="342.02" y1="253.62" x2="342.02" y2="251.87" stroke="#333" stroke-width="0.9" />
<line x1="340.72" y1="251.87" x2="343.32" y2="251.87" stroke="#333" stroke-width="0.9" />
<rect x="336.55" y="253.91" width="3.65" height="6.69" fill="#fff" stroke="#222" stroke-width="0.9"/>
<rect x="340.2" y="253.62" width="3.65" height="6.98" fill="#606060" stroke="#222" stroke-width="0.9"/>
<line x1="344.6" y1="260.6" x2="344.6" y2="262.6" stroke="#333" stroke-width="0.8" />
<text x="339.6" y="269.6" font-size="8.8" text-anchor="middle" fill="#111" font-family="Liberation Serif">5</text>
<line x1="347.18" y1="255.65" x2="347.18" y2="255.07" stroke="#333" stroke-width="0.9" />
<line x1="345.88" y1="255.07" x2="348.48" y2="255.07" stroke="#333" stroke-width="0.9" />
<line x1="350.82" y1="256.82" x2="350.82" y2="256.24" stroke="#333" stroke-width="0.9" />
<line x1="349.52" y1="256.24" x2="352.12" y2="256.24" stroke="#333" stroke-width="0.9" />
<rect x="345.35" y="255.65" width="3.65" height="4.95" fill="#fff" stroke="#222" stroke-width="0.9"/>
<rect x="349" y="256.82" width="3.65" height="3.78" fill="#606060" stroke="#222" stroke-width="0.9"/>
<line x1="353.4" y1="260.6" x2="353.4" y2="262.6" stroke="#333" stroke-width="0.8" />
<text x="348.3" y="269.6" font-size="8.8" text-anchor="middle" fill="#111" font-family="Liberation Serif">4</text>
<line x1="355.98" y1="258.27" x2="355.98" y2="257.98" stroke="#333" stroke-width="0.9" />
<line x1="354.68" y1="257.98" x2="357.28" y2="257.98" stroke="#333" stroke-width="0.9" />
<line x1="359.62" y1="258.56" x2="359.62" y2="258.27" stroke="#333" stroke-width="0.9" />
<line x1="358.32" y1="258.27" x2="360.93" y2="258.27" stroke="#333" stroke-width="0.9" />
<rect x="354.15" y="258.27" width="3.65" height="2.33" fill="#fff" stroke="#222" stroke-width="0.9"/>
<rect x="357.8" y="258.56" width="3.65" height="2.04" fill="#606060" stroke="#222" stroke-width="0.9"/>
<line x1="362.2" y1="260.6" x2="362.2" y2="262.6" stroke="#333" stroke-width="0.8" />
<text x="357.3" y="269.6" font-size="8.8" text-anchor="middle" fill="#111" font-family="Liberation Serif">3</text>
<rect x="362.95" y="259.44" width="3.65" height="1.16" fill="#fff" stroke="#222" stroke-width="0.9"/>
<rect x="366.6" y="259.73" width="3.65" height="0.87" fill="#606060" stroke="#222" stroke-width="0.9"/>
<line x1="371" y1="260.6" x2="371" y2="262.6" stroke="#333" stroke-width="0.8" />
<text x="366" y="269.6" font-size="8.8" text-anchor="middle" fill="#111" font-family="Liberation Serif">2</text>
<line x1="373.57" y1="259.15" x2="373.57" y2="258.85" stroke="#333" stroke-width="0.9" />
<line x1="372.27" y1="258.85" x2="374.88" y2="258.85" stroke="#333" stroke-width="0.9" />
<rect x="371.75" y="259.15" width="3.65" height="1.46" fill="#fff" stroke="#222" stroke-width="0.9"/>
<rect x="375.4" y="260.02" width="3.65" height="0.58" fill="#606060" stroke="#222" stroke-width="0.9"/>
<line x1="379.8" y1="260.6" x2="379.8" y2="262.6" stroke="#333" stroke-width="0.8" />
<text x="373.7" y="269.6" font-size="8.8" text-anchor="middle" fill="#111" font-family="Liberation Serif">1</text>
<line x1="382.38" y1="255.65" x2="382.38" y2="255.07" stroke="#333" stroke-width="0.9" />
<line x1="381.07" y1="255.07" x2="383.68" y2="255.07" stroke="#333" stroke-width="0.9" />
<line x1="386.02" y1="257.69" x2="386.02" y2="257.4" stroke="#333" stroke-width="0.9" />
<line x1="384.72" y1="257.4" x2="387.32" y2="257.4" stroke="#333" stroke-width="0.9" />
<rect x="380.55" y="255.65" width="3.65" height="4.95" fill="#fff" stroke="#222" stroke-width="0.9"/>
<rect x="384.2" y="257.69" width="3.65" height="2.91" fill="#606060" stroke="#222" stroke-width="0.9"/>
<text x="382.7" y="269.6" font-size="8.8" text-anchor="middle" fill="#111" font-family="Liberation Serif">0</text>
<text x="344.55" y="279.2" font-size="10" text-anchor="middle" fill="#111" font-family="Liberation Serif">Divisions</text>
<rect x="347" y="175.2" width="40.2" height="21.1" fill="#fff" stroke="#666" stroke-width="0.9"/>
<rect x="350.4" y="179" width="5" height="5" fill="#fff" stroke="#333" stroke-width="0.9"/>
<rect x="350.4" y="187.1" width="5" height="5" fill="#606060" stroke="#333" stroke-width="0.9"/>
<text x="359" y="184.2" font-size="8.1" text-anchor="start" fill="#222" font-family="Liberation Serif">BALB/c</text>
<text x="361" y="192.3" font-size="8.1" text-anchor="start" fill="#222" font-family="Liberation Serif">plt/plt</text>
<text x="366.7" y="206.9" font-size="10" text-anchor="middle" fill="#111" font-family="Liberation Serif">Day 11</text>
<text transform="translate(278.6,213.2) rotate(-90)" font-size="10.2" text-anchor="middle" font-family="Liberation Serif" fill="#111">% apoptotic</text>
<text transform="translate(290.4,215.8) rotate(-90)" font-size="10.4" text-anchor="middle" font-family="Liberation Serif" fill="#111">DO11.10 CD4<tspan font-size="7.8" dy="-4.3">+</tspan><tspan dy="4.3"> cells</tspan></text>
<text x="307.6" y="229.4" font-size="10.5" text-anchor="middle" fill="#222" font-family="Liberation Serif">*</text>
<text x="316.2" y="197" font-size="10.5" text-anchor="middle" fill="#222" font-family="Liberation Serif">*</text>
<text x="324.6" y="186.1" font-size="10.5" text-anchor="middle" fill="#222" font-family="Liberation Serif">*</text>
<text class="L" x="407.2" y="152.3" font-family="Liberation Sans" font-weight="bold" font-size="17" fill="#000">F</text>
<line x1="430.1" y1="173.1" x2="518.4" y2="173.1" stroke="#777" stroke-width="1" />
<line x1="518.4" y1="173.1" x2="518.4" y2="261.3" stroke="#777" stroke-width="1" />
<line x1="430.1" y1="172.6" x2="430.1" y2="261.8" stroke="#3a3a3a" stroke-width="1" />
<line x1="428.1" y1="261.3" x2="518.4" y2="261.3" stroke="#2a2a2a" stroke-width="1" />
<line x1="427.6" y1="261.3" x2="430.1" y2="261.3" stroke="#222" stroke-width="1" />
<text x="427" y="264.6" font-size="7.8" text-anchor="end" fill="#3a3a3a" font-family="Liberation Serif">0</text>
<line x1="427.6" y1="239.25" x2="430.1" y2="239.25" stroke="#222" stroke-width="1" />
<text x="427" y="242.55" font-size="7.8" text-anchor="end" fill="#3a3a3a" font-family="Liberation Serif">10</text>
<line x1="427.6" y1="217.2" x2="430.1" y2="217.2" stroke="#222" stroke-width="1" />
<text x="427" y="220.5" font-size="7.8" text-anchor="end" fill="#3a3a3a" font-family="Liberation Serif">20</text>
<line x1="427.6" y1="195.15" x2="430.1" y2="195.15" stroke="#222" stroke-width="1" />
<text x="427" y="198.45" font-size="7.8" text-anchor="end" fill="#3a3a3a" font-family="Liberation Serif">30</text>
<line x1="427.6" y1="173.1" x2="430.1" y2="173.1" stroke="#222" stroke-width="1" />
<text x="427" y="176.4" font-size="7.8" text-anchor="end" fill="#3a3a3a" font-family="Liberation Serif">40</text>
<line x1="428.3" y1="250.28" x2="430.1" y2="250.28" stroke="#555" stroke-width="0.8" />
<line x1="428.3" y1="228.22" x2="430.1" y2="228.22" stroke="#555" stroke-width="0.8" />
<line x1="428.3" y1="206.18" x2="430.1" y2="206.18" stroke="#555" stroke-width="0.8" />
<line x1="428.3" y1="184.12" x2="430.1" y2="184.12" stroke="#555" stroke-width="0.8" />
<line x1="433.28" y1="239.25" x2="433.28" y2="232.63" stroke="#333" stroke-width="0.9" />
<line x1="431.98" y1="232.63" x2="434.58" y2="232.63" stroke="#333" stroke-width="0.9" />
<line x1="436.93" y1="231.31" x2="436.93" y2="229.33" stroke="#333" stroke-width="0.9" />
<line x1="435.62" y1="229.33" x2="438.23" y2="229.33" stroke="#333" stroke-width="0.9" />
<rect x="431.45" y="239.25" width="3.65" height="22.05" fill="#fff" stroke="#222" stroke-width="0.9"/>
<rect x="435.1" y="231.31" width="3.65" height="29.99" fill="#3a3a3a" stroke="#222" stroke-width="0.9"/>
<line x1="439.5" y1="261.3" x2="439.5" y2="263.3" stroke="#333" stroke-width="0.8" />
<text x="433.8" y="268.9" font-size="8.8" text-anchor="middle" fill="#111" font-family="Liberation Serif">&gt;9</text>
<line x1="442.08" y1="204.63" x2="442.08" y2="184.12" stroke="#333" stroke-width="0.9" />
<line x1="440.78" y1="184.12" x2="443.38" y2="184.12" stroke="#333" stroke-width="0.9" />
<line x1="445.73" y1="214.33" x2="445.73" y2="208.38" stroke="#333" stroke-width="0.9" />
<line x1="444.43" y1="208.38" x2="447.03" y2="208.38" stroke="#333" stroke-width="0.9" />
<rect x="440.25" y="204.63" width="3.65" height="56.67" fill="#fff" stroke="#222" stroke-width="0.9"/>
<rect x="443.9" y="214.33" width="3.65" height="46.97" fill="#3a3a3a" stroke="#222" stroke-width="0.9"/>
<line x1="448.3" y1="261.3" x2="448.3" y2="263.3" stroke="#333" stroke-width="0.8" />
<text x="443.3" y="268.9" font-size="8.8" text-anchor="middle" fill="#111" font-family="Liberation Serif">8</text>
<line x1="450.88" y1="196.69" x2="450.88" y2="183.02" stroke="#333" stroke-width="0.9" />
<line x1="449.58" y1="183.02" x2="452.18" y2="183.02" stroke="#333" stroke-width="0.9" />
<line x1="454.53" y1="198.02" x2="454.53" y2="186.33" stroke="#333" stroke-width="0.9" />
<line x1="453.23" y1="186.33" x2="455.83" y2="186.33" stroke="#333" stroke-width="0.9" />
<rect x="449.05" y="196.69" width="3.65" height="64.61" fill="#fff" stroke="#222" stroke-width="0.9"/>
<rect x="452.7" y="198.02" width="3.65" height="63.28" fill="#3a3a3a" stroke="#222" stroke-width="0.9"/>
<line x1="457.1" y1="261.3" x2="457.1" y2="263.3" stroke="#333" stroke-width="0.8" />
<text x="452" y="268.9" font-size="8.8" text-anchor="middle" fill="#111" font-family="Liberation Serif">7</text>
<line x1="459.68" y1="231.09" x2="459.68" y2="226.02" stroke="#333" stroke-width="0.9" />
<line x1="458.38" y1="226.02" x2="460.98" y2="226.02" stroke="#333" stroke-width="0.9" />
<line x1="463.32" y1="226.9" x2="463.32" y2="223.81" stroke="#333" stroke-width="0.9" />
<line x1="462.02" y1="223.81" x2="464.62" y2="223.81" stroke="#333" stroke-width="0.9" />
<rect x="457.85" y="231.09" width="3.65" height="30.21" fill="#fff" stroke="#222" stroke-width="0.9"/>
<rect x="461.5" y="226.9" width="3.65" height="34.4" fill="#3a3a3a" stroke="#222" stroke-width="0.9"/>
<line x1="465.9" y1="261.3" x2="465.9" y2="263.3" stroke="#333" stroke-width="0.8" />
<text x="461.6" y="268.9" font-size="8.8" text-anchor="middle" fill="#111" font-family="Liberation Serif">6</text>
<line x1="468.48" y1="244.54" x2="468.48" y2="242.56" stroke="#333" stroke-width="0.9" />
<line x1="467.18" y1="242.56" x2="469.78" y2="242.56" stroke="#333" stroke-width="0.9" />
<line x1="472.12" y1="243.66" x2="472.12" y2="241.46" stroke="#333" stroke-width="0.9" />
<line x1="470.82" y1="241.46" x2="473.43" y2="241.46" stroke="#333" stroke-width="0.9" />
<rect x="466.65" y="244.54" width="3.65" height="16.76" fill="#fff" stroke="#222" stroke-width="0.9"/>
<rect x="470.3" y="243.66" width="3.65" height="17.64" fill="#3a3a3a" stroke="#222" stroke-width="0.9"/>
<line x1="474.7" y1="261.3" x2="474.7" y2="263.3" stroke="#333" stroke-width="0.8" />
<text x="470.7" y="268.9" font-size="8.8" text-anchor="middle" fill="#111" font-family="Liberation Serif">5</text>
<line x1="477.28" y1="249.83" x2="477.28" y2="248.95" stroke="#333" stroke-width="0.9" />
<line x1="475.98" y1="248.95" x2="478.58" y2="248.95" stroke="#333" stroke-width="0.9" />
<line x1="480.93" y1="247.41" x2="480.93" y2="243.66" stroke="#333" stroke-width="0.9" />
<line x1="479.62" y1="243.66" x2="482.23" y2="243.66" stroke="#333" stroke-width="0.9" />
<rect x="475.45" y="249.83" width="3.65" height="11.47" fill="#fff" stroke="#222" stroke-width="0.9"/>
<rect x="479.1" y="247.41" width="3.65" height="13.89" fill="#3a3a3a" stroke="#222" stroke-width="0.9"/>
<line x1="483.5" y1="261.3" x2="483.5" y2="263.3" stroke="#333" stroke-width="0.8" />
<text x="478.9" y="268.9" font-size="8.8" text-anchor="middle" fill="#111" font-family="Liberation Serif">4</text>
<line x1="486.08" y1="252.7" x2="486.08" y2="252.26" stroke="#333" stroke-width="0.9" />
<line x1="484.78" y1="252.26" x2="487.38" y2="252.26" stroke="#333" stroke-width="0.9" />
<line x1="489.73" y1="253.58" x2="489.73" y2="253.14" stroke="#333" stroke-width="0.9" />
<line x1="488.43" y1="253.14" x2="491.03" y2="253.14" stroke="#333" stroke-width="0.9" />
<rect x="484.25" y="252.7" width="3.65" height="8.6" fill="#fff" stroke="#222" stroke-width="0.9"/>
<rect x="487.9" y="253.58" width="3.65" height="7.72" fill="#3a3a3a" stroke="#222" stroke-width="0.9"/>
<line x1="492.3" y1="261.3" x2="492.3" y2="263.3" stroke="#333" stroke-width="0.8" />
<text x="488.1" y="268.9" font-size="8.8" text-anchor="middle" fill="#111" font-family="Liberation Serif">3</text>
<line x1="494.88" y1="256.89" x2="494.88" y2="256.45" stroke="#333" stroke-width="0.9" />
<line x1="493.58" y1="256.45" x2="496.18" y2="256.45" stroke="#333" stroke-width="0.9" />
<line x1="498.53" y1="257.55" x2="498.53" y2="257.11" stroke="#333" stroke-width="0.9" />
<line x1="497.23" y1="257.11" x2="499.83" y2="257.11" stroke="#333" stroke-width="0.9" />
<rect x="493.05" y="256.89" width="3.65" height="4.41" fill="#fff" stroke="#222" stroke-width="0.9"/>
<rect x="496.7" y="257.55" width="3.65" height="3.75" fill="#3a3a3a" stroke="#222" stroke-width="0.9"/>
<line x1="501.1" y1="261.3" x2="501.1" y2="263.3" stroke="#333" stroke-width="0.8" />
<text x="496.7" y="268.9" font-size="8.8" text-anchor="middle" fill="#111" font-family="Liberation Serif">2</text>
<line x1="503.68" y1="257.77" x2="503.68" y2="257.55" stroke="#333" stroke-width="0.9" />
<line x1="502.38" y1="257.55" x2="504.98" y2="257.55" stroke="#333" stroke-width="0.9" />
<line x1="507.32" y1="259.98" x2="507.32" y2="259.76" stroke="#333" stroke-width="0.9" />
<line x1="506.02" y1="259.76" x2="508.62" y2="259.76" stroke="#333" stroke-width="0.9" />
<rect x="501.85" y="257.77" width="3.65" height="3.53" fill="#fff" stroke="#222" stroke-width="0.9"/>
<rect x="505.5" y="259.98" width="3.65" height="1.32" fill="#3a3a3a" stroke="#222" stroke-width="0.9"/>
<line x1="509.9" y1="261.3" x2="509.9" y2="263.3" stroke="#333" stroke-width="0.8" />
<text x="504.5" y="268.9" font-size="8.8" text-anchor="middle" fill="#111" font-family="Liberation Serif">1</text>
<line x1="512.48" y1="254.24" x2="512.48" y2="252.04" stroke="#333" stroke-width="0.9" />
<line x1="511.18" y1="252.04" x2="513.78" y2="252.04" stroke="#333" stroke-width="0.9" />
<line x1="516.13" y1="258.65" x2="516.13" y2="258.43" stroke="#333" stroke-width="0.9" />
<line x1="514.83" y1="258.43" x2="517.43" y2="258.43" stroke="#333" stroke-width="0.9" />
<rect x="510.65" y="254.24" width="3.65" height="7.06" fill="#fff" stroke="#222" stroke-width="0.9"/>
<rect x="514.3" y="258.65" width="3.65" height="2.65" fill="#3a3a3a" stroke="#222" stroke-width="0.9"/>
<text x="513.7" y="268.9" font-size="8.8" text-anchor="middle" fill="#111" font-family="Liberation Serif">0</text>
<text x="474.75" y="278.4" font-size="10" text-anchor="middle" fill="#111" font-family="Liberation Serif">Divisions</text>
<rect x="477.2" y="176.1" width="40.5" height="21.2" fill="#fff" stroke="#666" stroke-width="0.9"/>
<rect x="481.6" y="178.8" width="5" height="5" fill="#fff" stroke="#333" stroke-width="0.9"/>
<rect x="481.6" y="187.2" width="5" height="5" fill="#3a3a3a" stroke="#333" stroke-width="0.9"/>
<text x="488.7" y="184" font-size="8.1" text-anchor="start" fill="#222" font-family="Liberation Serif">BALB/c</text>
<text x="490.7" y="192.4" font-size="8.1" text-anchor="start" fill="#222" font-family="Liberation Serif">plt/plt</text>
<text x="497.6" y="206.4" font-size="10" text-anchor="middle" fill="#111" font-family="Liberation Serif">Day 11</text>
<text transform="translate(414.8,215.2) rotate(-90)" font-size="9.8" text-anchor="middle" font-family="Liberation Serif" fill="#111">% DO11.10 CD4<tspan font-size="7.8" dy="-4.3">+</tspan><tspan dy="4.3"> cells</tspan></text></svg>
</body></html>
